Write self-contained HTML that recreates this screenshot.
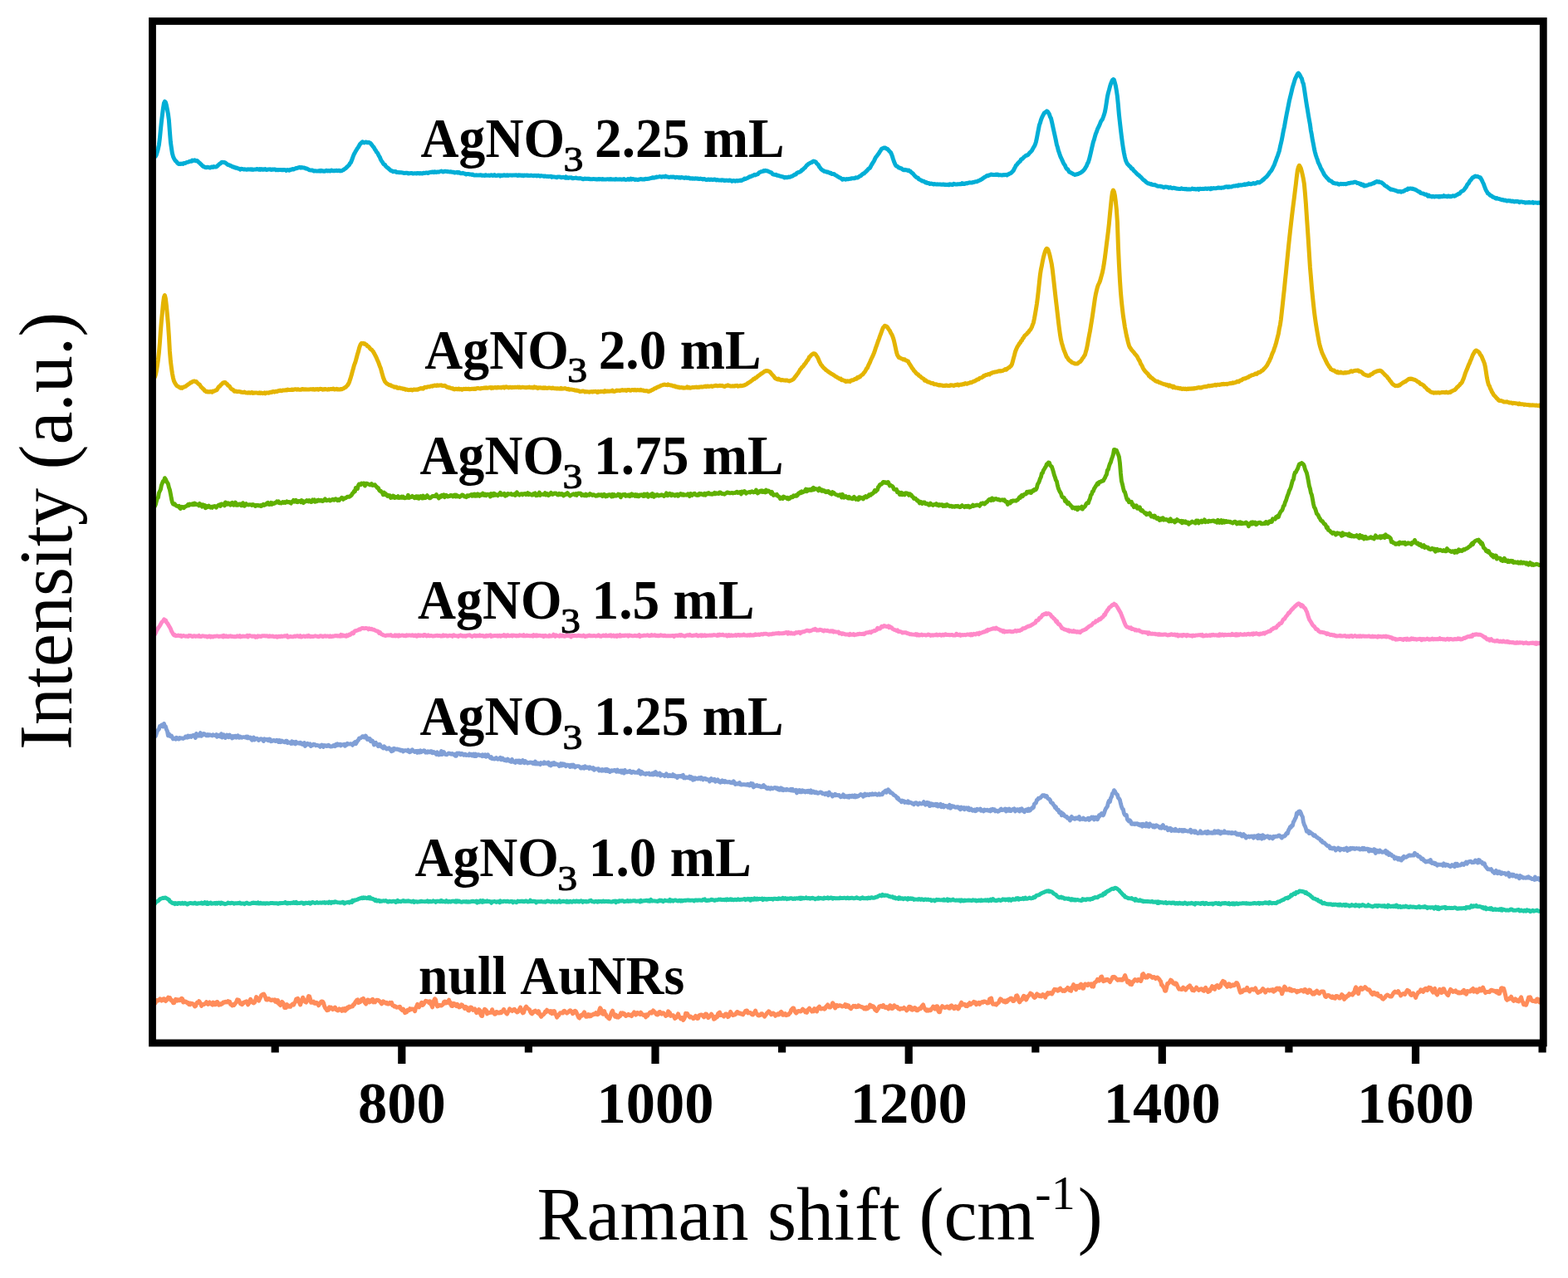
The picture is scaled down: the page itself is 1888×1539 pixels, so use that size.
<!DOCTYPE html>
<html><head><meta charset="utf-8"><title>Raman spectra</title>
<style>
html,body{margin:0;padding:0;background:#fff;}
body{width:1888px;height:1539px;overflow:hidden;}
svg{display:block;}
text{font-kerning:none;}
.tk{font-family:"Liberation Serif","Times New Roman",serif;font-weight:bold;font-size:70.5px;fill:#000;}
.lb{font-family:"Liberation Serif","Times New Roman",serif;font-weight:bold;font-size:67px;fill:#000;}
.lb2{font-family:"Liberation Serif","Times New Roman",serif;font-weight:bold;font-size:65.5px;fill:#000;}
.sb{font-size:42.3px;font-weight:normal;stroke:#000;stroke-width:1.1px;}
.ax{font-family:"Liberation Serif","Times New Roman",serif;font-weight:normal;font-size:90px;fill:#000;}
.sp{font-size:58px;}
</style></head>
<body>
<svg width="1888" height="1539" viewBox="0 0 1888 1539">
<rect width="1888" height="1539" fill="#fff"/>
<polyline fill="none" stroke="#00AED6" stroke-width="5.0" stroke-linejoin="round" stroke-linecap="round" points="186.4,189.0 187.4,188.3 188.4,186.1 189.4,182.8 190.4,179.1 191.4,174.4 192.4,166.4 193.4,156.3 194.4,146.8 195.4,138.5 196.4,130.6 197.4,124.4 198.4,122.2 199.4,123.3 200.4,126.8 201.4,131.8 202.4,137.1 203.4,144.8 204.4,158.5 205.4,171.1 206.4,178.2 207.4,184.6 208.4,188.2 209.4,190.6 210.4,192.4 211.4,193.8 212.4,194.4 213.4,196.1 214.4,197.0 215.4,197.5 216.4,197.2 217.4,197.5 218.4,197.2 219.4,197.1 220.4,197.4 221.4,196.5 222.4,196.4 223.4,196.4 224.4,195.6 225.4,195.4 226.4,195.2 227.4,194.9 228.4,194.2 229.4,194.2 230.4,194.3 231.4,193.1 232.4,193.6 233.4,193.1 234.4,192.8 235.4,193.7 236.4,193.6 237.4,193.5 238.4,194.5 239.4,195.5 240.4,196.2 241.4,197.4 242.4,198.1 243.4,199.3 244.4,200.4 245.4,200.5 246.4,201.3 247.4,201.5 248.4,201.7 249.4,201.3 250.4,201.5 251.4,201.6 252.4,201.9 253.4,201.9 254.4,201.1 255.4,201.1 256.4,201.5 257.4,200.6 258.4,200.9 259.4,200.9 260.4,201.0 261.4,200.3 262.4,199.2 263.4,198.3 264.4,197.4 265.4,197.0 266.4,195.8 267.4,195.3 268.4,195.4 269.4,195.4 270.4,195.8 271.4,196.0 272.4,196.9 273.4,197.4 274.4,198.4 275.4,198.7 276.4,199.0 277.4,199.6 278.4,199.8 279.4,200.7 280.4,200.8 281.4,201.5 282.4,201.3 283.4,202.2 284.4,202.0 285.4,202.2 286.4,202.9 287.4,203.0 288.4,203.4 289.4,204.1 290.4,203.3 291.4,203.4 292.4,203.8 293.4,203.9 294.4,203.8 295.4,203.9 296.4,204.2 297.4,204.2 298.4,203.8 299.4,204.1 300.4,204.1 301.4,203.8 302.4,204.2 303.4,203.8 304.4,204.4 305.4,204.2 306.4,204.1 307.4,203.9 308.4,204.1 309.4,203.5 310.4,203.8 311.4,204.2 312.4,203.5 313.4,204.4 314.4,203.6 315.4,204.3 316.4,203.8 317.4,204.3 318.4,204.1 319.4,203.6 320.4,204.5 321.4,204.5 322.4,204.1 323.4,204.0 324.4,204.1 325.4,203.8 326.4,204.5 327.4,204.0 328.4,204.2 329.4,204.0 330.4,204.1 331.4,203.9 332.4,204.8 333.4,204.4 334.4,204.8 335.4,204.5 336.4,204.4 337.4,204.5 338.4,204.5 339.4,204.7 340.4,204.6 341.4,204.7 342.4,204.4 343.4,204.6 344.4,205.4 345.4,204.7 346.4,204.6 347.4,205.0 348.4,205.2 349.4,204.2 350.4,204.4 351.4,204.1 352.4,203.5 353.4,203.9 354.4,203.4 355.4,203.1 356.4,202.6 357.4,202.7 358.4,202.1 359.4,202.0 360.4,201.5 361.4,201.4 362.4,202.1 363.4,201.6 364.4,201.9 365.4,202.0 366.4,202.1 367.4,202.4 368.4,203.1 369.4,203.1 370.4,203.6 371.4,204.0 372.4,204.7 373.4,204.9 374.4,205.1 375.4,205.1 376.4,205.1 377.4,205.9 378.4,206.0 379.4,205.7 380.4,205.9 381.4,205.9 382.4,205.9 383.4,206.0 384.4,205.6 385.4,206.2 386.4,205.3 387.4,206.0 388.4,205.8 389.4,206.0 390.4,206.3 391.4,206.1 392.4,205.4 393.4,205.2 394.4,205.9 395.4,205.4 396.4,205.7 397.4,206.0 398.4,205.2 399.4,205.1 400.4,205.8 401.4,205.7 402.4,205.6 403.4,205.7 404.4,205.4 405.4,205.2 406.4,205.7 407.4,205.4 408.4,205.2 409.4,205.9 410.4,205.7 411.4,205.7 412.4,205.0 413.4,204.6 414.4,203.9 415.4,203.2 416.4,202.6 417.4,201.4 418.4,200.7 419.4,199.5 420.4,198.8 421.4,196.6 422.4,195.8 423.4,193.3 424.4,190.8 425.4,187.7 426.4,185.5 427.4,183.7 428.4,181.8 429.4,180.2 430.4,178.5 431.4,177.3 432.4,175.5 433.4,173.6 434.4,172.9 435.4,171.7 436.4,170.7 437.4,171.3 438.4,171.9 439.4,171.5 440.4,171.1 441.4,171.2 442.4,171.8 443.4,171.5 444.4,171.6 445.4,172.0 446.4,172.8 447.4,174.2 448.4,175.4 449.4,176.7 450.4,177.9 451.4,179.9 452.4,181.1 453.4,183.1 454.4,183.9 455.4,185.9 456.4,187.8 457.4,189.3 458.4,192.1 459.4,193.8 460.4,195.0 461.4,196.9 462.4,198.1 463.4,198.2 464.4,200.1 465.4,201.0 466.4,201.9 467.4,202.5 468.4,203.5 469.4,204.3 470.4,205.4 471.4,205.7 472.4,206.0 473.4,206.8 474.4,206.4 475.4,206.6 476.4,206.4 477.4,207.5 478.4,207.5 479.4,207.6 480.4,207.7 481.4,207.6 482.4,207.8 483.4,207.8 484.4,207.9 485.4,208.1 486.4,208.6 487.4,208.4 488.4,208.3 489.4,208.3 490.4,208.3 491.4,209.0 492.4,208.8 493.4,208.7 494.4,208.6 495.4,208.4 496.4,208.8 497.4,209.1 498.4,208.7 499.4,208.8 500.4,208.8 501.4,208.9 502.4,208.4 503.4,208.8 504.4,208.6 505.4,209.1 506.4,208.5 507.4,208.9 508.4,209.1 509.4,208.5 510.4,208.3 511.4,208.4 512.4,208.3 513.4,207.9 514.4,208.2 515.4,208.6 516.4,207.8 517.4,207.7 518.4,207.3 519.4,207.6 520.4,207.0 521.4,207.0 522.4,207.6 523.4,206.8 524.4,207.3 525.4,207.4 526.4,206.9 527.4,206.9 528.4,207.3 529.4,206.6 530.4,206.4 531.4,206.1 532.4,206.5 533.4,206.9 534.4,206.8 535.4,206.2 536.4,206.3 537.4,206.4 538.4,206.7 539.4,206.6 540.4,206.8 541.4,206.9 542.4,206.8 543.4,207.0 544.4,207.2 545.4,207.2 546.4,207.5 547.4,208.0 548.4,207.8 549.4,207.7 550.4,207.3 551.4,208.1 552.4,207.5 553.4,207.8 554.4,208.7 555.4,208.8 556.4,208.7 557.4,208.3 558.4,208.9 559.4,208.9 560.4,209.5 561.4,210.1 562.4,209.6 563.4,209.5 564.4,209.5 565.4,210.0 566.4,210.1 567.4,209.9 568.4,210.4 569.4,210.1 570.4,210.9 571.4,211.0 572.4,211.1 573.4,210.7 574.4,211.1 575.4,211.0 576.4,210.9 577.4,211.0 578.4,210.8 579.4,210.7 580.4,211.4 581.4,211.1 582.4,211.3 583.4,211.5 584.4,210.7 585.4,211.0 586.4,211.3 587.4,211.3 588.4,211.1 589.4,211.5 590.4,211.3 591.4,210.8 592.4,210.9 593.4,211.4 594.4,211.3 595.4,210.6 596.4,211.6 597.4,211.4 598.4,211.6 599.4,211.1 600.4,211.1 601.4,210.9 602.4,212.0 603.4,211.1 604.4,211.7 605.4,211.0 606.4,211.2 607.4,210.7 608.4,211.1 609.4,211.5 610.4,210.8 611.4,211.5 612.4,211.3 613.4,210.9 614.4,211.0 615.4,211.1 616.4,211.2 617.4,211.0 618.4,211.0 619.4,211.1 620.4,210.9 621.4,210.8 622.4,211.2 623.4,211.5 624.4,210.7 625.4,211.2 626.4,211.0 627.4,210.9 628.4,211.5 629.4,211.0 630.4,211.7 631.4,211.0 632.4,211.3 633.4,211.2 634.4,211.0 635.4,211.5 636.4,211.3 637.4,211.5 638.4,211.4 639.4,211.1 640.4,211.4 641.4,211.5 642.4,211.8 643.4,211.3 644.4,211.6 645.4,211.2 646.4,211.9 647.4,211.5 648.4,211.3 649.4,211.9 650.4,212.3 651.4,211.6 652.4,211.8 653.4,211.9 654.4,211.9 655.4,212.4 656.4,212.1 657.4,212.2 658.4,212.6 659.4,212.3 660.4,212.7 661.4,212.4 662.4,212.4 663.4,212.3 664.4,213.4 665.4,212.8 666.4,213.1 667.4,213.1 668.4,213.2 669.4,213.2 670.4,213.8 671.4,213.0 672.4,212.9 673.4,213.1 674.4,213.1 675.4,213.8 676.4,213.8 677.4,213.4 678.4,213.3 679.4,213.6 680.4,214.2 681.4,213.0 682.4,214.1 683.4,213.7 684.4,214.4 685.4,213.8 686.4,214.1 687.4,213.8 688.4,214.0 689.4,214.8 690.4,214.7 691.4,214.4 692.4,214.3 693.4,214.1 694.4,214.6 695.4,214.8 696.4,214.8 697.4,214.9 698.4,214.6 699.4,215.0 700.4,215.1 701.4,215.5 702.4,215.8 703.4,215.2 704.4,215.1 705.4,215.4 706.4,215.3 707.4,215.3 708.4,215.5 709.4,215.3 710.4,215.8 711.4,215.7 712.4,215.8 713.4,215.7 714.4,215.6 715.4,215.6 716.4,215.8 717.4,215.7 718.4,216.0 719.4,216.0 720.4,215.6 721.4,216.0 722.4,215.6 723.4,215.8 724.4,215.9 725.4,215.4 726.4,216.0 727.4,216.0 728.4,216.0 729.4,215.9 730.4,215.9 731.4,215.7 732.4,215.9 733.4,215.8 734.4,216.0 735.4,215.6 736.4,216.1 737.4,216.0 738.4,216.0 739.4,215.9 740.4,216.2 741.4,215.5 742.4,216.1 743.4,216.1 744.4,216.1 745.4,216.1 746.4,215.8 747.4,215.9 748.4,216.2 749.4,216.1 750.4,216.1 751.4,215.5 752.4,216.2 753.4,216.4 754.4,216.3 755.4,216.1 756.4,215.5 757.4,216.3 758.4,216.0 759.4,215.2 760.4,216.1 761.4,215.6 762.4,215.6 763.4,215.8 764.4,216.4 765.4,215.9 766.4,216.1 767.4,216.5 768.4,216.5 769.4,216.0 770.4,215.9 771.4,215.6 772.4,215.7 773.4,216.0 774.4,215.9 775.4,215.8 776.4,215.9 777.4,215.3 778.4,215.4 779.4,215.5 780.4,215.3 781.4,215.3 782.4,214.9 783.4,214.5 784.4,214.6 785.4,214.0 786.4,213.7 787.4,214.2 788.4,213.8 789.4,213.8 790.4,213.0 791.4,213.3 792.4,213.1 793.4,212.9 794.4,212.4 795.4,212.9 796.4,213.2 797.4,213.0 798.4,212.6 799.4,212.8 800.4,213.0 801.4,212.0 802.4,212.8 803.4,213.0 804.4,213.1 805.4,213.4 806.4,213.3 807.4,213.1 808.4,213.1 809.4,213.3 810.4,212.9 811.4,213.2 812.4,213.5 813.4,213.9 814.4,213.3 815.4,213.4 816.4,213.5 817.4,214.0 818.4,213.6 819.4,214.2 820.4,213.5 821.4,213.8 822.4,213.9 823.4,214.3 824.4,214.4 825.4,213.7 826.4,214.0 827.4,214.4 828.4,214.2 829.4,214.0 830.4,214.9 831.4,214.8 832.4,214.9 833.4,214.7 834.4,215.2 835.4,214.9 836.4,215.3 837.4,214.8 838.4,214.9 839.4,215.3 840.4,215.0 841.4,215.5 842.4,215.4 843.4,215.1 844.4,215.5 845.4,215.4 846.4,215.9 847.4,215.5 848.4,215.6 849.4,216.2 850.4,216.5 851.4,216.5 852.4,216.0 853.4,216.1 854.4,216.6 855.4,216.2 856.4,216.0 857.4,216.4 858.4,216.5 859.4,216.2 860.4,216.0 861.4,216.2 862.4,216.9 863.4,216.5 864.4,216.8 865.4,216.9 866.4,217.1 867.4,216.9 868.4,217.2 869.4,216.8 870.4,217.0 871.4,216.9 872.4,217.6 873.4,217.3 874.4,217.1 875.4,217.3 876.4,217.3 877.4,217.6 878.4,217.0 879.4,217.2 880.4,217.4 881.4,218.3 882.4,217.8 883.4,217.5 884.4,217.8 885.4,218.2 886.4,217.5 887.4,217.5 888.4,217.9 889.4,217.6 890.4,217.5 891.4,217.0 892.4,217.5 893.4,217.2 894.4,216.5 895.4,216.2 896.4,215.1 897.4,215.5 898.4,214.9 899.4,214.7 900.4,214.3 901.4,213.6 902.4,212.8 903.4,213.0 904.4,212.3 905.4,212.0 906.4,211.5 907.4,211.2 908.4,210.3 909.4,210.9 910.4,210.2 911.4,210.0 912.4,209.7 913.4,208.6 914.4,207.6 915.4,207.3 916.4,206.8 917.4,206.6 918.4,206.4 919.4,205.5 920.4,206.0 921.4,205.3 922.4,205.8 923.4,205.8 924.4,206.0 925.4,206.5 926.4,206.9 927.4,207.4 928.4,207.6 929.4,208.6 930.4,209.7 931.4,210.1 932.4,210.3 933.4,210.4 934.4,210.3 935.4,211.3 936.4,211.2 937.4,211.5 938.4,211.8 939.4,212.2 940.4,212.3 941.4,212.7 942.4,212.7 943.4,213.1 944.4,214.0 945.4,213.5 946.4,213.5 947.4,213.8 948.4,213.8 949.4,213.1 950.4,213.2 951.4,213.2 952.4,212.6 953.4,212.2 954.4,212.1 955.4,211.0 956.4,210.6 957.4,209.9 958.4,209.9 959.4,208.3 960.4,208.0 961.4,207.5 962.4,207.3 963.4,206.7 964.4,206.3 965.4,204.7 966.4,204.6 967.4,203.4 968.4,202.4 969.4,201.8 970.4,200.4 971.4,199.1 972.4,198.6 973.4,197.4 974.4,196.8 975.4,196.4 976.4,195.7 977.4,195.6 978.4,194.7 979.4,194.1 980.4,194.3 981.4,194.6 982.4,195.2 983.4,196.8 984.4,197.7 985.4,198.6 986.4,200.8 987.4,201.9 988.4,203.3 989.4,204.2 990.4,205.1 991.4,205.4 992.4,206.3 993.4,206.4 994.4,206.8 995.4,207.2 996.4,206.9 997.4,207.6 998.4,207.9 999.4,208.4 1000.4,208.2 1001.4,209.5 1002.4,209.4 1003.4,209.4 1004.4,209.7 1005.4,210.6 1006.4,211.2 1007.4,211.6 1008.4,212.5 1009.4,212.8 1010.4,213.8 1011.4,213.9 1012.4,214.6 1013.4,215.4 1014.4,216.2 1015.4,215.5 1016.4,215.8 1017.4,215.7 1018.4,216.2 1019.4,215.6 1020.4,215.7 1021.4,215.8 1022.4,215.4 1023.4,215.3 1024.4,215.3 1025.4,214.7 1026.4,214.7 1027.4,214.8 1028.4,214.8 1029.4,214.5 1030.4,213.8 1031.4,213.9 1032.4,213.9 1033.4,213.4 1034.4,212.7 1035.4,211.9 1036.4,211.8 1037.4,210.7 1038.4,209.8 1039.4,209.1 1040.4,209.0 1041.4,207.7 1042.4,207.1 1043.4,205.7 1044.4,205.2 1045.4,203.7 1046.4,202.8 1047.4,202.4 1048.4,200.5 1049.4,198.5 1050.4,197.0 1051.4,195.3 1052.4,193.8 1053.4,191.6 1054.4,189.5 1055.4,188.3 1056.4,187.0 1057.4,185.6 1058.4,184.4 1059.4,182.5 1060.4,181.2 1061.4,179.3 1062.4,178.9 1063.4,178.5 1064.4,177.9 1065.4,177.9 1066.4,178.3 1067.4,179.3 1068.4,179.2 1069.4,180.3 1070.4,181.5 1071.4,182.6 1072.4,183.4 1073.4,185.6 1074.4,188.2 1075.4,191.5 1076.4,194.5 1077.4,196.9 1078.4,199.0 1079.4,200.1 1080.4,200.3 1081.4,201.2 1082.4,202.0 1083.4,202.0 1084.4,202.8 1085.4,202.8 1086.4,203.8 1087.4,204.5 1088.4,204.7 1089.4,204.3 1090.4,204.8 1091.4,204.8 1092.4,205.0 1093.4,205.6 1094.4,205.1 1095.4,206.2 1096.4,206.5 1097.4,207.8 1098.4,208.4 1099.4,209.1 1100.4,210.5 1101.4,211.7 1102.4,212.5 1103.4,213.6 1104.4,214.1 1105.4,214.3 1106.4,215.8 1107.4,216.3 1108.4,216.7 1109.4,217.2 1110.4,218.0 1111.4,218.0 1112.4,218.4 1113.4,219.1 1114.4,219.9 1115.4,219.5 1116.4,220.6 1117.4,220.4 1118.4,220.5 1119.4,221.5 1120.4,221.2 1121.4,221.0 1122.4,221.4 1123.4,221.8 1124.4,222.0 1125.4,221.6 1126.4,221.9 1127.4,222.1 1128.4,221.7 1129.4,222.1 1130.4,222.0 1131.4,221.9 1132.4,222.0 1133.4,222.2 1134.4,222.2 1135.4,222.0 1136.4,222.1 1137.4,222.5 1138.4,222.3 1139.4,222.5 1140.4,222.5 1141.4,222.3 1142.4,222.8 1143.4,221.9 1144.4,222.3 1145.4,222.0 1146.4,222.6 1147.4,222.5 1148.4,221.3 1149.4,221.6 1150.4,222.0 1151.4,222.0 1152.4,222.0 1153.4,221.7 1154.4,221.8 1155.4,221.8 1156.4,221.5 1157.4,221.7 1158.4,220.7 1159.4,221.5 1160.4,220.9 1161.4,221.4 1162.4,220.9 1163.4,220.6 1164.4,220.9 1165.4,220.3 1166.4,220.2 1167.4,219.8 1168.4,220.1 1169.4,220.1 1170.4,220.0 1171.4,219.5 1172.4,219.6 1173.4,219.1 1174.4,218.8 1175.4,218.8 1176.4,218.7 1177.4,218.0 1178.4,217.7 1179.4,217.3 1180.4,216.8 1181.4,215.9 1182.4,215.9 1183.4,214.8 1184.4,214.3 1185.4,213.3 1186.4,213.0 1187.4,212.3 1188.4,211.5 1189.4,211.8 1190.4,210.9 1191.4,211.0 1192.4,210.6 1193.4,210.1 1194.4,210.2 1195.4,210.5 1196.4,210.4 1197.4,210.5 1198.4,210.4 1199.4,210.0 1200.4,210.6 1201.4,210.1 1202.4,210.9 1203.4,210.7 1204.4,210.7 1205.4,210.9 1206.4,211.1 1207.4,210.7 1208.4,210.6 1209.4,210.8 1210.4,210.4 1211.4,210.5 1212.4,211.0 1213.4,209.9 1214.4,210.0 1215.4,209.0 1216.4,209.0 1217.4,208.3 1218.4,207.4 1219.4,206.3 1220.4,205.1 1221.4,202.9 1222.4,201.2 1223.4,199.2 1224.4,198.3 1225.4,196.8 1226.4,196.0 1227.4,194.7 1228.4,194.2 1229.4,192.1 1230.4,191.6 1231.4,191.0 1232.4,189.8 1233.4,188.8 1234.4,188.2 1235.4,187.1 1236.4,186.9 1237.4,186.9 1238.4,185.8 1239.4,184.3 1240.4,183.4 1241.4,182.4 1242.4,181.5 1243.4,179.4 1244.4,177.7 1245.4,176.2 1246.4,174.0 1247.4,170.9 1248.4,166.4 1249.4,161.0 1250.4,155.9 1251.4,150.7 1252.4,148.1 1253.4,144.5 1254.4,141.9 1255.4,139.8 1256.4,137.8 1257.4,135.9 1258.4,135.4 1259.4,134.7 1260.4,133.8 1261.4,134.2 1262.4,135.9 1263.4,137.4 1264.4,140.6 1265.4,142.2 1266.4,146.3 1267.4,150.9 1268.4,155.5 1269.4,160.0 1270.4,164.5 1271.4,169.1 1272.4,174.2 1273.4,177.3 1274.4,181.4 1275.4,184.2 1276.4,187.2 1277.4,189.7 1278.4,191.7 1279.4,193.9 1280.4,196.2 1281.4,197.9 1282.4,199.3 1283.4,201.7 1284.4,203.3 1285.4,203.6 1286.4,205.3 1287.4,207.0 1288.4,207.3 1289.4,207.9 1290.4,208.5 1291.4,209.0 1292.4,209.7 1293.4,209.9 1294.4,210.5 1295.4,210.1 1296.4,210.0 1297.4,209.5 1298.4,209.4 1299.4,208.7 1300.4,208.3 1301.4,208.0 1302.4,207.1 1303.4,206.4 1304.4,205.5 1305.4,204.4 1306.4,203.0 1307.4,201.2 1308.4,199.6 1309.4,196.9 1310.4,195.3 1311.4,192.1 1312.4,188.2 1313.4,184.0 1314.4,179.4 1315.4,175.2 1316.4,170.9 1317.4,168.1 1318.4,164.4 1319.4,161.0 1320.4,158.7 1321.4,155.7 1322.4,153.7 1323.4,151.6 1324.4,149.2 1325.4,146.6 1326.4,144.9 1327.4,143.7 1328.4,141.0 1329.4,138.1 1330.4,134.7 1331.4,129.5 1332.4,122.8 1333.4,116.4 1334.4,111.9 1335.4,108.4 1336.4,104.5 1337.4,101.1 1338.4,98.7 1339.4,96.4 1340.4,95.6 1341.4,96.1 1342.4,99.7 1343.4,103.5 1344.4,109.4 1345.4,116.2 1346.4,126.6 1347.4,138.0 1348.4,147.1 1349.4,155.9 1350.4,164.1 1351.4,171.8 1352.4,178.5 1353.4,184.2 1354.4,189.0 1355.4,193.0 1356.4,195.4 1357.4,197.2 1358.4,198.3 1359.4,199.6 1360.4,200.2 1361.4,201.3 1362.4,203.1 1363.4,202.9 1364.4,204.5 1365.4,205.8 1366.4,206.6 1367.4,207.5 1368.4,208.8 1369.4,209.7 1370.4,210.6 1371.4,211.0 1372.4,212.4 1373.4,213.0 1374.4,214.0 1375.4,215.2 1376.4,216.2 1377.4,217.1 1378.4,217.5 1379.4,218.7 1380.4,219.6 1381.4,220.2 1382.4,220.9 1383.4,220.9 1384.4,221.3 1385.4,221.9 1386.4,221.6 1387.4,222.4 1388.4,222.4 1389.4,222.8 1390.4,222.6 1391.4,223.1 1392.4,223.6 1393.4,224.1 1394.4,224.3 1395.4,224.2 1396.4,224.3 1397.4,224.3 1398.4,224.8 1399.4,224.8 1400.4,225.2 1401.4,225.7 1402.4,225.2 1403.4,224.9 1404.4,225.2 1405.4,225.2 1406.4,225.4 1407.4,226.2 1408.4,226.0 1409.4,225.6 1410.4,226.4 1411.4,226.7 1412.4,226.3 1413.4,226.3 1414.4,226.5 1415.4,226.8 1416.4,227.0 1417.4,227.2 1418.4,227.3 1419.4,227.4 1420.4,227.5 1421.4,227.4 1422.4,226.8 1423.4,227.3 1424.4,227.5 1425.4,227.4 1426.4,227.8 1427.4,227.5 1428.4,227.4 1429.4,228.1 1430.4,227.9 1431.4,227.8 1432.4,228.0 1433.4,228.1 1434.4,227.9 1435.4,227.1 1436.4,227.6 1437.4,227.7 1438.4,227.5 1439.4,227.8 1440.4,228.1 1441.4,227.6 1442.4,227.3 1443.4,228.3 1444.4,227.5 1445.4,227.2 1446.4,227.6 1447.4,227.6 1448.4,227.2 1449.4,227.6 1450.4,227.2 1451.4,227.0 1452.4,227.3 1453.4,227.4 1454.4,226.9 1455.4,227.1 1456.4,226.9 1457.4,227.7 1458.4,226.6 1459.4,227.2 1460.4,226.7 1461.4,226.6 1462.4,226.8 1463.4,226.7 1464.4,226.8 1465.4,226.4 1466.4,226.1 1467.4,226.0 1468.4,226.3 1469.4,226.2 1470.4,226.4 1471.4,226.0 1472.4,226.1 1473.4,226.1 1474.4,225.6 1475.4,225.0 1476.4,225.0 1477.4,224.8 1478.4,225.5 1479.4,224.7 1480.4,225.2 1481.4,224.9 1482.4,225.1 1483.4,224.7 1484.4,224.2 1485.4,224.1 1486.4,224.0 1487.4,223.9 1488.4,223.5 1489.4,223.6 1490.4,223.9 1491.4,222.8 1492.4,223.2 1493.4,222.7 1494.4,222.9 1495.4,222.9 1496.4,222.5 1497.4,222.6 1498.4,221.8 1499.4,222.5 1500.4,221.8 1501.4,222.1 1502.4,221.8 1503.4,220.9 1504.4,221.3 1505.4,221.5 1506.4,221.8 1507.4,221.3 1508.4,221.1 1509.4,220.5 1510.4,221.2 1511.4,221.1 1512.4,220.4 1513.4,220.1 1514.4,219.4 1515.4,219.9 1516.4,220.1 1517.4,219.0 1518.4,218.6 1519.4,217.8 1520.4,216.6 1521.4,216.5 1522.4,214.8 1523.4,214.2 1524.4,213.3 1525.4,212.4 1526.4,211.1 1527.4,209.9 1528.4,208.3 1529.4,206.9 1530.4,205.9 1531.4,204.3 1532.4,202.3 1533.4,200.4 1534.4,198.4 1535.4,195.5 1536.4,193.0 1537.4,190.0 1538.4,187.6 1539.4,184.5 1540.4,181.6 1541.4,176.7 1542.4,172.5 1543.4,168.1 1544.4,162.7 1545.4,157.4 1546.4,153.0 1547.4,147.4 1548.4,141.9 1549.4,136.6 1550.4,131.8 1551.4,126.7 1552.4,121.5 1553.4,117.3 1554.4,113.4 1555.4,109.2 1556.4,104.9 1557.4,101.7 1558.4,98.5 1559.4,95.1 1560.4,93.1 1561.4,91.0 1562.4,89.1 1563.4,88.1 1564.4,89.2 1565.4,90.9 1566.4,93.1 1567.4,94.5 1568.4,98.7 1569.4,100.9 1570.4,106.7 1571.4,113.3 1572.4,120.2 1573.4,126.5 1574.4,132.2 1575.4,138.7 1576.4,144.4 1577.4,149.8 1578.4,157.1 1579.4,162.3 1580.4,168.6 1581.4,173.4 1582.4,179.1 1583.4,183.3 1584.4,187.0 1585.4,190.0 1586.4,192.7 1587.4,195.9 1588.4,197.8 1589.4,200.1 1590.4,202.6 1591.4,204.1 1592.4,206.1 1593.4,207.9 1594.4,210.1 1595.4,211.4 1596.4,212.4 1597.4,214.1 1598.4,214.7 1599.4,215.9 1600.4,217.2 1601.4,217.3 1602.4,218.2 1603.4,218.5 1604.4,219.5 1605.4,220.5 1606.4,220.3 1607.4,220.9 1608.4,220.9 1609.4,221.0 1610.4,221.0 1611.4,221.9 1612.4,222.2 1613.4,221.6 1614.4,221.3 1615.4,221.7 1616.4,221.4 1617.4,221.7 1618.4,221.6 1619.4,221.6 1620.4,221.7 1621.4,221.2 1622.4,221.2 1623.4,220.6 1624.4,220.7 1625.4,220.2 1626.4,220.3 1627.4,219.9 1628.4,219.9 1629.4,219.9 1630.4,219.2 1631.4,219.3 1632.4,219.2 1633.4,219.9 1634.4,220.5 1635.4,220.6 1636.4,220.7 1637.4,221.7 1638.4,221.3 1639.4,222.7 1640.4,222.5 1641.4,222.2 1642.4,224.1 1643.4,224.0 1644.4,223.2 1645.4,223.4 1646.4,223.1 1647.4,222.9 1648.4,222.1 1649.4,222.0 1650.4,221.9 1651.4,221.4 1652.4,221.3 1653.4,220.5 1654.4,220.8 1655.4,219.5 1656.4,219.5 1657.4,218.6 1658.4,218.6 1659.4,219.3 1660.4,218.7 1661.4,219.3 1662.4,219.6 1663.4,219.8 1664.4,220.6 1665.4,221.3 1666.4,222.1 1667.4,223.3 1668.4,224.0 1669.4,224.4 1670.4,225.1 1671.4,226.1 1672.4,226.5 1673.4,227.3 1674.4,228.2 1675.4,228.0 1676.4,228.2 1677.4,228.6 1678.4,228.8 1679.4,229.1 1680.4,229.4 1681.4,229.9 1682.4,230.2 1683.4,230.7 1684.4,230.6 1685.4,230.7 1686.4,230.4 1687.4,231.2 1688.4,230.6 1689.4,230.6 1690.4,229.9 1691.4,229.6 1692.4,228.6 1693.4,228.4 1694.4,228.5 1695.4,227.0 1696.4,227.4 1697.4,227.3 1698.4,226.9 1699.4,227.1 1700.4,227.5 1701.4,227.2 1702.4,227.9 1703.4,227.9 1704.4,228.5 1705.4,229.0 1706.4,229.7 1707.4,230.3 1708.4,231.0 1709.4,230.9 1710.4,232.4 1711.4,232.7 1712.4,232.9 1713.4,232.9 1714.4,233.4 1715.4,234.0 1716.4,234.3 1717.4,234.1 1718.4,235.2 1719.4,236.2 1720.4,235.1 1721.4,236.3 1722.4,236.4 1723.4,236.4 1724.4,237.0 1725.4,236.3 1726.4,236.7 1727.4,237.1 1728.4,236.6 1729.4,236.6 1730.4,236.7 1731.4,236.5 1732.4,237.1 1733.4,236.4 1734.4,236.9 1735.4,236.2 1736.4,236.8 1737.4,236.5 1738.4,235.7 1739.4,236.5 1740.4,236.2 1741.4,236.3 1742.4,236.9 1743.4,236.0 1744.4,236.0 1745.4,236.8 1746.4,236.3 1747.4,236.7 1748.4,236.3 1749.4,235.8 1750.4,236.0 1751.4,236.2 1752.4,235.8 1753.4,235.1 1754.4,234.6 1755.4,234.0 1756.4,233.2 1757.4,233.3 1758.4,231.9 1759.4,230.8 1760.4,230.2 1761.4,229.9 1762.4,229.0 1763.4,227.7 1764.4,226.3 1765.4,225.1 1766.4,223.0 1767.4,221.5 1768.4,220.6 1769.4,218.6 1770.4,217.3 1771.4,216.2 1772.4,214.8 1773.4,213.6 1774.4,213.4 1775.4,212.5 1776.4,212.1 1777.4,212.5 1778.4,212.6 1779.4,212.5 1780.4,213.2 1781.4,213.5 1782.4,213.7 1783.4,215.5 1784.4,217.3 1785.4,219.5 1786.4,221.5 1787.4,224.4 1788.4,226.9 1789.4,229.2 1790.4,230.8 1791.4,232.9 1792.4,233.3 1793.4,234.3 1794.4,235.5 1795.4,235.6 1796.4,236.2 1797.4,237.3 1798.4,237.4 1799.4,237.9 1800.4,238.5 1801.4,239.1 1802.4,238.5 1803.4,239.2 1804.4,239.4 1805.4,239.7 1806.4,240.0 1807.4,240.2 1808.4,240.7 1809.4,240.5 1810.4,241.0 1811.4,241.3 1812.4,241.1 1813.4,241.5 1814.4,242.1 1815.4,241.8 1816.4,241.6 1817.4,241.9 1818.4,241.8 1819.4,242.3 1820.4,242.5 1821.4,242.1 1822.4,242.4 1823.4,242.9 1824.4,242.5 1825.4,242.8 1826.4,242.5 1827.4,242.6 1828.4,242.8 1829.4,243.7 1830.4,243.0 1831.4,243.0 1832.4,243.1 1833.4,243.3 1834.4,243.6 1835.4,243.5 1836.4,244.2 1837.4,243.7 1838.4,244.1 1839.4,243.8 1840.4,244.0 1841.4,243.4 1842.4,243.9 1843.4,243.9 1844.4,243.9 1845.4,243.4 1846.4,244.4 1847.4,244.0 1848.4,244.0 1849.4,244.1 1850.4,244.2 1851.4,244.4 1852.4,243.9 1853.4,244.0 1854.4,244.4 1855.4,244.3"/>
<polyline fill="none" stroke="#E4B400" stroke-width="5.0" stroke-linejoin="round" stroke-linecap="round" points="186.4,454.3 187.4,451.3 188.4,446.4 189.4,440.3 190.4,433.3 191.4,424.4 192.4,412.9 193.4,398.7 194.4,386.6 195.4,376.4 196.4,365.5 197.4,358.0 198.4,355.5 199.4,359.6 200.4,368.0 201.4,378.7 202.4,390.0 203.4,404.8 204.4,422.9 205.4,434.9 206.4,442.8 207.4,449.6 208.4,454.8 209.4,458.6 210.4,460.8 211.4,462.5 212.4,463.9 213.4,464.9 214.4,465.3 215.4,466.1 216.4,466.5 217.4,467.2 218.4,466.5 219.4,467.3 220.4,466.5 221.4,466.0 222.4,465.8 223.4,465.4 224.4,464.5 225.4,463.9 226.4,462.9 227.4,462.5 228.4,461.8 229.4,460.8 230.4,460.7 231.4,459.8 232.4,459.4 233.4,459.0 234.4,459.1 235.4,459.7 236.4,459.6 237.4,460.9 238.4,461.7 239.4,462.7 240.4,463.1 241.4,464.9 242.4,466.3 243.4,467.0 244.4,468.4 245.4,468.7 246.4,470.5 247.4,470.9 248.4,471.8 249.4,471.3 250.4,472.1 251.4,471.8 252.4,472.0 253.4,471.4 254.4,471.4 255.4,472.2 256.4,471.1 257.4,471.0 258.4,470.9 259.4,470.1 260.4,470.0 261.4,469.2 262.4,467.3 263.4,465.7 264.4,465.4 265.4,464.1 266.4,463.0 267.4,462.2 268.4,460.9 269.4,460.8 270.4,460.4 271.4,460.7 272.4,462.0 273.4,462.3 274.4,464.1 275.4,464.5 276.4,465.3 277.4,466.9 278.4,468.2 279.4,468.9 280.4,469.2 281.4,470.4 282.4,471.3 283.4,471.0 284.4,471.0 285.4,471.7 286.4,471.6 287.4,471.4 288.4,471.7 289.4,471.7 290.4,472.2 291.4,472.2 292.4,472.6 293.4,472.6 294.4,472.0 295.4,472.7 296.4,473.0 297.4,472.9 298.4,473.2 299.4,472.8 300.4,472.7 301.4,473.3 302.4,472.8 303.4,472.5 304.4,473.5 305.4,473.1 306.4,473.2 307.4,472.9 308.4,473.0 309.4,473.1 310.4,473.3 311.4,473.6 312.4,472.8 313.4,473.7 314.4,473.1 315.4,473.2 316.4,473.7 317.4,473.4 318.4,472.9 319.4,473.8 320.4,472.9 321.4,473.1 322.4,473.0 323.4,473.2 324.4,472.4 325.4,472.7 326.4,472.0 327.4,472.4 328.4,471.6 329.4,471.6 330.4,472.1 331.4,471.4 332.4,471.2 333.4,471.6 334.4,470.9 335.4,470.4 336.4,470.8 337.4,470.1 338.4,470.7 339.4,470.6 340.4,470.0 341.4,469.9 342.4,470.1 343.4,470.0 344.4,469.6 345.4,470.0 346.4,469.1 347.4,469.5 348.4,469.5 349.4,469.5 350.4,469.6 351.4,469.0 352.4,469.5 353.4,469.2 354.4,469.0 355.4,468.8 356.4,468.8 357.4,469.2 358.4,468.7 359.4,469.0 360.4,469.2 361.4,469.2 362.4,469.3 363.4,468.7 364.4,468.5 365.4,469.1 366.4,468.8 367.4,469.1 368.4,468.7 369.4,469.1 370.4,469.0 371.4,468.9 372.4,468.9 373.4,468.8 374.4,468.8 375.4,468.8 376.4,469.0 377.4,468.5 378.4,469.2 379.4,468.7 380.4,469.0 381.4,468.7 382.4,468.6 383.4,469.3 384.4,468.6 385.4,468.3 386.4,468.5 387.4,468.6 388.4,469.3 389.4,468.8 390.4,469.0 391.4,468.4 392.4,468.8 393.4,468.9 394.4,469.2 395.4,468.5 396.4,468.9 397.4,468.8 398.4,468.4 399.4,468.7 400.4,468.6 401.4,468.0 402.4,468.9 403.4,468.9 404.4,468.6 405.4,468.3 406.4,469.1 407.4,468.8 408.4,469.0 409.4,469.1 410.4,468.5 411.4,468.8 412.4,468.3 413.4,467.9 414.4,467.3 415.4,466.6 416.4,466.2 417.4,465.0 418.4,464.0 419.4,462.5 420.4,460.6 421.4,457.5 422.4,454.4 423.4,451.0 424.4,447.2 425.4,443.7 426.4,439.9 427.4,437.4 428.4,434.2 429.4,430.5 430.4,426.6 431.4,423.6 432.4,419.6 433.4,416.5 434.4,414.4 435.4,413.3 436.4,413.6 437.4,413.3 438.4,414.3 439.4,413.9 440.4,414.9 441.4,415.2 442.4,416.8 443.4,417.1 444.4,418.1 445.4,419.5 446.4,420.6 447.4,421.0 448.4,422.4 449.4,423.3 450.4,425.3 451.4,427.1 452.4,429.0 453.4,431.1 454.4,433.5 455.4,435.7 456.4,438.4 457.4,441.3 458.4,443.5 459.4,447.5 460.4,450.9 461.4,454.5 462.4,457.0 463.4,459.4 464.4,460.5 465.4,461.7 466.4,462.2 467.4,462.8 468.4,463.5 469.4,463.8 470.4,463.8 471.4,464.9 472.4,465.1 473.4,465.3 474.4,466.0 475.4,466.3 476.4,465.9 477.4,466.2 478.4,467.2 479.4,467.4 480.4,467.0 481.4,467.1 482.4,467.5 483.4,467.8 484.4,467.7 485.4,468.4 486.4,468.2 487.4,468.5 488.4,469.3 489.4,468.9 490.4,469.3 491.4,469.6 492.4,469.7 493.4,469.4 494.4,469.5 495.4,469.2 496.4,469.9 497.4,469.5 498.4,468.9 499.4,469.2 500.4,469.2 501.4,469.0 502.4,469.3 503.4,469.0 504.4,468.2 505.4,468.2 506.4,467.6 507.4,467.9 508.4,467.6 509.4,468.2 510.4,467.2 511.4,466.3 512.4,466.5 513.4,466.5 514.4,465.9 515.4,465.8 516.4,465.7 517.4,465.7 518.4,465.3 519.4,464.9 520.4,465.2 521.4,464.7 522.4,464.5 523.4,464.1 524.4,464.2 525.4,464.5 526.4,463.7 527.4,464.1 528.4,464.3 529.4,463.9 530.4,464.1 531.4,463.7 532.4,464.5 533.4,464.6 534.4,464.6 535.4,464.3 536.4,464.8 537.4,465.7 538.4,466.3 539.4,466.2 540.4,466.9 541.4,466.7 542.4,467.2 543.4,467.6 544.4,468.0 545.4,467.7 546.4,468.7 547.4,468.9 548.4,468.3 549.4,468.3 550.4,468.8 551.4,468.5 552.4,468.0 553.4,468.9 554.4,468.7 555.4,468.5 556.4,469.3 557.4,468.6 558.4,468.3 559.4,468.6 560.4,468.2 561.4,468.3 562.4,468.6 563.4,468.2 564.4,468.2 565.4,468.8 566.4,468.5 567.4,468.5 568.4,468.3 569.4,468.3 570.4,468.5 571.4,468.0 572.4,468.5 573.4,467.7 574.4,467.8 575.4,467.4 576.4,467.7 577.4,467.9 578.4,468.1 579.4,467.4 580.4,467.5 581.4,467.4 582.4,467.2 583.4,467.0 584.4,467.3 585.4,466.7 586.4,467.2 587.4,467.2 588.4,466.9 589.4,466.7 590.4,466.6 591.4,467.5 592.4,466.5 593.4,467.3 594.4,467.0 595.4,466.6 596.4,466.4 597.4,467.0 598.4,467.1 599.4,466.3 600.4,466.5 601.4,466.8 602.4,466.6 603.4,467.0 604.4,466.2 605.4,466.6 606.4,466.0 607.4,467.0 608.4,466.1 609.4,465.7 610.4,466.3 611.4,466.3 612.4,466.9 613.4,466.2 614.4,466.3 615.4,466.5 616.4,466.8 617.4,466.3 618.4,466.6 619.4,466.5 620.4,466.2 621.4,466.4 622.4,466.3 623.4,466.1 624.4,466.7 625.4,466.0 626.4,466.7 627.4,466.7 628.4,466.4 629.4,466.2 630.4,466.4 631.4,466.6 632.4,466.7 633.4,466.6 634.4,466.8 635.4,466.4 636.4,466.6 637.4,466.1 638.4,466.8 639.4,466.7 640.4,466.5 641.4,467.0 642.4,466.9 643.4,465.9 644.4,466.7 645.4,466.3 646.4,467.1 647.4,467.6 648.4,466.7 649.4,466.9 650.4,466.8 651.4,467.0 652.4,467.2 653.4,467.4 654.4,466.7 655.4,467.5 656.4,466.8 657.4,467.2 658.4,467.5 659.4,467.4 660.4,467.0 661.4,467.1 662.4,467.2 663.4,467.3 664.4,467.7 665.4,467.0 666.4,467.6 667.4,467.7 668.4,467.7 669.4,467.7 670.4,468.1 671.4,467.8 672.4,468.0 673.4,467.9 674.4,468.3 675.4,467.3 676.4,468.3 677.4,467.9 678.4,467.9 679.4,467.8 680.4,467.6 681.4,468.2 682.4,468.2 683.4,468.7 684.4,468.3 685.4,469.3 686.4,469.1 687.4,469.1 688.4,469.1 689.4,469.3 690.4,469.4 691.4,469.7 692.4,470.1 693.4,470.2 694.4,470.0 695.4,470.5 696.4,470.5 697.4,471.0 698.4,471.6 699.4,471.4 700.4,471.2 701.4,471.0 702.4,471.1 703.4,471.2 704.4,472.0 705.4,471.6 706.4,471.9 707.4,471.7 708.4,471.9 709.4,472.3 710.4,471.7 711.4,471.8 712.4,471.6 713.4,472.1 714.4,471.5 715.4,471.5 716.4,471.4 717.4,471.3 718.4,471.9 719.4,472.5 720.4,471.4 721.4,471.9 722.4,471.7 723.4,471.2 724.4,471.4 725.4,471.4 726.4,471.2 727.4,471.9 728.4,470.7 729.4,471.4 730.4,471.3 731.4,471.0 732.4,471.1 733.4,471.3 734.4,471.0 735.4,471.0 736.4,471.1 737.4,470.2 738.4,471.2 739.4,471.4 740.4,470.9 741.4,470.9 742.4,470.1 743.4,470.4 744.4,470.2 745.4,470.2 746.4,470.6 747.4,470.0 748.4,470.1 749.4,469.6 750.4,470.0 751.4,470.1 752.4,469.8 753.4,469.7 754.4,470.4 755.4,469.5 756.4,469.5 757.4,469.5 758.4,470.1 759.4,470.3 760.4,469.8 761.4,469.4 762.4,469.5 763.4,469.9 764.4,469.3 765.4,470.0 766.4,469.9 767.4,469.5 768.4,469.7 769.4,469.7 770.4,470.0 771.4,469.3 772.4,470.1 773.4,469.9 774.4,470.0 775.4,470.6 776.4,470.7 777.4,470.7 778.4,470.6 779.4,470.8 780.4,471.5 781.4,471.5 782.4,470.8 783.4,470.7 784.4,469.8 785.4,469.5 786.4,469.2 787.4,468.3 788.4,467.8 789.4,467.6 790.4,466.9 791.4,466.2 792.4,466.1 793.4,465.4 794.4,465.3 795.4,464.6 796.4,464.1 797.4,463.9 798.4,463.5 799.4,463.2 800.4,463.1 801.4,463.4 802.4,463.4 803.4,463.7 804.4,462.9 805.4,463.4 806.4,463.6 807.4,464.0 808.4,464.0 809.4,464.2 810.4,464.9 811.4,464.9 812.4,464.8 813.4,465.8 814.4,466.0 815.4,465.7 816.4,466.4 817.4,466.1 818.4,466.9 819.4,466.7 820.4,466.6 821.4,466.9 822.4,466.8 823.4,467.2 824.4,467.1 825.4,467.1 826.4,466.9 827.4,465.9 828.4,467.0 829.4,466.4 830.4,467.0 831.4,467.2 832.4,466.9 833.4,466.6 834.4,466.6 835.4,466.6 836.4,466.3 837.4,466.3 838.4,466.1 839.4,466.6 840.4,466.2 841.4,466.4 842.4,465.9 843.4,465.9 844.4,465.8 845.4,465.9 846.4,465.9 847.4,465.6 848.4,465.3 849.4,465.1 850.4,465.8 851.4,465.1 852.4,465.1 853.4,465.5 854.4,465.3 855.4,465.1 856.4,464.8 857.4,465.5 858.4,464.9 859.4,464.9 860.4,464.7 861.4,464.3 862.4,464.3 863.4,464.8 864.4,464.8 865.4,464.6 866.4,464.3 867.4,464.3 868.4,464.6 869.4,464.3 870.4,465.0 871.4,465.0 872.4,465.5 873.4,465.0 874.4,464.5 875.4,464.4 876.4,463.7 877.4,464.5 878.4,464.6 879.4,465.0 880.4,464.9 881.4,464.9 882.4,464.8 883.4,464.9 884.4,465.1 885.4,464.4 886.4,464.6 887.4,464.3 888.4,465.2 889.4,465.1 890.4,464.9 891.4,464.3 892.4,464.7 893.4,464.5 894.4,464.4 895.4,464.0 896.4,463.9 897.4,463.2 898.4,463.0 899.4,462.3 900.4,461.5 901.4,460.9 902.4,460.2 903.4,459.8 904.4,458.8 905.4,458.2 906.4,457.3 907.4,456.3 908.4,456.3 909.4,455.1 910.4,455.0 911.4,454.3 912.4,453.0 913.4,452.5 914.4,451.8 915.4,450.9 916.4,449.9 917.4,449.7 918.4,448.7 919.4,448.2 920.4,447.3 921.4,447.1 922.4,446.4 923.4,446.5 924.4,446.8 925.4,447.0 926.4,447.5 927.4,448.1 928.4,449.5 929.4,450.7 930.4,451.7 931.4,452.7 932.4,454.2 933.4,455.7 934.4,455.7 935.4,456.6 936.4,456.9 937.4,456.2 938.4,457.2 939.4,457.1 940.4,457.9 941.4,457.6 942.4,457.6 943.4,457.9 944.4,458.1 945.4,458.0 946.4,458.2 947.4,457.9 948.4,458.3 949.4,458.6 950.4,459.0 951.4,458.6 952.4,458.1 953.4,457.9 954.4,457.1 955.4,456.5 956.4,455.3 957.4,453.8 958.4,452.7 959.4,451.3 960.4,450.0 961.4,448.6 962.4,446.9 963.4,445.1 964.4,444.2 965.4,442.5 966.4,441.9 967.4,440.8 968.4,438.9 969.4,438.2 970.4,436.7 971.4,434.9 972.4,433.8 973.4,432.4 974.4,430.0 975.4,429.4 976.4,428.0 977.4,427.1 978.4,426.6 979.4,425.7 980.4,425.7 981.4,426.1 982.4,427.2 983.4,428.9 984.4,430.3 985.4,432.4 986.4,435.0 987.4,436.9 988.4,438.9 989.4,439.9 990.4,441.5 991.4,442.5 992.4,443.6 993.4,444.3 994.4,445.6 995.4,446.1 996.4,446.9 997.4,447.6 998.4,448.5 999.4,448.8 1000.4,449.9 1001.4,450.3 1002.4,450.8 1003.4,451.4 1004.4,452.1 1005.4,452.9 1006.4,453.5 1007.4,453.9 1008.4,454.7 1009.4,455.1 1010.4,456.0 1011.4,456.2 1012.4,456.1 1013.4,457.7 1014.4,457.7 1015.4,457.8 1016.4,458.4 1017.4,458.5 1018.4,459.6 1019.4,459.3 1020.4,458.7 1021.4,459.3 1022.4,459.0 1023.4,459.5 1024.4,458.4 1025.4,457.8 1026.4,458.1 1027.4,457.6 1028.4,457.2 1029.4,456.2 1030.4,456.4 1031.4,456.2 1032.4,454.6 1033.4,454.9 1034.4,453.7 1035.4,453.9 1036.4,452.6 1037.4,451.7 1038.4,451.3 1039.4,450.2 1040.4,448.7 1041.4,447.7 1042.4,445.8 1043.4,443.8 1044.4,443.1 1045.4,440.5 1046.4,438.4 1047.4,436.5 1048.4,433.8 1049.4,431.7 1050.4,429.7 1051.4,427.4 1052.4,425.0 1053.4,422.4 1054.4,419.0 1055.4,416.3 1056.4,413.5 1057.4,410.5 1058.4,408.1 1059.4,404.9 1060.4,402.5 1061.4,399.6 1062.4,396.9 1063.4,394.4 1064.4,393.4 1065.4,392.3 1066.4,392.8 1067.4,393.0 1068.4,393.7 1069.4,395.5 1070.4,396.9 1071.4,398.2 1072.4,400.6 1073.4,402.2 1074.4,404.2 1075.4,406.8 1076.4,410.2 1077.4,414.6 1078.4,419.3 1079.4,424.0 1080.4,427.4 1081.4,429.0 1082.4,430.5 1083.4,430.7 1084.4,431.3 1085.4,431.9 1086.4,432.1 1087.4,433.1 1088.4,432.8 1089.4,432.8 1090.4,434.0 1091.4,434.0 1092.4,434.7 1093.4,434.9 1094.4,437.3 1095.4,438.6 1096.4,440.1 1097.4,441.7 1098.4,443.5 1099.4,444.5 1100.4,446.3 1101.4,447.1 1102.4,448.3 1103.4,449.7 1104.4,450.4 1105.4,450.8 1106.4,452.2 1107.4,452.9 1108.4,453.5 1109.4,454.7 1110.4,455.3 1111.4,455.7 1112.4,456.5 1113.4,458.1 1114.4,457.7 1115.4,458.8 1116.4,459.5 1117.4,460.0 1118.4,459.9 1119.4,460.5 1120.4,461.0 1121.4,461.5 1122.4,461.4 1123.4,461.5 1124.4,462.5 1125.4,462.8 1126.4,462.8 1127.4,462.8 1128.4,463.3 1129.4,463.5 1130.4,463.9 1131.4,463.4 1132.4,464.0 1133.4,464.1 1134.4,463.9 1135.4,464.4 1136.4,464.4 1137.4,464.3 1138.4,464.5 1139.4,464.0 1140.4,464.3 1141.4,464.5 1142.4,464.4 1143.4,464.6 1144.4,463.8 1145.4,463.7 1146.4,464.1 1147.4,464.1 1148.4,464.5 1149.4,464.0 1150.4,463.4 1151.4,463.8 1152.4,463.2 1153.4,462.9 1154.4,464.0 1155.4,463.2 1156.4,463.2 1157.4,463.0 1158.4,463.2 1159.4,462.6 1160.4,462.7 1161.4,461.9 1162.4,461.6 1163.4,462.3 1164.4,462.2 1165.4,461.7 1166.4,461.4 1167.4,461.1 1168.4,460.5 1169.4,460.8 1170.4,460.2 1171.4,459.7 1172.4,459.2 1173.4,459.0 1174.4,458.4 1175.4,457.9 1176.4,456.9 1177.4,456.9 1178.4,456.8 1179.4,455.5 1180.4,455.1 1181.4,454.9 1182.4,454.4 1183.4,453.8 1184.4,452.6 1185.4,452.7 1186.4,451.8 1187.4,451.4 1188.4,451.4 1189.4,450.7 1190.4,450.6 1191.4,451.0 1192.4,449.9 1193.4,449.6 1194.4,448.9 1195.4,448.7 1196.4,448.3 1197.4,448.3 1198.4,447.9 1199.4,447.8 1200.4,447.7 1201.4,447.3 1202.4,446.9 1203.4,446.7 1204.4,447.0 1205.4,446.7 1206.4,446.7 1207.4,446.4 1208.4,445.7 1209.4,445.6 1210.4,444.6 1211.4,445.3 1212.4,444.5 1213.4,443.6 1214.4,442.7 1215.4,442.6 1216.4,441.3 1217.4,440.5 1218.4,438.7 1219.4,435.2 1220.4,431.4 1221.4,427.9 1222.4,423.8 1223.4,421.3 1224.4,418.9 1225.4,416.9 1226.4,415.6 1227.4,413.6 1228.4,412.9 1229.4,410.7 1230.4,410.1 1231.4,407.7 1232.4,406.8 1233.4,404.9 1234.4,403.7 1235.4,403.0 1236.4,402.1 1237.4,400.5 1238.4,400.1 1239.4,398.3 1240.4,397.3 1241.4,395.7 1242.4,393.9 1243.4,391.0 1244.4,388.6 1245.4,383.8 1246.4,378.3 1247.4,372.4 1248.4,366.1 1249.4,358.5 1250.4,349.8 1251.4,339.9 1252.4,330.9 1253.4,324.4 1254.4,319.9 1255.4,314.4 1256.4,309.7 1257.4,306.2 1258.4,302.7 1259.4,300.4 1260.4,299.3 1261.4,299.7 1262.4,301.9 1263.4,305.2 1264.4,309.2 1265.4,313.7 1266.4,318.6 1267.4,325.7 1268.4,334.5 1269.4,343.6 1270.4,352.6 1271.4,361.4 1272.4,369.7 1273.4,378.5 1274.4,387.3 1275.4,395.2 1276.4,402.5 1277.4,408.7 1278.4,412.9 1279.4,416.2 1280.4,419.8 1281.4,422.5 1282.4,424.9 1283.4,427.5 1284.4,430.0 1285.4,430.9 1286.4,432.7 1287.4,433.8 1288.4,434.7 1289.4,434.9 1290.4,436.6 1291.4,436.7 1292.4,437.1 1293.4,437.6 1294.4,438.1 1295.4,438.1 1296.4,438.0 1297.4,438.1 1298.4,437.0 1299.4,436.1 1300.4,435.8 1301.4,434.7 1302.4,433.5 1303.4,431.5 1304.4,430.6 1305.4,428.8 1306.4,427.4 1307.4,423.7 1308.4,420.2 1309.4,415.3 1310.4,409.5 1311.4,404.1 1312.4,399.0 1313.4,393.0 1314.4,386.8 1315.4,380.6 1316.4,373.6 1317.4,366.6 1318.4,359.6 1319.4,354.1 1320.4,349.9 1321.4,345.9 1322.4,343.0 1323.4,341.0 1324.4,338.7 1325.4,335.2 1326.4,331.6 1327.4,328.0 1328.4,323.0 1329.4,317.0 1330.4,310.1 1331.4,302.2 1332.4,294.1 1333.4,286.4 1334.4,278.3 1335.4,269.3 1336.4,258.4 1337.4,248.6 1338.4,238.7 1339.4,231.6 1340.4,229.0 1341.4,230.9 1342.4,235.3 1343.4,242.9 1344.4,252.4 1345.4,267.6 1346.4,296.6 1347.4,318.5 1348.4,336.6 1349.4,351.5 1350.4,362.8 1351.4,372.1 1352.4,380.5 1353.4,386.9 1354.4,393.6 1355.4,398.9 1356.4,404.1 1357.4,408.2 1358.4,412.3 1359.4,415.9 1360.4,418.2 1361.4,419.6 1362.4,421.3 1363.4,422.3 1364.4,423.5 1365.4,424.5 1366.4,426.1 1367.4,427.1 1368.4,428.2 1369.4,429.7 1370.4,431.7 1371.4,433.5 1372.4,435.0 1373.4,437.8 1374.4,439.3 1375.4,441.2 1376.4,443.5 1377.4,445.1 1378.4,446.3 1379.4,447.8 1380.4,448.5 1381.4,449.9 1382.4,450.5 1383.4,452.7 1384.4,452.8 1385.4,454.5 1386.4,454.9 1387.4,455.6 1388.4,456.6 1389.4,457.3 1390.4,458.0 1391.4,458.9 1392.4,458.9 1393.4,459.6 1394.4,459.6 1395.4,460.5 1396.4,460.7 1397.4,461.0 1398.4,461.5 1399.4,461.9 1400.4,462.3 1401.4,462.7 1402.4,462.8 1403.4,463.0 1404.4,463.8 1405.4,463.3 1406.4,463.9 1407.4,464.9 1408.4,463.8 1409.4,464.7 1410.4,465.4 1411.4,465.0 1412.4,466.5 1413.4,465.3 1414.4,466.7 1415.4,467.0 1416.4,467.1 1417.4,467.0 1418.4,467.4 1419.4,467.3 1420.4,468.0 1421.4,467.6 1422.4,468.0 1423.4,468.5 1424.4,468.0 1425.4,468.3 1426.4,468.5 1427.4,468.1 1428.4,468.8 1429.4,468.6 1430.4,468.0 1431.4,468.4 1432.4,468.1 1433.4,468.0 1434.4,468.2 1435.4,467.8 1436.4,468.2 1437.4,467.6 1438.4,467.9 1439.4,467.5 1440.4,467.6 1441.4,467.0 1442.4,466.9 1443.4,466.5 1444.4,466.9 1445.4,466.8 1446.4,467.0 1447.4,466.5 1448.4,466.1 1449.4,465.7 1450.4,465.7 1451.4,465.5 1452.4,465.7 1453.4,465.4 1454.4,464.7 1455.4,464.6 1456.4,465.1 1457.4,464.6 1458.4,464.3 1459.4,464.6 1460.4,464.1 1461.4,464.0 1462.4,463.8 1463.4,463.2 1464.4,464.0 1465.4,463.2 1466.4,463.3 1467.4,463.2 1468.4,463.5 1469.4,463.1 1470.4,463.1 1471.4,462.4 1472.4,462.8 1473.4,462.3 1474.4,462.7 1475.4,462.6 1476.4,462.3 1477.4,462.8 1478.4,462.2 1479.4,462.1 1480.4,461.8 1481.4,461.5 1482.4,461.7 1483.4,461.6 1484.4,460.7 1485.4,461.2 1486.4,460.8 1487.4,460.7 1488.4,460.3 1489.4,459.5 1490.4,459.2 1491.4,459.8 1492.4,458.9 1493.4,458.0 1494.4,458.1 1495.4,457.5 1496.4,456.6 1497.4,456.1 1498.4,455.8 1499.4,455.9 1500.4,455.3 1501.4,454.8 1502.4,454.5 1503.4,454.1 1504.4,452.9 1505.4,452.9 1506.4,452.3 1507.4,451.8 1508.4,451.6 1509.4,451.3 1510.4,450.9 1511.4,450.1 1512.4,450.0 1513.4,450.4 1514.4,449.0 1515.4,448.3 1516.4,448.4 1517.4,447.9 1518.4,447.3 1519.4,446.2 1520.4,446.1 1521.4,444.8 1522.4,443.7 1523.4,442.7 1524.4,441.5 1525.4,440.2 1526.4,438.5 1527.4,436.4 1528.4,434.7 1529.4,432.3 1530.4,430.3 1531.4,427.2 1532.4,424.7 1533.4,422.9 1534.4,419.5 1535.4,416.8 1536.4,413.5 1537.4,409.7 1538.4,405.7 1539.4,401.8 1540.4,395.7 1541.4,391.2 1542.4,384.5 1543.4,375.5 1544.4,366.4 1545.4,357.1 1546.4,348.1 1547.4,337.8 1548.4,328.3 1549.4,317.9 1550.4,307.9 1551.4,297.7 1552.4,288.3 1553.4,279.0 1554.4,270.2 1555.4,261.4 1556.4,253.1 1557.4,245.3 1558.4,237.7 1559.4,229.2 1560.4,221.2 1561.4,212.3 1562.4,204.9 1563.4,201.1 1564.4,199.3 1565.4,200.7 1566.4,202.9 1567.4,206.5 1568.4,210.8 1569.4,215.6 1570.4,221.7 1571.4,232.7 1572.4,245.2 1573.4,260.7 1574.4,275.0 1575.4,290.1 1576.4,306.0 1577.4,321.7 1578.4,333.3 1579.4,345.6 1580.4,356.0 1581.4,365.8 1582.4,374.9 1583.4,382.8 1584.4,389.7 1585.4,395.9 1586.4,401.8 1587.4,407.4 1588.4,412.8 1589.4,417.0 1590.4,420.2 1591.4,423.3 1592.4,426.0 1593.4,428.0 1594.4,430.3 1595.4,432.2 1596.4,434.4 1597.4,436.5 1598.4,438.4 1599.4,439.7 1600.4,441.8 1601.4,442.5 1602.4,444.6 1603.4,445.0 1604.4,445.7 1605.4,446.1 1606.4,446.0 1607.4,447.2 1608.4,447.6 1609.4,448.4 1610.4,447.7 1611.4,448.9 1612.4,448.5 1613.4,448.9 1614.4,448.1 1615.4,449.0 1616.4,448.9 1617.4,449.2 1618.4,449.0 1619.4,448.5 1620.4,449.0 1621.4,448.7 1622.4,448.5 1623.4,448.4 1624.4,448.2 1625.4,447.7 1626.4,447.0 1627.4,446.8 1628.4,447.4 1629.4,447.0 1630.4,446.6 1631.4,446.3 1632.4,446.3 1633.4,446.2 1634.4,446.1 1635.4,446.1 1636.4,447.2 1637.4,447.1 1638.4,447.5 1639.4,448.0 1640.4,448.9 1641.4,450.1 1642.4,450.8 1643.4,451.1 1644.4,451.7 1645.4,452.0 1646.4,451.9 1647.4,452.5 1648.4,452.0 1649.4,452.3 1650.4,450.9 1651.4,450.6 1652.4,450.3 1653.4,449.3 1654.4,448.4 1655.4,447.9 1656.4,447.7 1657.4,447.2 1658.4,446.7 1659.4,446.7 1660.4,446.5 1661.4,446.3 1662.4,446.5 1663.4,447.0 1664.4,448.1 1665.4,449.1 1666.4,450.0 1667.4,451.2 1668.4,452.1 1669.4,452.9 1670.4,454.0 1671.4,455.6 1672.4,456.6 1673.4,458.3 1674.4,459.1 1675.4,460.7 1676.4,462.0 1677.4,463.0 1678.4,463.5 1679.4,464.2 1680.4,464.7 1681.4,464.4 1682.4,464.7 1683.4,464.6 1684.4,463.7 1685.4,464.0 1686.4,462.8 1687.4,462.2 1688.4,461.5 1689.4,460.7 1690.4,460.4 1691.4,459.5 1692.4,459.4 1693.4,458.4 1694.4,457.8 1695.4,457.1 1696.4,456.3 1697.4,456.4 1698.4,455.9 1699.4,456.4 1700.4,456.2 1701.4,456.9 1702.4,456.9 1703.4,457.4 1704.4,457.8 1705.4,458.4 1706.4,459.2 1707.4,459.9 1708.4,460.2 1709.4,461.3 1710.4,462.6 1711.4,462.5 1712.4,463.1 1713.4,463.7 1714.4,464.2 1715.4,465.8 1716.4,466.4 1717.4,467.4 1718.4,468.8 1719.4,469.9 1720.4,469.8 1721.4,471.1 1722.4,471.7 1723.4,472.2 1724.4,472.6 1725.4,472.7 1726.4,473.2 1727.4,472.9 1728.4,472.8 1729.4,473.1 1730.4,473.0 1731.4,472.8 1732.4,472.8 1733.4,473.2 1734.4,472.9 1735.4,472.7 1736.4,472.4 1737.4,472.6 1738.4,472.4 1739.4,472.7 1740.4,472.8 1741.4,472.1 1742.4,472.7 1743.4,472.9 1744.4,472.7 1745.4,472.1 1746.4,472.5 1747.4,471.5 1748.4,470.9 1749.4,470.4 1750.4,470.0 1751.4,469.6 1752.4,468.9 1753.4,467.8 1754.4,466.4 1755.4,465.7 1756.4,464.6 1757.4,463.8 1758.4,462.2 1759.4,461.6 1760.4,460.2 1761.4,457.8 1762.4,455.6 1763.4,452.4 1764.4,449.4 1765.4,446.8 1766.4,444.6 1767.4,442.0 1768.4,439.3 1769.4,437.5 1770.4,434.6 1771.4,432.7 1772.4,430.0 1773.4,427.4 1774.4,425.8 1775.4,423.8 1776.4,422.6 1777.4,422.0 1778.4,422.6 1779.4,423.0 1780.4,423.9 1781.4,425.0 1782.4,427.1 1783.4,428.2 1784.4,430.1 1785.4,432.8 1786.4,435.1 1787.4,437.6 1788.4,441.9 1789.4,448.3 1790.4,454.8 1791.4,459.7 1792.4,463.3 1793.4,464.8 1794.4,467.7 1795.4,469.4 1796.4,472.0 1797.4,473.4 1798.4,475.4 1799.4,476.4 1800.4,477.5 1801.4,478.7 1802.4,479.9 1803.4,480.6 1804.4,481.9 1805.4,482.4 1806.4,482.4 1807.4,482.4 1808.4,482.9 1809.4,483.1 1810.4,484.0 1811.4,483.9 1812.4,484.1 1813.4,484.1 1814.4,483.8 1815.4,484.3 1816.4,484.4 1817.4,485.0 1818.4,485.1 1819.4,484.9 1820.4,485.2 1821.4,485.9 1822.4,485.3 1823.4,485.4 1824.4,485.7 1825.4,485.7 1826.4,485.9 1827.4,486.3 1828.4,486.8 1829.4,485.9 1830.4,486.5 1831.4,486.7 1832.4,486.8 1833.4,486.8 1834.4,486.9 1835.4,487.4 1836.4,487.1 1837.4,487.3 1838.4,487.4 1839.4,487.6 1840.4,487.6 1841.4,488.0 1842.4,487.8 1843.4,488.0 1844.4,488.0 1845.4,487.8 1846.4,487.9 1847.4,487.9 1848.4,488.3 1849.4,488.1 1850.4,488.1 1851.4,488.5 1852.4,488.6 1853.4,488.0 1854.4,489.1 1855.4,488.6"/>
<polyline fill="none" stroke="#5FB000" stroke-width="4.9" stroke-linejoin="round" stroke-linecap="round" points="186.4,609.8 187.4,607.6 188.4,603.5 189.4,599.9 190.4,599.4 191.4,593.5 192.4,591.5 193.4,589.5 194.4,584.4 195.4,581.9 196.4,579.5 197.4,579.3 198.4,575.7 199.4,577.1 200.4,579.4 201.4,581.2 202.4,582.7 203.4,587.0 204.4,589.8 205.4,594.7 206.4,600.4 207.4,604.8 208.4,606.9 209.4,607.6 210.4,606.9 211.4,608.4 212.4,609.2 213.4,609.1 214.4,609.9 215.4,609.4 216.4,611.7 217.4,612.5 218.4,610.3 219.4,611.1 220.4,610.5 221.4,611.6 222.4,610.6 223.4,609.9 224.4,609.3 225.4,609.1 226.4,607.6 227.4,608.7 228.4,607.0 229.4,607.7 230.4,607.1 231.4,607.8 232.4,606.7 233.4,607.7 234.4,606.0 235.4,607.5 236.4,607.0 237.4,607.6 238.4,607.7 239.4,608.8 240.4,606.4 241.4,608.8 242.4,607.5 243.4,610.2 244.4,607.7 245.4,608.8 246.4,608.5 247.4,611.7 248.4,609.3 249.4,610.7 250.4,610.2 251.4,609.1 252.4,610.4 253.4,611.2 254.4,610.4 255.4,611.3 256.4,609.9 257.4,610.1 258.4,609.5 259.4,610.0 260.4,611.1 261.4,609.5 262.4,609.1 263.4,608.1 264.4,607.8 265.4,609.5 266.4,607.0 267.4,606.9 268.4,607.4 269.4,606.9 270.4,608.9 271.4,604.9 272.4,607.2 273.4,607.4 274.4,605.7 275.4,606.1 276.4,607.1 277.4,608.2 278.4,605.9 279.4,605.4 280.4,607.7 281.4,608.2 282.4,606.6 283.4,605.0 284.4,608.3 285.4,606.9 286.4,608.2 287.4,607.2 288.4,607.0 289.4,607.0 290.4,608.8 291.4,608.8 292.4,605.7 293.4,606.8 294.4,609.3 295.4,607.5 296.4,606.7 297.4,607.9 298.4,607.9 299.4,608.0 300.4,607.7 301.4,607.9 302.4,607.8 303.4,608.5 304.4,607.5 305.4,608.0 306.4,608.2 307.4,609.5 308.4,608.6 309.4,608.2 310.4,608.7 311.4,608.5 312.4,609.1 313.4,608.5 314.4,609.6 315.4,609.1 316.4,607.8 317.4,607.3 318.4,608.4 319.4,607.9 320.4,607.3 321.4,605.9 322.4,605.4 323.4,607.3 324.4,607.5 325.4,607.4 326.4,605.4 327.4,607.4 328.4,605.8 329.4,606.5 330.4,606.4 331.4,605.2 332.4,605.3 333.4,603.8 334.4,604.8 335.4,603.9 336.4,605.8 337.4,605.4 338.4,606.1 339.4,605.5 340.4,604.5 341.4,605.4 342.4,604.6 343.4,605.5 344.4,605.1 345.4,603.9 346.4,604.8 347.4,604.7 348.4,604.4 349.4,605.4 350.4,606.1 351.4,604.2 352.4,604.1 353.4,602.4 354.4,604.2 355.4,603.9 356.4,602.3 357.4,604.5 358.4,604.7 359.4,603.5 360.4,603.7 361.4,603.2 362.4,604.7 363.4,602.6 364.4,603.6 365.4,605.6 366.4,603.9 367.4,604.2 368.4,603.6 369.4,602.6 370.4,603.6 371.4,603.9 372.4,602.6 373.4,603.8 374.4,604.5 375.4,604.3 376.4,601.9 377.4,602.4 378.4,601.8 379.4,604.2 380.4,603.7 381.4,603.8 382.4,602.3 383.4,602.0 384.4,603.1 385.4,603.1 386.4,602.2 387.4,603.0 388.4,603.5 389.4,603.0 390.4,601.9 391.4,600.8 392.4,602.5 393.4,602.8 394.4,602.3 395.4,602.1 396.4,601.8 397.4,603.0 398.4,602.3 399.4,602.4 400.4,601.3 401.4,601.5 402.4,602.2 403.4,601.0 404.4,600.7 405.4,601.4 406.4,602.6 407.4,601.5 408.4,602.5 409.4,600.9 410.4,600.5 411.4,599.3 412.4,599.8 413.4,601.3 414.4,600.0 415.4,600.1 416.4,599.7 417.4,598.8 418.4,598.2 419.4,598.1 420.4,598.3 421.4,597.7 422.4,597.1 423.4,596.0 424.4,594.1 425.4,593.3 426.4,591.4 427.4,591.7 428.4,587.4 429.4,587.6 430.4,588.5 431.4,584.8 432.4,583.0 433.4,583.1 434.4,583.6 435.4,582.0 436.4,582.7 437.4,582.2 438.4,581.9 439.4,585.1 440.4,582.5 441.4,582.1 442.4,582.3 443.4,583.2 444.4,583.4 445.4,584.0 446.4,583.6 447.4,582.5 448.4,584.5 449.4,584.0 450.4,584.3 451.4,583.7 452.4,585.3 453.4,586.0 454.4,587.6 455.4,587.4 456.4,589.9 457.4,591.1 458.4,591.1 459.4,592.6 460.4,593.3 461.4,595.7 462.4,593.1 463.4,595.4 464.4,594.6 465.4,596.0 466.4,597.4 467.4,596.4 468.4,597.3 469.4,596.7 470.4,599.4 471.4,598.7 472.4,599.1 473.4,597.0 474.4,597.4 475.4,599.5 476.4,598.4 477.4,598.5 478.4,599.1 479.4,597.7 480.4,599.5 481.4,598.8 482.4,599.2 483.4,598.2 484.4,599.2 485.4,598.1 486.4,599.6 487.4,599.8 488.4,599.6 489.4,599.2 490.4,599.3 491.4,596.3 492.4,599.5 493.4,598.4 494.4,598.8 495.4,598.4 496.4,597.4 497.4,598.1 498.4,599.2 499.4,599.8 500.4,598.0 501.4,597.7 502.4,599.8 503.4,597.7 504.4,600.3 505.4,598.5 506.4,597.6 507.4,599.2 508.4,599.9 509.4,597.0 510.4,599.7 511.4,598.0 512.4,599.5 513.4,597.8 514.4,596.7 515.4,598.6 516.4,598.9 517.4,599.9 518.4,599.6 519.4,598.6 520.4,597.7 521.4,597.4 522.4,597.6 523.4,597.1 524.4,597.6 525.4,595.5 526.4,597.9 527.4,597.7 528.4,600.0 529.4,598.3 530.4,597.2 531.4,598.1 532.4,596.4 533.4,596.9 534.4,595.8 535.4,598.7 536.4,597.9 537.4,596.3 538.4,597.2 539.4,598.1 540.4,597.7 541.4,597.5 542.4,596.4 543.4,596.5 544.4,597.2 545.4,597.9 546.4,596.3 547.4,596.0 548.4,598.0 549.4,596.1 550.4,597.9 551.4,597.1 552.4,597.6 553.4,598.4 554.4,597.4 555.4,597.4 556.4,595.9 557.4,596.1 558.4,597.2 559.4,598.0 560.4,597.9 561.4,598.7 562.4,596.8 563.4,596.7 564.4,597.4 565.4,596.5 566.4,596.4 567.4,595.5 568.4,597.3 569.4,595.5 570.4,596.9 571.4,595.1 572.4,597.3 573.4,595.4 574.4,597.1 575.4,594.9 576.4,595.9 577.4,597.3 578.4,595.5 579.4,596.3 580.4,595.8 581.4,594.1 582.4,596.4 583.4,596.5 584.4,595.1 585.4,596.6 586.4,595.3 587.4,595.1 588.4,596.0 589.4,595.4 590.4,598.0 591.4,594.6 592.4,596.6 593.4,596.8 594.4,594.1 595.4,594.3 596.4,596.3 597.4,595.4 598.4,596.1 599.4,596.8 600.4,595.4 601.4,594.8 602.4,593.3 603.4,595.9 604.4,594.8 605.4,595.9 606.4,595.8 607.4,594.4 608.4,597.2 609.4,596.6 610.4,596.3 611.4,594.5 612.4,595.2 613.4,595.0 614.4,595.1 615.4,594.5 616.4,595.8 617.4,595.6 618.4,595.7 619.4,594.9 620.4,596.5 621.4,595.5 622.4,592.9 623.4,594.8 624.4,595.3 625.4,596.2 626.4,595.0 627.4,595.0 628.4,594.7 629.4,595.8 630.4,594.8 631.4,594.7 632.4,594.5 633.4,595.7 634.4,594.7 635.4,593.7 636.4,595.7 637.4,594.5 638.4,595.4 639.4,595.5 640.4,596.2 641.4,596.0 642.4,594.6 643.4,594.9 644.4,593.9 645.4,596.6 646.4,595.5 647.4,596.3 648.4,594.8 649.4,593.2 650.4,596.4 651.4,595.1 652.4,595.1 653.4,595.1 654.4,595.6 655.4,595.5 656.4,593.6 657.4,596.0 658.4,594.5 659.4,594.6 660.4,596.6 661.4,595.8 662.4,594.7 663.4,593.3 664.4,595.2 665.4,595.5 666.4,594.9 667.4,593.9 668.4,594.3 669.4,593.9 670.4,595.2 671.4,595.8 672.4,596.0 673.4,594.4 674.4,595.3 675.4,595.6 676.4,594.6 677.4,595.0 678.4,597.0 679.4,595.3 680.4,596.0 681.4,594.8 682.4,595.2 683.4,593.7 684.4,595.2 685.4,596.3 686.4,597.2 687.4,596.4 688.4,595.9 689.4,595.4 690.4,594.8 691.4,595.2 692.4,595.9 693.4,594.7 694.4,596.3 695.4,594.6 696.4,593.9 697.4,594.6 698.4,594.0 699.4,594.3 700.4,596.6 701.4,595.4 702.4,595.8 703.4,596.7 704.4,596.8 705.4,595.2 706.4,596.9 707.4,596.1 708.4,595.8 709.4,596.2 710.4,594.5 711.4,595.1 712.4,595.7 713.4,596.4 714.4,595.6 715.4,595.8 716.4,596.8 717.4,597.2 718.4,596.7 719.4,597.1 720.4,595.7 721.4,595.8 722.4,596.4 723.4,595.8 724.4,595.7 725.4,597.6 726.4,596.0 727.4,595.3 728.4,596.6 729.4,597.9 730.4,596.3 731.4,597.4 732.4,595.9 733.4,595.8 734.4,595.7 735.4,596.2 736.4,598.0 737.4,595.3 738.4,597.8 739.4,595.5 740.4,596.2 741.4,597.2 742.4,597.0 743.4,596.7 744.4,595.0 745.4,596.8 746.4,595.5 747.4,598.8 748.4,596.3 749.4,596.6 750.4,595.5 751.4,596.1 752.4,595.3 753.4,597.4 754.4,596.3 755.4,597.0 756.4,595.9 757.4,596.0 758.4,597.7 759.4,595.6 760.4,594.9 761.4,596.9 762.4,595.5 763.4,596.1 764.4,597.3 765.4,595.7 766.4,597.3 767.4,595.9 768.4,597.8 769.4,597.7 770.4,596.0 771.4,596.3 772.4,595.7 773.4,596.6 774.4,597.5 775.4,595.1 776.4,597.2 777.4,595.2 778.4,595.6 779.4,594.8 780.4,598.3 781.4,596.4 782.4,596.6 783.4,595.7 784.4,597.3 785.4,594.4 786.4,596.3 787.4,598.3 788.4,595.9 789.4,596.3 790.4,596.9 791.4,595.5 792.4,596.2 793.4,597.1 794.4,596.4 795.4,596.5 796.4,595.8 797.4,596.4 798.4,596.2 799.4,597.4 800.4,596.7 801.4,595.9 802.4,593.9 803.4,596.7 804.4,596.7 805.4,595.2 806.4,594.2 807.4,594.9 808.4,596.8 809.4,595.0 810.4,595.5 811.4,596.1 812.4,597.0 813.4,595.8 814.4,595.7 815.4,595.3 816.4,597.3 817.4,596.7 818.4,595.7 819.4,594.5 820.4,595.0 821.4,596.2 822.4,595.0 823.4,596.4 824.4,595.9 825.4,595.9 826.4,596.2 827.4,596.0 828.4,594.8 829.4,595.2 830.4,597.6 831.4,594.4 832.4,595.0 833.4,596.4 834.4,595.3 835.4,594.6 836.4,594.2 837.4,595.8 838.4,596.2 839.4,596.5 840.4,595.3 841.4,596.2 842.4,594.3 843.4,595.3 844.4,594.6 845.4,595.3 846.4,595.8 847.4,596.1 848.4,594.2 849.4,596.2 850.4,594.6 851.4,594.1 852.4,594.8 853.4,593.6 854.4,594.9 855.4,595.1 856.4,594.7 857.4,595.3 858.4,594.5 859.4,594.7 860.4,593.4 861.4,594.7 862.4,593.8 863.4,594.1 864.4,594.4 865.4,594.6 866.4,592.9 867.4,592.9 868.4,594.0 869.4,594.7 870.4,594.5 871.4,594.9 872.4,595.2 873.4,594.4 874.4,593.9 875.4,592.9 876.4,593.0 877.4,593.3 878.4,593.9 879.4,593.8 880.4,593.6 881.4,593.4 882.4,594.0 883.4,593.6 884.4,593.6 885.4,593.5 886.4,592.7 887.4,592.2 888.4,593.5 889.4,593.4 890.4,592.7 891.4,592.5 892.4,594.9 893.4,592.1 894.4,592.5 895.4,592.9 896.4,591.5 897.4,592.6 898.4,594.1 899.4,593.3 900.4,592.9 901.4,592.9 902.4,592.4 903.4,593.1 904.4,592.1 905.4,591.8 906.4,592.2 907.4,592.9 908.4,592.3 909.4,592.6 910.4,590.1 911.4,593.0 912.4,594.0 913.4,593.1 914.4,591.6 915.4,591.1 916.4,592.1 917.4,590.9 918.4,592.5 919.4,591.3 920.4,592.7 921.4,593.0 922.4,590.0 923.4,592.2 924.4,591.5 925.4,591.1 926.4,592.1 927.4,592.8 928.4,594.3 929.4,592.4 930.4,595.1 931.4,596.4 932.4,595.6 933.4,596.0 934.4,596.0 935.4,595.4 936.4,597.4 937.4,597.7 938.4,598.4 939.4,600.5 940.4,599.2 941.4,599.2 942.4,600.5 943.4,598.1 944.4,598.5 945.4,599.3 946.4,599.1 947.4,600.3 948.4,599.3 949.4,601.0 950.4,600.6 951.4,599.7 952.4,598.4 953.4,598.9 954.4,598.8 955.4,596.7 956.4,597.5 957.4,597.4 958.4,596.4 959.4,597.2 960.4,596.3 961.4,594.0 962.4,594.3 963.4,592.9 964.4,593.7 965.4,591.9 966.4,593.0 967.4,592.0 968.4,592.1 969.4,590.6 970.4,589.0 971.4,591.6 972.4,589.5 973.4,590.6 974.4,589.5 975.4,589.5 976.4,590.4 977.4,588.9 978.4,589.9 979.4,587.3 980.4,589.5 981.4,588.5 982.4,588.7 983.4,589.0 984.4,589.5 985.4,590.8 986.4,587.9 987.4,589.8 988.4,589.4 989.4,591.3 990.4,590.2 991.4,591.3 992.4,590.8 993.4,592.1 994.4,592.7 995.4,591.8 996.4,592.5 997.4,591.5 998.4,593.4 999.4,594.2 1000.4,593.3 1001.4,595.1 1002.4,592.6 1003.4,593.1 1004.4,593.8 1005.4,594.9 1006.4,595.6 1007.4,595.8 1008.4,596.1 1009.4,597.0 1010.4,596.1 1011.4,595.6 1012.4,595.8 1013.4,599.1 1014.4,595.3 1015.4,597.5 1016.4,599.2 1017.4,598.5 1018.4,597.5 1019.4,598.5 1020.4,599.5 1021.4,600.0 1022.4,598.3 1023.4,599.9 1024.4,599.6 1025.4,600.5 1026.4,600.8 1027.4,599.3 1028.4,598.4 1029.4,600.1 1030.4,601.3 1031.4,600.3 1032.4,599.9 1033.4,601.8 1034.4,598.7 1035.4,600.4 1036.4,599.1 1037.4,599.6 1038.4,599.6 1039.4,600.9 1040.4,598.6 1041.4,598.8 1042.4,597.5 1043.4,599.0 1044.4,597.6 1045.4,597.8 1046.4,595.8 1047.4,595.8 1048.4,596.3 1049.4,594.6 1050.4,594.7 1051.4,593.9 1052.4,592.4 1053.4,590.5 1054.4,592.0 1055.4,590.4 1056.4,590.2 1057.4,586.6 1058.4,585.7 1059.4,583.7 1060.4,583.2 1061.4,583.3 1062.4,581.7 1063.4,580.4 1064.4,580.5 1065.4,581.3 1066.4,580.7 1067.4,581.7 1068.4,582.0 1069.4,580.5 1070.4,582.8 1071.4,585.0 1072.4,584.2 1073.4,585.1 1074.4,585.5 1075.4,586.6 1076.4,589.3 1077.4,589.4 1078.4,590.0 1079.4,589.3 1080.4,592.7 1081.4,592.3 1082.4,592.9 1083.4,595.5 1084.4,595.5 1085.4,593.2 1086.4,595.8 1087.4,595.5 1088.4,594.4 1089.4,595.8 1090.4,593.7 1091.4,594.2 1092.4,594.0 1093.4,594.4 1094.4,596.4 1095.4,594.7 1096.4,595.4 1097.4,596.2 1098.4,598.0 1099.4,598.4 1100.4,600.4 1101.4,599.9 1102.4,600.3 1103.4,601.8 1104.4,603.0 1105.4,602.8 1106.4,604.3 1107.4,606.0 1108.4,604.2 1109.4,605.0 1110.4,606.5 1111.4,605.0 1112.4,605.0 1113.4,605.0 1114.4,606.6 1115.4,606.9 1116.4,606.5 1117.4,606.9 1118.4,608.2 1119.4,608.0 1120.4,606.1 1121.4,607.5 1122.4,607.7 1123.4,608.4 1124.4,607.7 1125.4,607.4 1126.4,607.7 1127.4,606.6 1128.4,608.2 1129.4,607.8 1130.4,608.8 1131.4,607.6 1132.4,608.2 1133.4,607.8 1134.4,607.8 1135.4,609.4 1136.4,608.4 1137.4,609.3 1138.4,608.0 1139.4,609.2 1140.4,607.6 1141.4,608.8 1142.4,608.8 1143.4,609.8 1144.4,609.5 1145.4,609.2 1146.4,610.2 1147.4,609.7 1148.4,610.0 1149.4,610.3 1150.4,609.5 1151.4,609.4 1152.4,610.0 1153.4,609.3 1154.4,610.1 1155.4,610.7 1156.4,610.5 1157.4,609.4 1158.4,608.6 1159.4,609.7 1160.4,609.6 1161.4,610.7 1162.4,609.4 1163.4,609.5 1164.4,610.3 1165.4,609.1 1166.4,609.4 1167.4,611.0 1168.4,610.7 1169.4,609.8 1170.4,609.4 1171.4,608.2 1172.4,609.5 1173.4,608.9 1174.4,608.9 1175.4,608.1 1176.4,608.4 1177.4,608.1 1178.4,608.4 1179.4,609.3 1180.4,608.1 1181.4,606.2 1182.4,606.6 1183.4,605.8 1184.4,606.2 1185.4,607.0 1186.4,606.3 1187.4,604.7 1188.4,604.8 1189.4,603.2 1190.4,601.9 1191.4,601.2 1192.4,601.1 1193.4,602.7 1194.4,599.9 1195.4,602.1 1196.4,602.2 1197.4,600.8 1198.4,601.0 1199.4,600.5 1200.4,601.1 1201.4,601.8 1202.4,601.3 1203.4,602.2 1204.4,602.5 1205.4,601.9 1206.4,602.0 1207.4,601.8 1208.4,602.6 1209.4,601.9 1210.4,603.9 1211.4,604.5 1212.4,604.2 1213.4,607.4 1214.4,604.9 1215.4,604.9 1216.4,605.8 1217.4,603.5 1218.4,604.1 1219.4,603.0 1220.4,602.9 1221.4,603.1 1222.4,603.0 1223.4,603.2 1224.4,602.3 1225.4,601.9 1226.4,600.6 1227.4,598.9 1228.4,599.5 1229.4,597.3 1230.4,596.4 1231.4,597.6 1232.4,596.2 1233.4,595.1 1234.4,595.1 1235.4,594.8 1236.4,592.4 1237.4,593.2 1238.4,592.0 1239.4,592.9 1240.4,591.9 1241.4,593.5 1242.4,592.4 1243.4,590.8 1244.4,591.1 1245.4,589.5 1246.4,590.0 1247.4,589.5 1248.4,587.4 1249.4,583.1 1250.4,581.7 1251.4,579.5 1252.4,576.3 1253.4,574.4 1254.4,569.9 1255.4,569.5 1256.4,566.3 1257.4,564.9 1258.4,563.1 1259.4,561.5 1260.4,558.9 1261.4,558.6 1262.4,557.0 1263.4,557.1 1264.4,560.1 1265.4,561.3 1266.4,562.0 1267.4,565.1 1268.4,568.3 1269.4,572.2 1270.4,574.8 1271.4,578.2 1272.4,579.6 1273.4,584.7 1274.4,588.3 1275.4,590.6 1276.4,592.6 1277.4,593.9 1278.4,597.4 1279.4,598.8 1280.4,598.9 1281.4,599.5 1282.4,603.4 1283.4,602.3 1284.4,604.9 1285.4,606.6 1286.4,605.0 1287.4,607.1 1288.4,607.5 1289.4,609.1 1290.4,609.8 1291.4,611.9 1292.4,611.3 1293.4,611.1 1294.4,612.4 1295.4,611.3 1296.4,611.3 1297.4,613.8 1298.4,611.1 1299.4,611.5 1300.4,612.1 1301.4,611.1 1302.4,610.2 1303.4,613.1 1304.4,611.3 1305.4,610.8 1306.4,609.8 1307.4,607.8 1308.4,606.0 1309.4,605.4 1310.4,605.8 1311.4,602.6 1312.4,600.5 1313.4,596.3 1314.4,595.4 1315.4,592.0 1316.4,591.6 1317.4,588.6 1318.4,587.0 1319.4,585.4 1320.4,583.8 1321.4,582.1 1322.4,583.2 1323.4,580.7 1324.4,580.2 1325.4,580.4 1326.4,579.3 1327.4,579.3 1328.4,579.0 1329.4,577.1 1330.4,575.4 1331.4,573.1 1332.4,571.4 1333.4,566.2 1334.4,565.4 1335.4,561.5 1336.4,558.5 1337.4,556.7 1338.4,553.0 1339.4,550.3 1340.4,547.4 1341.4,541.4 1342.4,541.4 1343.4,542.4 1344.4,542.2 1345.4,545.0 1346.4,547.3 1347.4,550.0 1348.4,557.3 1349.4,569.7 1350.4,579.4 1351.4,583.0 1352.4,587.5 1353.4,591.4 1354.4,592.4 1355.4,595.9 1356.4,599.7 1357.4,602.0 1358.4,601.5 1359.4,604.7 1360.4,603.8 1361.4,604.6 1362.4,604.3 1363.4,608.0 1364.4,607.5 1365.4,610.7 1366.4,609.5 1367.4,610.0 1368.4,608.8 1369.4,612.3 1370.4,611.2 1371.4,612.1 1372.4,610.9 1373.4,614.4 1374.4,615.2 1375.4,614.5 1376.4,615.8 1377.4,616.7 1378.4,617.9 1379.4,617.7 1380.4,619.7 1381.4,618.5 1382.4,618.7 1383.4,619.3 1384.4,617.9 1385.4,620.0 1386.4,622.1 1387.4,621.9 1388.4,621.4 1389.4,622.9 1390.4,621.1 1391.4,623.1 1392.4,624.2 1393.4,624.7 1394.4,623.6 1395.4,625.4 1396.4,626.5 1397.4,624.6 1398.4,625.8 1399.4,623.9 1400.4,623.7 1401.4,626.1 1402.4,625.7 1403.4,626.0 1404.4,625.4 1405.4,625.8 1406.4,626.9 1407.4,627.8 1408.4,626.1 1409.4,624.9 1410.4,627.7 1411.4,627.1 1412.4,627.3 1413.4,627.0 1414.4,629.0 1415.4,627.1 1416.4,627.6 1417.4,625.6 1418.4,626.9 1419.4,626.9 1420.4,627.7 1421.4,628.2 1422.4,627.4 1423.4,629.8 1424.4,627.5 1425.4,628.3 1426.4,629.1 1427.4,627.9 1428.4,629.7 1429.4,629.9 1430.4,629.1 1431.4,631.2 1432.4,629.6 1433.4,629.8 1434.4,628.7 1435.4,628.0 1436.4,628.9 1437.4,629.1 1438.4,628.9 1439.4,629.9 1440.4,626.9 1441.4,627.9 1442.4,627.2 1443.4,629.9 1444.4,628.0 1445.4,627.9 1446.4,627.2 1447.4,628.9 1448.4,627.6 1449.4,628.0 1450.4,625.9 1451.4,628.6 1452.4,627.8 1453.4,627.9 1454.4,628.5 1455.4,627.1 1456.4,627.1 1457.4,627.9 1458.4,627.6 1459.4,627.1 1460.4,627.4 1461.4,626.9 1462.4,628.0 1463.4,628.3 1464.4,627.5 1465.4,629.3 1466.4,626.3 1467.4,627.5 1468.4,629.4 1469.4,627.5 1470.4,626.6 1471.4,629.4 1472.4,628.7 1473.4,627.2 1474.4,629.1 1475.4,627.6 1476.4,627.4 1477.4,628.6 1478.4,628.4 1479.4,627.9 1480.4,628.7 1481.4,628.2 1482.4,629.2 1483.4,629.2 1484.4,630.0 1485.4,629.0 1486.4,628.2 1487.4,628.3 1488.4,629.3 1489.4,631.0 1490.4,630.4 1491.4,629.1 1492.4,630.5 1493.4,628.7 1494.4,630.7 1495.4,629.5 1496.4,630.5 1497.4,630.4 1498.4,629.7 1499.4,630.2 1500.4,629.0 1501.4,629.9 1502.4,631.0 1503.4,633.8 1504.4,630.7 1505.4,630.2 1506.4,629.2 1507.4,631.1 1508.4,628.7 1509.4,629.5 1510.4,630.6 1511.4,629.2 1512.4,631.7 1513.4,631.3 1514.4,629.8 1515.4,629.8 1516.4,629.1 1517.4,629.1 1518.4,630.8 1519.4,630.9 1520.4,630.7 1521.4,630.6 1522.4,629.7 1523.4,630.4 1524.4,628.5 1525.4,629.6 1526.4,630.6 1527.4,630.0 1528.4,627.9 1529.4,627.6 1530.4,628.6 1531.4,628.4 1532.4,624.8 1533.4,625.1 1534.4,625.0 1535.4,625.2 1536.4,622.6 1537.4,623.2 1538.4,621.3 1539.4,622.6 1540.4,619.4 1541.4,617.4 1542.4,615.6 1543.4,615.0 1544.4,612.9 1545.4,609.3 1546.4,608.5 1547.4,604.9 1548.4,602.9 1549.4,599.6 1550.4,596.6 1551.4,594.1 1552.4,590.7 1553.4,589.0 1554.4,586.2 1555.4,582.3 1556.4,578.6 1557.4,577.4 1558.4,571.8 1559.4,568.9 1560.4,568.6 1561.4,566.2 1562.4,564.6 1563.4,561.7 1564.4,559.1 1565.4,558.4 1566.4,558.6 1567.4,557.5 1568.4,558.4 1569.4,559.2 1570.4,561.2 1571.4,565.0 1572.4,567.2 1573.4,569.4 1574.4,574.0 1575.4,579.3 1576.4,585.2 1577.4,588.3 1578.4,593.3 1579.4,595.8 1580.4,600.9 1581.4,606.5 1582.4,610.7 1583.4,612.1 1584.4,615.0 1585.4,618.5 1586.4,619.3 1587.4,620.9 1588.4,623.3 1589.4,624.5 1590.4,626.6 1591.4,627.6 1592.4,627.7 1593.4,629.4 1594.4,630.9 1595.4,631.1 1596.4,632.8 1597.4,635.8 1598.4,634.8 1599.4,638.3 1600.4,638.7 1601.4,639.3 1602.4,640.7 1603.4,641.3 1604.4,642.4 1605.4,641.3 1606.4,641.6 1607.4,641.8 1608.4,644.0 1609.4,643.3 1610.4,641.8 1611.4,642.5 1612.4,642.3 1613.4,643.0 1614.4,643.3 1615.4,645.3 1616.4,641.7 1617.4,644.4 1618.4,643.9 1619.4,643.0 1620.4,643.6 1621.4,643.4 1622.4,644.0 1623.4,644.9 1624.4,642.8 1625.4,645.4 1626.4,644.0 1627.4,645.9 1628.4,645.0 1629.4,645.9 1630.4,645.5 1631.4,646.1 1632.4,645.4 1633.4,644.7 1634.4,646.3 1635.4,646.5 1636.4,647.9 1637.4,644.4 1638.4,646.2 1639.4,647.5 1640.4,645.6 1641.4,646.6 1642.4,648.9 1643.4,648.4 1644.4,646.4 1645.4,648.6 1646.4,648.4 1647.4,648.1 1648.4,647.8 1649.4,647.7 1650.4,646.7 1651.4,647.0 1652.4,648.1 1653.4,647.5 1654.4,648.9 1655.4,646.9 1656.4,644.9 1657.4,646.7 1658.4,647.2 1659.4,647.2 1660.4,646.8 1661.4,645.9 1662.4,647.9 1663.4,645.8 1664.4,647.0 1665.4,646.0 1666.4,645.1 1667.4,647.4 1668.4,643.8 1669.4,645.2 1670.4,646.4 1671.4,645.7 1672.4,646.9 1673.4,647.2 1674.4,648.4 1675.4,652.6 1676.4,652.2 1677.4,653.7 1678.4,653.7 1679.4,654.2 1680.4,655.4 1681.4,655.3 1682.4,654.8 1683.4,654.1 1684.4,655.3 1685.4,653.0 1686.4,654.2 1687.4,654.2 1688.4,653.5 1689.4,654.3 1690.4,653.5 1691.4,653.3 1692.4,655.5 1693.4,654.5 1694.4,654.8 1695.4,653.7 1696.4,654.4 1697.4,654.2 1698.4,654.5 1699.4,655.5 1700.4,653.2 1701.4,653.6 1702.4,653.4 1703.4,650.4 1704.4,652.5 1705.4,654.0 1706.4,654.8 1707.4,654.1 1708.4,656.0 1709.4,656.5 1710.4,655.4 1711.4,657.5 1712.4,658.3 1713.4,657.6 1714.4,656.7 1715.4,659.4 1716.4,658.4 1717.4,658.6 1718.4,659.4 1719.4,659.2 1720.4,661.0 1721.4,661.0 1722.4,661.7 1723.4,661.3 1724.4,660.2 1725.4,661.0 1726.4,662.0 1727.4,661.0 1728.4,664.2 1729.4,661.5 1730.4,661.3 1731.4,663.0 1732.4,662.8 1733.4,662.3 1734.4,662.2 1735.4,662.9 1736.4,663.4 1737.4,663.5 1738.4,662.6 1739.4,663.4 1740.4,663.9 1741.4,663.9 1742.4,660.5 1743.4,662.6 1744.4,662.8 1745.4,663.3 1746.4,663.8 1747.4,664.5 1748.4,664.3 1749.4,663.6 1750.4,663.8 1751.4,665.4 1752.4,663.2 1753.4,664.1 1754.4,665.2 1755.4,664.0 1756.4,661.7 1757.4,663.6 1758.4,662.7 1759.4,662.7 1760.4,663.4 1761.4,662.5 1762.4,661.5 1763.4,662.1 1764.4,661.3 1765.4,660.6 1766.4,660.3 1767.4,659.8 1768.4,658.8 1769.4,658.0 1770.4,657.6 1771.4,655.7 1772.4,654.4 1773.4,655.6 1774.4,653.1 1775.4,652.3 1776.4,651.4 1777.4,650.9 1778.4,650.5 1779.4,650.5 1780.4,650.1 1781.4,652.4 1782.4,652.1 1783.4,655.0 1784.4,653.8 1785.4,656.2 1786.4,659.7 1787.4,660.3 1788.4,661.2 1789.4,663.4 1790.4,663.0 1791.4,664.8 1792.4,663.6 1793.4,665.9 1794.4,666.5 1795.4,668.2 1796.4,669.2 1797.4,668.3 1798.4,671.1 1799.4,669.7 1800.4,668.9 1801.4,669.1 1802.4,673.1 1803.4,672.1 1804.4,671.9 1805.4,672.1 1806.4,672.1 1807.4,674.6 1808.4,673.6 1809.4,675.5 1810.4,674.0 1811.4,672.3 1812.4,675.4 1813.4,674.5 1814.4,674.8 1815.4,676.6 1816.4,675.2 1817.4,676.6 1818.4,675.8 1819.4,675.3 1820.4,676.5 1821.4,675.7 1822.4,677.5 1823.4,677.4 1824.4,676.7 1825.4,677.4 1826.4,677.5 1827.4,676.9 1828.4,678.1 1829.4,677.2 1830.4,678.1 1831.4,676.8 1832.4,677.9 1833.4,678.3 1834.4,677.3 1835.4,677.8 1836.4,677.8 1837.4,679.1 1838.4,677.9 1839.4,679.1 1840.4,680.2 1841.4,679.2 1842.4,677.6 1843.4,679.2 1844.4,680.2 1845.4,679.1 1846.4,680.4 1847.4,680.1 1848.4,680.0 1849.4,679.4 1850.4,679.3 1851.4,679.6 1852.4,680.0 1853.4,680.5 1854.4,680.4 1855.4,679.8"/>
<polyline fill="none" stroke="#FF88C8" stroke-width="4.9" stroke-linejoin="round" stroke-linecap="round" points="186.6,763.7 187.6,761.9 188.6,759.2 189.6,757.8 190.6,756.1 191.6,754.8 192.6,753.2 193.6,751.5 194.6,749.5 195.6,748.7 196.6,747.3 197.6,745.8 198.6,746.7 199.6,747.0 200.6,749.7 201.6,750.4 202.6,752.3 203.6,754.1 204.6,755.6 205.6,757.6 206.6,760.4 207.6,761.8 208.6,763.8 209.6,765.1 210.6,764.6 211.6,765.8 212.6,765.5 213.6,765.6 214.6,764.9 215.6,765.7 216.6,765.6 217.6,765.2 218.6,766.5 219.6,765.8 220.6,765.5 221.6,765.7 222.6,766.1 223.6,766.2 224.6,766.0 225.6,766.4 226.6,766.5 227.6,765.3 228.6,765.7 229.6,765.5 230.6,766.0 231.6,766.6 232.6,766.3 233.6,765.6 234.6,765.9 235.6,766.6 236.6,765.9 237.6,766.1 238.6,766.3 239.6,765.4 240.6,766.5 241.6,766.4 242.6,766.5 243.6,765.8 244.6,765.9 245.6,766.0 246.6,766.4 247.6,766.3 248.6,766.3 249.6,767.1 250.6,766.9 251.6,766.0 252.6,766.0 253.6,767.1 254.6,766.2 255.6,766.9 256.6,767.0 257.6,766.1 258.6,766.2 259.6,766.3 260.6,765.9 261.6,765.9 262.6,766.1 263.6,766.7 264.6,766.1 265.6,766.2 266.6,766.1 267.6,765.7 268.6,767.0 269.6,765.3 270.6,766.0 271.6,766.6 272.6,765.7 273.6,766.6 274.6,766.9 275.6,765.9 276.6,766.4 277.6,765.8 278.6,766.5 279.6,766.3 280.6,766.4 281.6,766.9 282.6,766.5 283.6,766.9 284.6,766.6 285.6,765.8 286.6,766.4 287.6,766.5 288.6,765.7 289.6,766.9 290.6,766.3 291.6,766.5 292.6,765.9 293.6,766.3 294.6,766.4 295.6,766.2 296.6,766.3 297.6,765.4 298.6,766.9 299.6,765.8 300.6,765.3 301.6,765.9 302.6,765.9 303.6,766.6 304.6,765.9 305.6,766.4 306.6,765.9 307.6,767.3 308.6,766.6 309.6,767.2 310.6,765.9 311.6,766.6 312.6,765.9 313.6,766.6 314.6,766.6 315.6,765.6 316.6,765.8 317.6,765.8 318.6,765.6 319.6,766.0 320.6,765.9 321.6,765.7 322.6,766.4 323.6,766.6 324.6,765.7 325.6,766.1 326.6,766.3 327.6,766.2 328.6,766.0 329.6,766.7 330.6,766.7 331.6,766.6 332.6,766.2 333.6,767.2 334.6,767.1 335.6,766.1 336.6,766.3 337.6,766.8 338.6,765.9 339.6,766.5 340.6,766.3 341.6,766.0 342.6,766.2 343.6,765.6 344.6,766.1 345.6,765.4 346.6,767.3 347.6,767.0 348.6,766.9 349.6,766.4 350.6,766.7 351.6,766.9 352.6,766.8 353.6,766.7 354.6,765.9 355.6,766.5 356.6,766.0 357.6,765.8 358.6,765.8 359.6,766.5 360.6,766.7 361.6,765.7 362.6,767.1 363.6,766.9 364.6,766.1 365.6,766.0 366.6,766.2 367.6,766.7 368.6,766.1 369.6,765.7 370.6,766.4 371.6,765.3 372.6,766.3 373.6,766.7 374.6,766.3 375.6,766.6 376.6,766.4 377.6,766.5 378.6,766.2 379.6,765.8 380.6,766.1 381.6,766.1 382.6,766.7 383.6,766.9 384.6,766.3 385.6,765.8 386.6,765.8 387.6,766.0 388.6,766.7 389.6,766.2 390.6,766.0 391.6,765.7 392.6,766.4 393.6,766.2 394.6,766.0 395.6,766.1 396.6,766.8 397.6,765.9 398.6,766.7 399.6,766.5 400.6,766.0 401.6,766.3 402.6,765.9 403.6,765.5 404.6,765.8 405.6,765.5 406.6,766.1 407.6,765.8 408.6,766.1 409.6,766.2 410.6,764.4 411.6,765.9 412.6,764.9 413.6,765.8 414.6,765.3 415.6,765.7 416.6,766.3 417.6,764.8 418.6,765.7 419.6,765.3 420.6,764.0 421.6,764.5 422.6,763.5 423.6,762.5 424.6,761.7 425.6,762.8 426.6,760.7 427.6,759.6 428.6,759.5 429.6,759.3 430.6,758.9 431.6,758.5 432.6,757.7 433.6,758.0 434.6,757.2 435.6,756.5 436.6,756.5 437.6,756.5 438.6,756.9 439.6,756.7 440.6,756.4 441.6,756.6 442.6,756.8 443.6,757.8 444.6,756.7 445.6,757.4 446.6,757.8 447.6,757.3 448.6,758.1 449.6,758.3 450.6,758.3 451.6,759.1 452.6,759.6 453.6,760.0 454.6,759.9 455.6,760.7 456.6,762.4 457.6,761.6 458.6,762.9 459.6,763.9 460.6,764.2 461.6,764.9 462.6,765.0 463.6,765.3 464.6,765.6 465.6,764.9 466.6,765.1 467.6,765.0 468.6,764.9 469.6,765.1 470.6,764.6 471.6,765.5 472.6,765.9 473.6,765.9 474.6,765.8 475.6,764.8 476.6,765.9 477.6,764.9 478.6,765.2 479.6,766.1 480.6,764.8 481.6,765.7 482.6,765.4 483.6,765.2 484.6,764.9 485.6,765.5 486.6,765.1 487.6,765.8 488.6,765.9 489.6,764.7 490.6,765.1 491.6,765.2 492.6,764.9 493.6,764.9 494.6,765.4 495.6,765.3 496.6,764.7 497.6,765.2 498.6,765.7 499.6,764.9 500.6,765.0 501.6,766.2 502.6,766.1 503.6,764.7 504.6,764.9 505.6,765.7 506.6,765.0 507.6,765.4 508.6,765.3 509.6,765.8 510.6,764.4 511.6,764.5 512.6,765.0 513.6,766.0 514.6,765.5 515.6,764.8 516.6,765.8 517.6,765.9 518.6,765.4 519.6,765.4 520.6,765.8 521.6,766.1 522.6,765.6 523.6,765.8 524.6,765.5 525.6,765.4 526.6,765.2 527.6,765.7 528.6,765.4 529.6,765.5 530.6,766.0 531.6,765.8 532.6,766.0 533.6,764.9 534.6,765.8 535.6,765.3 536.6,765.2 537.6,765.2 538.6,766.1 539.6,766.0 540.6,765.3 541.6,765.1 542.6,765.6 543.6,765.4 544.6,766.3 545.6,764.9 546.6,764.8 547.6,765.5 548.6,765.6 549.6,765.7 550.6,765.9 551.6,766.5 552.6,765.4 553.6,765.4 554.6,764.8 555.6,765.7 556.6,766.0 557.6,765.5 558.6,766.1 559.6,765.6 560.6,766.3 561.6,765.7 562.6,765.1 563.6,765.3 564.6,764.9 565.6,764.8 566.6,765.7 567.6,766.0 568.6,766.5 569.6,765.6 570.6,765.5 571.6,765.1 572.6,766.0 573.6,765.8 574.6,765.3 575.6,765.9 576.6,765.9 577.6,764.8 578.6,765.9 579.6,765.7 580.6,765.4 581.6,765.4 582.6,766.4 583.6,766.3 584.6,766.4 585.6,765.1 586.6,765.3 587.6,766.0 588.6,765.1 589.6,765.3 590.6,764.8 591.6,766.4 592.6,766.1 593.6,765.8 594.6,765.7 595.6,765.4 596.6,765.4 597.6,765.9 598.6,765.3 599.6,766.2 600.6,765.4 601.6,765.2 602.6,766.2 603.6,765.5 604.6,765.8 605.6,765.4 606.6,764.6 607.6,765.8 608.6,765.0 609.6,766.1 610.6,764.9 611.6,764.8 612.6,765.7 613.6,765.8 614.6,765.6 615.6,765.1 616.6,766.0 617.6,764.9 618.6,765.4 619.6,765.2 620.6,765.4 621.6,766.0 622.6,765.3 623.6,765.9 624.6,765.9 625.6,764.8 626.6,765.1 627.6,765.4 628.6,765.3 629.6,765.7 630.6,764.7 631.6,765.9 632.6,765.9 633.6,765.5 634.6,765.0 635.6,765.6 636.6,765.4 637.6,765.9 638.6,765.6 639.6,765.9 640.6,765.4 641.6,766.2 642.6,764.6 643.6,765.1 644.6,765.8 645.6,764.9 646.6,765.9 647.6,765.1 648.6,765.6 649.6,765.2 650.6,765.4 651.6,765.7 652.6,765.6 653.6,765.4 654.6,766.6 655.6,765.6 656.6,765.2 657.6,766.0 658.6,766.0 659.6,766.2 660.6,766.4 661.6,765.2 662.6,766.1 663.6,766.1 664.6,765.6 665.6,765.7 666.6,764.2 667.6,765.3 668.6,766.4 669.6,764.8 670.6,765.4 671.6,765.7 672.6,765.9 673.6,766.3 674.6,764.8 675.6,765.6 676.6,766.0 677.6,765.0 678.6,765.6 679.6,766.4 680.6,766.2 681.6,765.8 682.6,764.4 683.6,765.5 684.6,765.8 685.6,765.5 686.6,765.6 687.6,767.0 688.6,765.5 689.6,765.2 690.6,765.7 691.6,765.5 692.6,765.5 693.6,765.6 694.6,765.9 695.6,765.7 696.6,765.1 697.6,765.5 698.6,765.8 699.6,765.4 700.6,766.1 701.6,765.9 702.6,765.1 703.6,765.7 704.6,766.5 705.6,766.3 706.6,765.6 707.6,766.0 708.6,765.3 709.6,764.9 710.6,765.8 711.6,765.7 712.6,765.8 713.6,765.6 714.6,765.7 715.6,765.4 716.6,765.8 717.6,766.0 718.6,765.6 719.6,765.9 720.6,764.8 721.6,765.2 722.6,766.2 723.6,766.4 724.6,765.7 725.6,765.5 726.6,765.0 727.6,765.7 728.6,765.9 729.6,764.9 730.6,765.8 731.6,765.8 732.6,765.8 733.6,765.1 734.6,765.8 735.6,764.9 736.6,766.2 737.6,765.6 738.6,765.0 739.6,766.2 740.6,766.1 741.6,765.3 742.6,766.5 743.6,765.1 744.6,765.7 745.6,766.1 746.6,764.5 747.6,766.0 748.6,765.5 749.6,765.5 750.6,765.1 751.6,765.7 752.6,765.0 753.6,765.1 754.6,765.3 755.6,765.0 756.6,766.2 757.6,764.9 758.6,765.2 759.6,765.4 760.6,765.5 761.6,765.9 762.6,765.9 763.6,765.4 764.6,765.3 765.6,765.5 766.6,765.9 767.6,765.8 768.6,765.3 769.6,764.6 770.6,766.5 771.6,765.9 772.6,765.6 773.6,765.6 774.6,765.3 775.6,765.0 776.6,765.3 777.6,765.4 778.6,765.2 779.6,764.8 780.6,765.3 781.6,765.7 782.6,765.2 783.6,765.5 784.6,764.5 785.6,765.4 786.6,765.4 787.6,764.9 788.6,764.7 789.6,765.6 790.6,765.1 791.6,765.7 792.6,765.2 793.6,765.7 794.6,765.3 795.6,764.7 796.6,765.4 797.6,765.3 798.6,765.7 799.6,765.2 800.6,765.2 801.6,765.8 802.6,765.9 803.6,765.7 804.6,765.9 805.6,765.6 806.6,765.7 807.6,765.8 808.6,765.6 809.6,765.4 810.6,765.4 811.6,766.4 812.6,765.4 813.6,765.3 814.6,765.2 815.6,765.3 816.6,765.5 817.6,764.8 818.6,764.4 819.6,765.5 820.6,764.6 821.6,765.4 822.6,765.4 823.6,765.8 824.6,766.1 825.6,765.5 826.6,765.1 827.6,764.8 828.6,764.9 829.6,765.3 830.6,764.4 831.6,765.3 832.6,765.3 833.6,765.6 834.6,765.1 835.6,765.3 836.6,764.9 837.6,765.0 838.6,764.5 839.6,765.3 840.6,765.9 841.6,765.3 842.6,765.4 843.6,764.8 844.6,765.9 845.6,764.9 846.6,765.6 847.6,765.3 848.6,764.8 849.6,765.7 850.6,765.2 851.6,765.3 852.6,765.4 853.6,765.2 854.6,765.0 855.6,765.4 856.6,765.0 857.6,765.2 858.6,764.8 859.6,764.5 860.6,764.8 861.6,764.9 862.6,765.1 863.6,765.6 864.6,764.3 865.6,765.2 866.6,764.1 867.6,764.6 868.6,764.9 869.6,764.1 870.6,764.2 871.6,765.1 872.6,765.1 873.6,765.0 874.6,764.7 875.6,766.0 876.6,765.0 877.6,764.6 878.6,765.8 879.6,765.3 880.6,764.8 881.6,765.5 882.6,765.1 883.6,765.3 884.6,765.1 885.6,764.5 886.6,765.4 887.6,765.0 888.6,764.4 889.6,764.5 890.6,765.3 891.6,764.7 892.6,764.8 893.6,765.1 894.6,764.8 895.6,764.0 896.6,765.0 897.6,765.1 898.6,765.0 899.6,765.3 900.6,764.7 901.6,764.8 902.6,765.2 903.6,764.3 904.6,765.1 905.6,765.1 906.6,764.6 907.6,765.0 908.6,764.5 909.6,763.7 910.6,764.6 911.6,764.2 912.6,764.2 913.6,764.0 914.6,764.5 915.6,764.1 916.6,763.5 917.6,763.9 918.6,764.0 919.6,763.3 920.6,763.4 921.6,763.3 922.6,763.2 923.6,763.6 924.6,763.8 925.6,764.2 926.6,763.8 927.6,763.7 928.6,763.7 929.6,763.7 930.6,762.9 931.6,763.3 932.6,763.1 933.6,762.9 934.6,762.7 935.6,762.6 936.6,762.7 937.6,762.2 938.6,763.0 939.6,762.7 940.6,762.7 941.6,762.8 942.6,762.9 943.6,762.3 944.6,762.5 945.6,761.8 946.6,761.5 947.6,761.6 948.6,763.1 949.6,761.6 950.6,762.6 951.6,763.0 952.6,762.1 953.6,763.0 954.6,763.0 955.6,762.6 956.6,763.2 957.6,762.3 958.6,761.6 959.6,762.1 960.6,761.6 961.6,761.2 962.6,761.1 963.6,762.6 964.6,761.2 965.6,761.2 966.6,760.7 967.6,760.9 968.6,760.5 969.6,760.1 970.6,759.5 971.6,759.2 972.6,759.3 973.6,759.5 974.6,760.1 975.6,759.5 976.6,759.6 977.6,758.9 978.6,758.5 979.6,757.9 980.6,758.4 981.6,757.4 982.6,758.3 983.6,759.2 984.6,758.6 985.6,759.1 986.6,758.5 987.6,758.1 988.6,758.6 989.6,758.7 990.6,759.6 991.6,760.0 992.6,758.9 993.6,759.2 994.6,759.4 995.6,759.5 996.6,759.2 997.6,759.9 998.6,760.2 999.6,760.3 1000.6,759.7 1001.6,760.3 1002.6,759.7 1003.6,761.1 1004.6,760.4 1005.6,760.9 1006.6,761.0 1007.6,761.1 1008.6,761.1 1009.6,761.0 1010.6,762.8 1011.6,762.4 1012.6,762.6 1013.6,763.6 1014.6,762.8 1015.6,763.3 1016.6,763.3 1017.6,764.0 1018.6,763.9 1019.6,764.0 1020.6,763.9 1021.6,764.2 1022.6,764.7 1023.6,763.4 1024.6,764.3 1025.6,764.3 1026.6,764.4 1027.6,763.6 1028.6,764.8 1029.6,764.1 1030.6,764.3 1031.6,764.1 1032.6,763.5 1033.6,763.9 1034.6,763.1 1035.6,763.4 1036.6,763.5 1037.6,763.5 1038.6,763.3 1039.6,763.0 1040.6,763.8 1041.6,762.9 1042.6,761.9 1043.6,761.9 1044.6,761.7 1045.6,761.7 1046.6,761.2 1047.6,760.9 1048.6,761.8 1049.6,760.8 1050.6,760.3 1051.6,760.0 1052.6,759.5 1053.6,759.8 1054.6,758.9 1055.6,758.7 1056.6,756.2 1057.6,757.3 1058.6,757.1 1059.6,757.0 1060.6,755.6 1061.6,754.4 1062.6,755.1 1063.6,754.2 1064.6,753.4 1065.6,753.8 1066.6,754.4 1067.6,754.5 1068.6,754.4 1069.6,753.8 1070.6,755.8 1071.6,754.6 1072.6,755.6 1073.6,755.6 1074.6,757.4 1075.6,757.6 1076.6,758.4 1077.6,758.6 1078.6,759.0 1079.6,759.5 1080.6,758.9 1081.6,760.5 1082.6,760.7 1083.6,760.4 1084.6,760.8 1085.6,761.2 1086.6,762.0 1087.6,761.8 1088.6,761.8 1089.6,761.8 1090.6,761.6 1091.6,762.3 1092.6,762.8 1093.6,762.8 1094.6,763.2 1095.6,763.7 1096.6,763.7 1097.6,763.8 1098.6,764.1 1099.6,764.1 1100.6,764.1 1101.6,764.4 1102.6,763.5 1103.6,764.9 1104.6,763.9 1105.6,764.9 1106.6,764.5 1107.6,765.0 1108.6,764.6 1109.6,764.1 1110.6,765.0 1111.6,764.6 1112.6,764.6 1113.6,764.6 1114.6,765.0 1115.6,765.0 1116.6,764.7 1117.6,763.9 1118.6,764.4 1119.6,764.7 1120.6,765.4 1121.6,764.8 1122.6,764.6 1123.6,765.2 1124.6,764.6 1125.6,764.6 1126.6,764.7 1127.6,764.0 1128.6,765.1 1129.6,764.9 1130.6,764.5 1131.6,764.2 1132.6,764.8 1133.6,765.3 1134.6,764.4 1135.6,764.2 1136.6,764.9 1137.6,764.0 1138.6,763.7 1139.6,764.5 1140.6,764.4 1141.6,764.6 1142.6,764.5 1143.6,764.9 1144.6,764.6 1145.6,764.4 1146.6,764.5 1147.6,765.0 1148.6,765.1 1149.6,765.1 1150.6,765.0 1151.6,763.2 1152.6,764.3 1153.6,764.6 1154.6,764.8 1155.6,764.0 1156.6,765.4 1157.6,764.9 1158.6,764.4 1159.6,764.8 1160.6,764.6 1161.6,764.4 1162.6,764.9 1163.6,764.4 1164.6,763.9 1165.6,764.2 1166.6,764.4 1167.6,763.8 1168.6,764.8 1169.6,763.6 1170.6,764.8 1171.6,764.2 1172.6,763.3 1173.6,763.6 1174.6,764.0 1175.6,763.2 1176.6,762.6 1177.6,763.0 1178.6,763.7 1179.6,762.0 1180.6,762.6 1181.6,762.1 1182.6,761.7 1183.6,761.2 1184.6,760.8 1185.6,761.0 1186.6,760.4 1187.6,759.2 1188.6,759.9 1189.6,758.2 1190.6,758.7 1191.6,758.1 1192.6,758.1 1193.6,757.4 1194.6,757.4 1195.6,756.7 1196.6,757.0 1197.6,756.6 1198.6,757.3 1199.6,756.1 1200.6,757.2 1201.6,757.4 1202.6,757.8 1203.6,758.2 1204.6,759.3 1205.6,759.0 1206.6,759.5 1207.6,760.7 1208.6,759.7 1209.6,761.1 1210.6,760.3 1211.6,760.5 1212.6,760.4 1213.6,760.6 1214.6,760.2 1215.6,760.2 1216.6,760.2 1217.6,760.7 1218.6,760.7 1219.6,760.8 1220.6,760.3 1221.6,760.0 1222.6,759.3 1223.6,760.2 1224.6,760.1 1225.6,759.3 1226.6,759.6 1227.6,759.6 1228.6,758.7 1229.6,758.8 1230.6,758.1 1231.6,756.7 1232.6,756.9 1233.6,756.5 1234.6,756.4 1235.6,755.3 1236.6,755.0 1237.6,754.3 1238.6,754.2 1239.6,753.7 1240.6,753.6 1241.6,753.0 1242.6,752.2 1243.6,751.7 1244.6,751.1 1245.6,750.4 1246.6,750.2 1247.6,747.5 1248.6,747.6 1249.6,746.9 1250.6,746.2 1251.6,744.2 1252.6,743.9 1253.6,743.2 1254.6,741.7 1255.6,740.2 1256.6,740.2 1257.6,739.2 1258.6,739.5 1259.6,738.5 1260.6,739.6 1261.6,738.9 1262.6,738.7 1263.6,739.4 1264.6,739.9 1265.6,741.4 1266.6,742.9 1267.6,743.2 1268.6,744.8 1269.6,745.1 1270.6,746.7 1271.6,748.6 1272.6,748.0 1273.6,750.5 1274.6,751.8 1275.6,751.7 1276.6,753.2 1277.6,754.6 1278.6,756.5 1279.6,756.7 1280.6,757.3 1281.6,758.0 1282.6,758.1 1283.6,758.5 1284.6,758.6 1285.6,759.5 1286.6,758.9 1287.6,760.3 1288.6,759.6 1289.6,759.6 1290.6,760.5 1291.6,760.6 1292.6,759.7 1293.6,760.8 1294.6,760.2 1295.6,760.5 1296.6,761.3 1297.6,760.6 1298.6,761.2 1299.6,760.8 1300.6,761.7 1301.6,760.5 1302.6,759.7 1303.6,759.2 1304.6,758.8 1305.6,758.6 1306.6,757.9 1307.6,757.6 1308.6,756.5 1309.6,755.8 1310.6,755.1 1311.6,754.1 1312.6,753.6 1313.6,753.2 1314.6,752.5 1315.6,751.3 1316.6,750.1 1317.6,749.9 1318.6,749.7 1319.6,747.8 1320.6,748.0 1321.6,747.7 1322.6,746.6 1323.6,745.6 1324.6,746.1 1325.6,745.1 1326.6,743.6 1327.6,743.4 1328.6,742.3 1329.6,740.0 1330.6,740.4 1331.6,737.4 1332.6,736.3 1333.6,734.5 1334.6,733.6 1335.6,731.6 1336.6,731.0 1337.6,730.4 1338.6,729.1 1339.6,728.2 1340.6,728.5 1341.6,727.2 1342.6,728.3 1343.6,728.5 1344.6,730.0 1345.6,731.5 1346.6,733.3 1347.6,735.1 1348.6,736.6 1349.6,738.5 1350.6,741.3 1351.6,743.7 1352.6,746.1 1353.6,749.0 1354.6,751.4 1355.6,753.5 1356.6,754.7 1357.6,755.2 1358.6,755.4 1359.6,756.2 1360.6,756.1 1361.6,755.8 1362.6,757.4 1363.6,757.0 1364.6,757.6 1365.6,757.8 1366.6,758.9 1367.6,758.3 1368.6,759.2 1369.6,759.1 1370.6,758.9 1371.6,759.0 1372.6,760.2 1373.6,760.4 1374.6,760.8 1375.6,761.5 1376.6,761.1 1377.6,761.4 1378.6,761.4 1379.6,761.8 1380.6,761.8 1381.6,761.8 1382.6,763.3 1383.6,761.8 1384.6,763.0 1385.6,763.2 1386.6,763.3 1387.6,762.9 1388.6,763.4 1389.6,763.4 1390.6,763.2 1391.6,763.8 1392.6,763.7 1393.6,763.7 1394.6,764.3 1395.6,763.5 1396.6,764.3 1397.6,763.9 1398.6,764.4 1399.6,764.3 1400.6,764.4 1401.6,763.9 1402.6,764.0 1403.6,764.0 1404.6,764.5 1405.6,764.8 1406.6,765.0 1407.6,764.4 1408.6,764.7 1409.6,763.9 1410.6,763.7 1411.6,764.3 1412.6,764.5 1413.6,764.1 1414.6,764.0 1415.6,765.1 1416.6,764.5 1417.6,764.2 1418.6,766.0 1419.6,765.0 1420.6,764.8 1421.6,765.3 1422.6,764.7 1423.6,765.8 1424.6,764.4 1425.6,764.5 1426.6,765.0 1427.6,764.8 1428.6,765.8 1429.6,764.4 1430.6,764.8 1431.6,765.3 1432.6,765.4 1433.6,765.6 1434.6,765.3 1435.6,766.2 1436.6,765.0 1437.6,765.3 1438.6,765.6 1439.6,765.0 1440.6,765.1 1441.6,765.0 1442.6,764.9 1443.6,764.7 1444.6,764.9 1445.6,764.5 1446.6,765.3 1447.6,764.4 1448.6,766.1 1449.6,765.9 1450.6,765.6 1451.6,765.0 1452.6,764.8 1453.6,765.6 1454.6,765.1 1455.6,765.3 1456.6,764.7 1457.6,765.5 1458.6,764.6 1459.6,765.0 1460.6,764.2 1461.6,764.6 1462.6,765.1 1463.6,764.7 1464.6,764.7 1465.6,765.2 1466.6,764.8 1467.6,765.4 1468.6,763.7 1469.6,765.0 1470.6,765.0 1471.6,764.0 1472.6,764.1 1473.6,765.1 1474.6,764.2 1475.6,764.3 1476.6,764.9 1477.6,764.4 1478.6,764.7 1479.6,764.1 1480.6,764.6 1481.6,764.9 1482.6,764.6 1483.6,763.4 1484.6,764.6 1485.6,764.4 1486.6,763.9 1487.6,764.9 1488.6,763.5 1489.6,765.0 1490.6,763.9 1491.6,764.8 1492.6,764.1 1493.6,763.5 1494.6,764.1 1495.6,764.2 1496.6,764.2 1497.6,764.4 1498.6,763.5 1499.6,764.1 1500.6,764.2 1501.6,763.7 1502.6,763.4 1503.6,763.3 1504.6,764.1 1505.6,764.0 1506.6,763.3 1507.6,763.0 1508.6,764.1 1509.6,762.8 1510.6,763.6 1511.6,763.1 1512.6,762.6 1513.6,763.4 1514.6,763.2 1515.6,763.8 1516.6,764.1 1517.6,763.0 1518.6,763.4 1519.6,763.3 1520.6,762.5 1521.6,762.2 1522.6,763.1 1523.6,761.9 1524.6,761.7 1525.6,761.2 1526.6,760.8 1527.6,760.2 1528.6,760.3 1529.6,759.9 1530.6,758.6 1531.6,757.6 1532.6,757.6 1533.6,756.3 1534.6,756.0 1535.6,756.2 1536.6,756.0 1537.6,754.4 1538.6,753.0 1539.6,753.1 1540.6,750.9 1541.6,750.7 1542.6,750.6 1543.6,749.1 1544.6,746.9 1545.6,745.6 1546.6,745.4 1547.6,743.7 1548.6,742.2 1549.6,741.3 1550.6,739.7 1551.6,737.9 1552.6,738.0 1553.6,736.3 1554.6,735.1 1555.6,733.7 1556.6,733.2 1557.6,731.6 1558.6,731.1 1559.6,729.6 1560.6,729.4 1561.6,728.0 1562.6,727.5 1563.6,726.7 1564.6,727.2 1565.6,728.3 1566.6,729.9 1567.6,728.6 1568.6,729.4 1569.6,730.9 1570.6,731.9 1571.6,732.8 1572.6,735.1 1573.6,736.9 1574.6,740.2 1575.6,743.4 1576.6,746.3 1577.6,747.7 1578.6,749.3 1579.6,751.1 1580.6,752.7 1581.6,753.7 1582.6,754.4 1583.6,756.1 1584.6,757.5 1585.6,757.7 1586.6,758.3 1587.6,759.9 1588.6,760.5 1589.6,761.2 1590.6,761.2 1591.6,761.2 1592.6,761.6 1593.6,761.6 1594.6,761.9 1595.6,762.4 1596.6,762.7 1597.6,763.6 1598.6,762.8 1599.6,763.6 1600.6,763.6 1601.6,764.7 1602.6,764.4 1603.6,764.3 1604.6,765.0 1605.6,764.8 1606.6,764.7 1607.6,765.7 1608.6,765.5 1609.6,766.1 1610.6,765.9 1611.6,765.8 1612.6,765.6 1613.6,765.2 1614.6,766.1 1615.6,765.8 1616.6,766.1 1617.6,765.9 1618.6,765.6 1619.6,765.5 1620.6,766.3 1621.6,766.6 1622.6,765.9 1623.6,766.2 1624.6,766.7 1625.6,765.7 1626.6,766.0 1627.6,765.6 1628.6,766.7 1629.6,766.3 1630.6,766.0 1631.6,765.4 1632.6,766.1 1633.6,766.6 1634.6,766.1 1635.6,766.0 1636.6,766.5 1637.6,765.7 1638.6,766.3 1639.6,766.5 1640.6,765.9 1641.6,765.9 1642.6,766.4 1643.6,766.2 1644.6,766.2 1645.6,766.4 1646.6,766.4 1647.6,765.9 1648.6,766.0 1649.6,766.5 1650.6,766.8 1651.6,766.9 1652.6,766.0 1653.6,766.8 1654.6,766.7 1655.6,766.4 1656.6,766.6 1657.6,766.8 1658.6,767.2 1659.6,766.0 1660.6,766.7 1661.6,766.4 1662.6,766.4 1663.6,767.0 1664.6,766.9 1665.6,766.1 1666.6,766.5 1667.6,766.7 1668.6,766.0 1669.6,767.1 1670.6,766.7 1671.6,766.8 1672.6,766.9 1673.6,767.8 1674.6,767.4 1675.6,767.8 1676.6,769.2 1677.6,768.8 1678.6,769.2 1679.6,769.1 1680.6,770.3 1681.6,769.9 1682.6,770.0 1683.6,769.9 1684.6,769.7 1685.6,769.4 1686.6,769.4 1687.6,770.0 1688.6,769.8 1689.6,770.5 1690.6,769.4 1691.6,769.6 1692.6,769.3 1693.6,770.4 1694.6,769.2 1695.6,770.1 1696.6,770.4 1697.6,769.7 1698.6,770.1 1699.6,768.8 1700.6,769.6 1701.6,769.0 1702.6,769.9 1703.6,769.8 1704.6,769.4 1705.6,770.2 1706.6,769.9 1707.6,769.6 1708.6,769.6 1709.6,769.1 1710.6,769.7 1711.6,770.7 1712.6,769.5 1713.6,770.0 1714.6,769.5 1715.6,770.1 1716.6,770.0 1717.6,769.7 1718.6,769.0 1719.6,769.6 1720.6,770.3 1721.6,769.7 1722.6,770.1 1723.6,769.6 1724.6,769.0 1725.6,770.0 1726.6,769.9 1727.6,769.5 1728.6,769.6 1729.6,769.9 1730.6,769.5 1731.6,769.9 1732.6,769.7 1733.6,768.7 1734.6,769.7 1735.6,769.5 1736.6,769.4 1737.6,770.0 1738.6,769.6 1739.6,770.0 1740.6,770.3 1741.6,769.9 1742.6,769.1 1743.6,769.5 1744.6,770.2 1745.6,769.7 1746.6,769.4 1747.6,769.7 1748.6,770.0 1749.6,769.9 1750.6,770.1 1751.6,769.4 1752.6,769.7 1753.6,769.7 1754.6,769.8 1755.6,768.8 1756.6,769.6 1757.6,769.0 1758.6,770.1 1759.6,769.9 1760.6,769.8 1761.6,769.1 1762.6,768.2 1763.6,768.6 1764.6,767.7 1765.6,767.8 1766.6,766.8 1767.6,766.5 1768.6,766.7 1769.6,766.9 1770.6,765.8 1771.6,766.5 1772.6,766.4 1773.6,764.3 1774.6,764.6 1775.6,764.0 1776.6,764.2 1777.6,763.8 1778.6,763.9 1779.6,764.3 1780.6,764.3 1781.6,764.2 1782.6,764.4 1783.6,764.9 1784.6,765.4 1785.6,766.2 1786.6,766.7 1787.6,767.6 1788.6,767.5 1789.6,769.1 1790.6,770.1 1791.6,770.0 1792.6,769.7 1793.6,771.2 1794.6,770.7 1795.6,769.7 1796.6,771.1 1797.6,771.6 1798.6,771.6 1799.6,772.2 1800.6,772.0 1801.6,772.0 1802.6,771.2 1803.6,771.7 1804.6,772.4 1805.6,772.7 1806.6,772.0 1807.6,772.3 1808.6,772.9 1809.6,771.9 1810.6,772.0 1811.6,772.9 1812.6,773.1 1813.6,772.9 1814.6,772.2 1815.6,773.3 1816.6,772.7 1817.6,773.7 1818.6,773.4 1819.6,773.6 1820.6,773.8 1821.6,773.4 1822.6,774.0 1823.6,774.3 1824.6,773.9 1825.6,774.4 1826.6,773.6 1827.6,774.3 1828.6,774.1 1829.6,773.6 1830.6,774.0 1831.6,773.9 1832.6,773.9 1833.6,774.2 1834.6,774.7 1835.6,774.1 1836.6,774.4 1837.6,773.7 1838.6,774.4 1839.6,774.9 1840.6,774.8 1841.6,774.7 1842.6,774.3 1843.6,774.1 1844.6,774.5 1845.6,774.0 1846.6,774.1 1847.6,775.0 1848.6,774.2 1849.6,775.5 1850.6,774.0 1851.6,774.9 1852.6,774.2 1853.6,774.8 1854.6,774.2"/>
<polyline fill="none" stroke="#809FD6" stroke-width="4.9" stroke-linejoin="round" stroke-linecap="round" points="187.4,886.5 188.4,883.3 189.4,880.3 190.4,879.0 191.4,878.0 192.4,874.4 193.4,874.8 194.4,873.2 195.4,872.7 196.4,875.0 197.4,871.4 198.4,874.3 199.4,874.9 200.4,878.3 201.4,880.3 202.4,885.9 203.4,883.7 204.4,886.2 205.4,886.7 206.4,886.0 207.4,887.9 208.4,889.9 209.4,889.1 210.4,889.6 211.4,890.2 212.4,888.2 213.4,888.8 214.4,889.9 215.4,890.1 216.4,888.5 217.4,889.0 218.4,889.0 219.4,888.9 220.4,889.5 221.4,888.8 222.4,888.6 223.4,886.9 224.4,887.0 225.4,888.2 226.4,886.0 227.4,887.7 228.4,886.5 229.4,886.2 230.4,887.4 231.4,885.9 232.4,885.5 233.4,885.5 234.4,886.0 235.4,888.5 236.4,883.5 237.4,885.4 238.4,885.1 239.4,886.2 240.4,884.7 241.4,882.6 242.4,886.3 243.4,883.9 244.4,884.9 245.4,883.6 246.4,883.9 247.4,884.5 248.4,885.9 249.4,885.9 250.4,884.5 251.4,885.6 252.4,884.8 253.4,885.3 254.4,885.4 255.4,885.9 256.4,884.7 257.4,885.2 258.4,885.6 259.4,885.6 260.4,884.7 261.4,887.3 262.4,885.2 263.4,886.5 264.4,886.0 265.4,887.0 266.4,883.7 267.4,888.0 268.4,885.8 269.4,884.9 270.4,886.3 271.4,888.5 272.4,886.8 273.4,885.1 274.4,886.0 275.4,887.8 276.4,885.1 277.4,886.4 278.4,886.4 279.4,888.9 280.4,886.6 281.4,888.2 282.4,886.4 283.4,886.3 284.4,888.2 285.4,887.9 286.4,885.7 287.4,888.2 288.4,888.3 289.4,887.1 290.4,888.1 291.4,888.2 292.4,887.6 293.4,887.6 294.4,887.6 295.4,888.1 296.4,887.2 297.4,888.6 298.4,887.2 299.4,888.9 300.4,888.9 301.4,888.0 302.4,890.0 303.4,891.2 304.4,890.7 305.4,888.1 306.4,890.9 307.4,889.9 308.4,889.7 309.4,889.3 310.4,890.0 311.4,891.5 312.4,890.7 313.4,889.9 314.4,889.7 315.4,890.1 316.4,891.2 317.4,892.5 318.4,889.7 319.4,890.9 320.4,890.6 321.4,890.3 322.4,891.6 323.4,891.8 324.4,890.0 325.4,890.5 326.4,892.8 327.4,892.0 328.4,892.3 329.4,891.4 330.4,891.6 331.4,892.5 332.4,891.7 333.4,891.2 334.4,892.4 335.4,893.4 336.4,891.5 337.4,893.7 338.4,893.5 339.4,892.0 340.4,893.0 341.4,893.0 342.4,893.8 343.4,893.9 344.4,892.1 345.4,892.1 346.4,894.6 347.4,893.8 348.4,894.2 349.4,894.2 350.4,895.5 351.4,892.9 352.4,895.3 353.4,893.5 354.4,895.1 355.4,895.8 356.4,893.3 357.4,895.2 358.4,894.6 359.4,894.7 360.4,895.2 361.4,894.2 362.4,894.5 363.4,896.2 364.4,896.5 365.4,895.2 366.4,894.5 367.4,898.4 368.4,897.3 369.4,896.7 370.4,895.4 371.4,896.0 372.4,896.9 373.4,895.9 374.4,898.5 375.4,897.2 376.4,897.5 377.4,896.2 378.4,896.5 379.4,896.7 380.4,897.8 381.4,897.4 382.4,897.4 383.4,898.1 384.4,898.0 385.4,899.3 386.4,897.7 387.4,897.0 388.4,898.0 389.4,899.5 390.4,897.5 391.4,898.1 392.4,897.7 393.4,898.5 394.4,898.3 395.4,897.2 396.4,897.8 397.4,898.9 398.4,899.1 399.4,898.9 400.4,898.8 401.4,897.6 402.4,897.5 403.4,898.7 404.4,896.6 405.4,897.6 406.4,895.8 407.4,897.2 408.4,896.8 409.4,896.2 410.4,897.9 411.4,896.6 412.4,896.8 413.4,896.9 414.4,896.3 415.4,898.3 416.4,896.3 417.4,896.9 418.4,895.3 419.4,896.0 420.4,896.1 421.4,895.9 422.4,895.6 423.4,896.1 424.4,897.3 425.4,895.3 426.4,894.7 427.4,893.7 428.4,895.8 429.4,894.0 430.4,892.1 431.4,891.4 432.4,889.2 433.4,888.9 434.4,888.6 435.4,888.0 436.4,886.7 437.4,886.7 438.4,888.1 439.4,888.1 440.4,886.1 441.4,888.7 442.4,890.4 443.4,889.2 444.4,890.7 445.4,889.7 446.4,892.7 447.4,891.5 448.4,892.1 449.4,893.7 450.4,896.9 451.4,894.5 452.4,894.3 453.4,896.5 454.4,896.8 455.4,898.7 456.4,896.3 457.4,896.5 458.4,898.3 459.4,899.4 460.4,899.8 461.4,901.0 462.4,898.8 463.4,899.8 464.4,900.8 465.4,902.0 466.4,901.8 467.4,901.1 468.4,900.7 469.4,902.7 470.4,902.9 471.4,904.8 472.4,902.1 473.4,904.0 474.4,901.3 475.4,902.1 476.4,902.0 477.4,902.4 478.4,902.0 479.4,902.5 480.4,903.0 481.4,902.7 482.4,903.9 483.4,903.3 484.4,903.4 485.4,905.0 486.4,903.9 487.4,903.8 488.4,903.7 489.4,903.9 490.4,904.4 491.4,903.2 492.4,905.2 493.4,905.7 494.4,905.3 495.4,903.8 496.4,902.8 497.4,904.0 498.4,904.7 499.4,905.4 500.4,904.5 501.4,904.5 502.4,906.4 503.4,904.3 504.4,906.1 505.4,906.0 506.4,903.9 507.4,905.6 508.4,904.8 509.4,904.5 510.4,903.7 511.4,904.1 512.4,906.1 513.4,905.4 514.4,906.1 515.4,904.9 516.4,905.7 517.4,905.8 518.4,904.7 519.4,904.6 520.4,906.8 521.4,906.6 522.4,905.6 523.4,906.5 524.4,907.3 525.4,908.5 526.4,905.9 527.4,907.5 528.4,909.0 529.4,907.1 530.4,908.5 531.4,904.6 532.4,908.6 533.4,907.2 534.4,905.5 535.4,908.1 536.4,908.5 537.4,908.7 538.4,908.7 539.4,907.6 540.4,906.9 541.4,907.3 542.4,907.8 543.4,908.2 544.4,907.4 545.4,908.0 546.4,908.8 547.4,908.3 548.4,910.3 549.4,910.2 550.4,907.0 551.4,907.6 552.4,906.9 553.4,907.1 554.4,908.8 555.4,907.4 556.4,907.4 557.4,908.2 558.4,909.2 559.4,908.2 560.4,908.2 561.4,909.5 562.4,909.1 563.4,909.1 564.4,909.7 565.4,907.8 566.4,909.1 567.4,908.3 568.4,910.0 569.4,909.8 570.4,908.1 571.4,910.5 572.4,908.1 573.4,910.5 574.4,909.6 575.4,908.7 576.4,908.6 577.4,909.5 578.4,909.9 579.4,909.3 580.4,910.7 581.4,908.9 582.4,910.4 583.4,910.6 584.4,908.9 585.4,911.2 586.4,909.8 587.4,908.8 588.4,910.8 589.4,911.4 590.4,912.7 591.4,911.5 592.4,913.6 593.4,913.7 594.4,913.6 595.4,914.0 596.4,913.2 597.4,912.5 598.4,913.9 599.4,914.4 600.4,913.8 601.4,913.5 602.4,912.4 603.4,914.8 604.4,914.7 605.4,913.2 606.4,914.8 607.4,915.6 608.4,914.9 609.4,916.0 610.4,916.1 611.4,914.1 612.4,915.4 613.4,916.3 614.4,916.9 615.4,917.5 616.4,914.4 617.4,916.3 618.4,917.3 619.4,917.9 620.4,918.5 621.4,916.0 622.4,916.6 623.4,916.1 624.4,918.0 625.4,916.0 626.4,918.6 627.4,918.4 628.4,918.0 629.4,915.5 630.4,917.1 631.4,918.6 632.4,916.5 633.4,917.7 634.4,917.9 635.4,919.0 636.4,918.5 637.4,918.5 638.4,917.9 639.4,918.4 640.4,918.3 641.4,919.3 642.4,918.4 643.4,919.7 644.4,917.1 645.4,920.0 646.4,918.7 647.4,920.0 648.4,919.1 649.4,919.9 650.4,920.6 651.4,918.6 652.4,919.3 653.4,919.1 654.4,919.6 655.4,917.8 656.4,919.3 657.4,919.3 658.4,918.8 659.4,919.5 660.4,918.2 661.4,921.2 662.4,920.3 663.4,921.8 664.4,919.2 665.4,919.0 666.4,920.5 667.4,918.6 668.4,920.6 669.4,919.7 670.4,920.2 671.4,920.8 672.4,920.7 673.4,922.6 674.4,921.5 675.4,919.6 676.4,922.0 677.4,919.8 678.4,921.3 679.4,920.1 680.4,920.6 681.4,922.8 682.4,921.1 683.4,921.1 684.4,921.3 685.4,921.7 686.4,923.5 687.4,921.1 688.4,921.2 689.4,923.1 690.4,921.1 691.4,922.4 692.4,924.0 693.4,923.0 694.4,922.7 695.4,922.6 696.4,922.6 697.4,923.0 698.4,923.9 699.4,925.1 700.4,925.0 701.4,923.6 702.4,923.6 703.4,925.1 704.4,922.8 705.4,924.3 706.4,924.6 707.4,923.9 708.4,924.2 709.4,925.6 710.4,923.8 711.4,924.7 712.4,925.1 713.4,925.9 714.4,924.6 715.4,927.2 716.4,925.9 717.4,926.1 718.4,926.1 719.4,925.9 720.4,925.8 721.4,928.0 722.4,927.2 723.4,927.0 724.4,928.2 725.4,926.6 726.4,928.0 727.4,927.5 728.4,926.7 729.4,928.4 730.4,926.3 731.4,928.5 732.4,927.1 733.4,928.4 734.4,929.5 735.4,928.8 736.4,927.7 737.4,928.3 738.4,928.1 739.4,927.4 740.4,927.5 741.4,928.7 742.4,929.3 743.4,927.1 744.4,928.8 745.4,929.4 746.4,929.1 747.4,928.1 748.4,930.2 749.4,928.0 750.4,929.9 751.4,930.9 752.4,927.4 753.4,929.7 754.4,929.9 755.4,929.8 756.4,928.9 757.4,929.4 758.4,928.4 759.4,930.0 760.4,930.5 761.4,929.4 762.4,929.2 763.4,929.7 764.4,930.2 765.4,930.3 766.4,930.2 767.4,930.5 768.4,929.2 769.4,927.9 770.4,931.2 771.4,932.1 772.4,929.4 773.4,930.2 774.4,931.2 775.4,931.9 776.4,931.7 777.4,932.4 778.4,931.2 779.4,931.7 780.4,931.8 781.4,931.0 782.4,932.7 783.4,932.2 784.4,932.7 785.4,931.4 786.4,932.9 787.4,930.9 788.4,932.5 789.4,929.6 790.4,931.3 791.4,933.1 792.4,932.0 793.4,932.7 794.4,931.0 795.4,934.2 796.4,933.4 797.4,932.9 798.4,933.4 799.4,933.4 800.4,934.6 801.4,933.5 802.4,931.9 803.4,933.2 804.4,934.8 805.4,934.2 806.4,933.4 807.4,934.5 808.4,934.1 809.4,934.7 810.4,932.6 811.4,933.4 812.4,935.0 813.4,934.3 814.4,934.9 815.4,936.6 816.4,934.5 817.4,935.1 818.4,934.5 819.4,934.5 820.4,935.2 821.4,933.9 822.4,933.4 823.4,936.9 824.4,935.6 825.4,936.9 826.4,936.0 827.4,936.1 828.4,936.7 829.4,936.9 830.4,935.1 831.4,937.6 832.4,935.6 833.4,936.8 834.4,939.3 835.4,936.9 836.4,938.6 837.4,936.8 838.4,937.8 839.4,937.4 840.4,937.9 841.4,936.7 842.4,936.8 843.4,938.1 844.4,936.4 845.4,937.2 846.4,938.8 847.4,937.7 848.4,937.5 849.4,937.5 850.4,938.8 851.4,938.4 852.4,939.1 853.4,938.9 854.4,941.0 855.4,938.9 856.4,937.5 857.4,939.7 858.4,939.7 859.4,940.0 860.4,938.4 861.4,941.2 862.4,940.2 863.4,940.3 864.4,938.9 865.4,941.1 866.4,940.7 867.4,942.2 868.4,940.6 869.4,939.9 870.4,941.4 871.4,940.5 872.4,941.9 873.4,940.6 874.4,941.7 875.4,941.7 876.4,942.0 877.4,941.7 878.4,941.5 879.4,942.4 880.4,942.0 881.4,942.8 882.4,942.6 883.4,940.8 884.4,943.0 885.4,944.5 886.4,943.6 887.4,944.0 888.4,944.0 889.4,943.2 890.4,942.5 891.4,944.7 892.4,945.1 893.4,944.8 894.4,944.7 895.4,944.8 896.4,944.6 897.4,945.0 898.4,944.9 899.4,945.3 900.4,944.2 901.4,944.6 902.4,945.9 903.4,945.2 904.4,943.3 905.4,945.9 906.4,943.7 907.4,947.9 908.4,946.8 909.4,946.9 910.4,945.8 911.4,945.4 912.4,946.5 913.4,946.8 914.4,946.2 915.4,947.2 916.4,947.8 917.4,947.9 918.4,946.4 919.4,945.5 920.4,947.7 921.4,947.2 922.4,948.4 923.4,949.6 924.4,949.8 925.4,948.6 926.4,949.5 927.4,950.1 928.4,948.7 929.4,949.0 930.4,949.7 931.4,949.0 932.4,948.7 933.4,948.5 934.4,949.4 935.4,948.9 936.4,950.4 937.4,949.4 938.4,951.2 939.4,951.1 940.4,948.9 941.4,951.2 942.4,949.9 943.4,951.7 944.4,951.0 945.4,950.6 946.4,951.4 947.4,950.3 948.4,951.2 949.4,951.4 950.4,951.0 951.4,951.6 952.4,950.4 953.4,952.0 954.4,950.4 955.4,952.2 956.4,952.2 957.4,952.5 958.4,951.4 959.4,954.9 960.4,951.9 961.4,952.4 962.4,951.6 963.4,953.8 964.4,952.1 965.4,953.6 966.4,951.8 967.4,953.1 968.4,952.5 969.4,953.9 970.4,952.8 971.4,952.4 972.4,953.7 973.4,952.2 974.4,952.6 975.4,954.3 976.4,951.9 977.4,954.5 978.4,953.5 979.4,953.1 980.4,954.3 981.4,954.8 982.4,953.7 983.4,954.2 984.4,955.2 985.4,955.3 986.4,954.6 987.4,954.0 988.4,954.0 989.4,954.4 990.4,955.7 991.4,955.8 992.4,955.6 993.4,956.7 994.4,955.3 995.4,955.3 996.4,955.4 997.4,957.7 998.4,954.1 999.4,956.5 1000.4,956.8 1001.4,956.6 1002.4,958.9 1003.4,958.0 1004.4,957.7 1005.4,956.3 1006.4,957.8 1007.4,957.2 1008.4,957.7 1009.4,958.0 1010.4,957.5 1011.4,958.7 1012.4,959.8 1013.4,959.4 1014.4,958.8 1015.4,956.9 1016.4,959.8 1017.4,959.9 1018.4,958.8 1019.4,958.7 1020.4,959.8 1021.4,958.5 1022.4,960.1 1023.4,958.3 1024.4,958.5 1025.4,959.4 1026.4,958.0 1027.4,959.3 1028.4,959.8 1029.4,957.9 1030.4,959.9 1031.4,958.4 1032.4,959.3 1033.4,958.8 1034.4,958.0 1035.4,957.8 1036.4,956.5 1037.4,957.3 1038.4,957.1 1039.4,959.2 1040.4,958.4 1041.4,956.0 1042.4,957.9 1043.4,957.3 1044.4,956.6 1045.4,957.3 1046.4,957.5 1047.4,956.2 1048.4,956.5 1049.4,956.9 1050.4,955.8 1051.4,956.9 1052.4,956.6 1053.4,956.0 1054.4,955.9 1055.4,956.9 1056.4,957.4 1057.4,956.9 1058.4,955.8 1059.4,957.2 1060.4,956.6 1061.4,956.7 1062.4,956.7 1063.4,954.1 1064.4,954.1 1065.4,952.9 1066.4,952.0 1067.4,954.3 1068.4,953.1 1069.4,950.7 1070.4,953.0 1071.4,952.7 1072.4,954.9 1073.4,954.7 1074.4,955.3 1075.4,956.4 1076.4,957.5 1077.4,957.9 1078.4,958.6 1079.4,959.7 1080.4,961.4 1081.4,961.0 1082.4,963.1 1083.4,963.8 1084.4,964.2 1085.4,965.7 1086.4,964.0 1087.4,965.1 1088.4,964.8 1089.4,966.3 1090.4,965.5 1091.4,966.2 1092.4,966.6 1093.4,964.9 1094.4,966.9 1095.4,965.9 1096.4,966.5 1097.4,966.7 1098.4,967.7 1099.4,967.7 1100.4,968.7 1101.4,967.3 1102.4,966.8 1103.4,966.8 1104.4,968.0 1105.4,968.9 1106.4,967.8 1107.4,967.1 1108.4,967.9 1109.4,968.0 1110.4,967.9 1111.4,967.2 1112.4,965.7 1113.4,967.6 1114.4,969.2 1115.4,968.6 1116.4,966.4 1117.4,968.6 1118.4,966.9 1119.4,970.6 1120.4,969.0 1121.4,967.8 1122.4,969.8 1123.4,968.4 1124.4,969.8 1125.4,969.4 1126.4,968.4 1127.4,970.2 1128.4,968.4 1129.4,971.0 1130.4,969.9 1131.4,969.0 1132.4,968.4 1133.4,971.7 1134.4,971.6 1135.4,969.2 1136.4,972.0 1137.4,970.7 1138.4,970.5 1139.4,970.7 1140.4,970.6 1141.4,972.3 1142.4,971.2 1143.4,969.4 1144.4,973.2 1145.4,972.2 1146.4,970.5 1147.4,971.3 1148.4,970.9 1149.4,971.9 1150.4,972.3 1151.4,972.3 1152.4,971.6 1153.4,971.6 1154.4,973.2 1155.4,972.5 1156.4,974.8 1157.4,972.1 1158.4,973.7 1159.4,973.2 1160.4,972.6 1161.4,974.7 1162.4,973.6 1163.4,972.8 1164.4,973.5 1165.4,974.9 1166.4,972.9 1167.4,975.5 1168.4,974.9 1169.4,974.2 1170.4,975.8 1171.4,976.3 1172.4,975.3 1173.4,975.0 1174.4,976.7 1175.4,976.4 1176.4,974.3 1177.4,975.0 1178.4,975.1 1179.4,975.0 1180.4,974.0 1181.4,976.3 1182.4,975.6 1183.4,975.6 1184.4,976.9 1185.4,975.1 1186.4,975.5 1187.4,975.9 1188.4,975.2 1189.4,975.5 1190.4,976.3 1191.4,975.6 1192.4,976.8 1193.4,974.9 1194.4,975.8 1195.4,974.3 1196.4,975.5 1197.4,974.9 1198.4,976.9 1199.4,976.3 1200.4,976.1 1201.4,977.3 1202.4,977.0 1203.4,976.3 1204.4,975.0 1205.4,974.2 1206.4,975.6 1207.4,975.3 1208.4,975.0 1209.4,975.3 1210.4,974.0 1211.4,977.0 1212.4,974.5 1213.4,975.0 1214.4,976.1 1215.4,974.1 1216.4,976.5 1217.4,976.5 1218.4,975.3 1219.4,974.6 1220.4,975.2 1221.4,973.9 1222.4,976.9 1223.4,975.7 1224.4,974.9 1225.4,974.7 1226.4,976.1 1227.4,977.0 1228.4,974.4 1229.4,975.1 1230.4,973.9 1231.4,976.2 1232.4,975.7 1233.4,977.7 1234.4,975.5 1235.4,975.2 1236.4,974.9 1237.4,976.4 1238.4,974.1 1239.4,976.3 1240.4,975.8 1241.4,974.5 1242.4,973.0 1243.4,973.3 1244.4,972.3 1245.4,968.2 1246.4,967.3 1247.4,966.9 1248.4,963.5 1249.4,963.0 1250.4,961.3 1251.4,961.5 1252.4,960.9 1253.4,959.9 1254.4,959.0 1255.4,957.7 1256.4,957.6 1257.4,957.7 1258.4,959.2 1259.4,958.4 1260.4,958.7 1261.4,961.1 1262.4,962.1 1263.4,962.1 1264.4,963.5 1265.4,966.1 1266.4,967.1 1267.4,967.1 1268.4,969.2 1269.4,970.1 1270.4,972.4 1271.4,971.8 1272.4,974.7 1273.4,975.5 1274.4,975.3 1275.4,978.4 1276.4,979.3 1277.4,978.0 1278.4,981.8 1279.4,979.5 1280.4,980.3 1281.4,981.5 1282.4,983.1 1283.4,983.5 1284.4,983.4 1285.4,985.3 1286.4,984.9 1287.4,986.2 1288.4,988.0 1289.4,985.8 1290.4,983.4 1291.4,985.6 1292.4,985.1 1293.4,986.2 1294.4,986.2 1295.4,984.9 1296.4,985.0 1297.4,985.8 1298.4,985.9 1299.4,983.6 1300.4,987.0 1301.4,986.1 1302.4,986.1 1303.4,986.4 1304.4,985.1 1305.4,986.1 1306.4,987.1 1307.4,987.1 1308.4,986.5 1309.4,985.8 1310.4,985.3 1311.4,987.4 1312.4,986.6 1313.4,985.7 1314.4,984.0 1315.4,985.2 1316.4,984.0 1317.4,986.9 1318.4,985.6 1319.4,984.3 1320.4,984.4 1321.4,986.7 1322.4,984.9 1323.4,981.8 1324.4,982.4 1325.4,980.7 1326.4,979.5 1327.4,980.7 1328.4,981.8 1329.4,979.5 1330.4,976.3 1331.4,973.9 1332.4,972.4 1333.4,971.1 1334.4,966.6 1335.4,964.2 1336.4,965.6 1337.4,961.2 1338.4,959.7 1339.4,955.7 1340.4,954.9 1341.4,951.7 1342.4,952.9 1343.4,954.9 1344.4,956.2 1345.4,956.9 1346.4,960.7 1347.4,961.6 1348.4,963.2 1349.4,967.7 1350.4,971.4 1351.4,973.9 1352.4,974.7 1353.4,979.4 1354.4,981.3 1355.4,981.9 1356.4,981.6 1357.4,986.7 1358.4,988.0 1359.4,989.0 1360.4,987.9 1361.4,989.1 1362.4,992.2 1363.4,992.3 1364.4,992.2 1365.4,991.7 1366.4,992.6 1367.4,991.8 1368.4,992.2 1369.4,991.8 1370.4,993.1 1371.4,992.5 1372.4,994.0 1373.4,993.9 1374.4,992.5 1375.4,995.2 1376.4,992.3 1377.4,994.0 1378.4,994.7 1379.4,995.0 1380.4,991.6 1381.4,994.8 1382.4,995.2 1383.4,995.5 1384.4,991.9 1385.4,993.6 1386.4,994.2 1387.4,994.0 1388.4,995.9 1389.4,994.1 1390.4,996.1 1391.4,995.6 1392.4,993.8 1393.4,994.4 1394.4,995.1 1395.4,995.8 1396.4,996.9 1397.4,995.9 1398.4,997.2 1399.4,994.9 1400.4,993.6 1401.4,996.5 1402.4,997.5 1403.4,996.9 1404.4,996.4 1405.4,998.0 1406.4,999.7 1407.4,997.9 1408.4,997.4 1409.4,997.5 1410.4,1000.5 1411.4,998.6 1412.4,999.5 1413.4,1000.2 1414.4,1000.2 1415.4,998.4 1416.4,1000.4 1417.4,1000.4 1418.4,1000.2 1419.4,1000.8 1420.4,999.4 1421.4,1000.0 1422.4,999.6 1423.4,1001.0 1424.4,999.7 1425.4,1000.9 1426.4,999.5 1427.4,1000.6 1428.4,1000.4 1429.4,1000.8 1430.4,1001.1 1431.4,1000.9 1432.4,1001.0 1433.4,999.2 1434.4,1002.5 1435.4,1000.8 1436.4,1001.3 1437.4,1000.8 1438.4,1002.7 1439.4,1000.9 1440.4,1002.4 1441.4,1003.1 1442.4,1003.6 1443.4,1003.2 1444.4,1002.7 1445.4,1000.9 1446.4,1003.4 1447.4,1003.4 1448.4,1003.0 1449.4,1003.0 1450.4,1002.3 1451.4,1001.7 1452.4,1003.3 1453.4,1003.5 1454.4,1001.2 1455.4,1003.1 1456.4,1002.5 1457.4,1003.1 1458.4,1002.5 1459.4,1003.3 1460.4,1003.2 1461.4,1003.1 1462.4,1000.8 1463.4,1003.0 1464.4,1002.3 1465.4,1001.1 1466.4,1002.9 1467.4,1000.9 1468.4,1003.1 1469.4,1003.9 1470.4,1001.7 1471.4,1003.1 1472.4,1002.7 1473.4,1002.9 1474.4,1000.9 1475.4,1002.8 1476.4,1002.4 1477.4,1003.0 1478.4,1002.2 1479.4,1003.3 1480.4,1002.5 1481.4,1002.9 1482.4,1003.6 1483.4,1002.5 1484.4,1003.5 1485.4,1002.9 1486.4,1003.4 1487.4,1002.6 1488.4,1004.2 1489.4,1004.9 1490.4,1004.0 1491.4,1005.2 1492.4,1005.1 1493.4,1004.0 1494.4,1005.7 1495.4,1007.0 1496.4,1005.6 1497.4,1004.6 1498.4,1006.9 1499.4,1006.3 1500.4,1009.1 1501.4,1007.4 1502.4,1007.6 1503.4,1007.1 1504.4,1008.0 1505.4,1007.3 1506.4,1006.9 1507.4,1007.8 1508.4,1007.0 1509.4,1009.1 1510.4,1006.7 1511.4,1007.8 1512.4,1007.2 1513.4,1006.5 1514.4,1009.5 1515.4,1005.8 1516.4,1009.3 1517.4,1006.4 1518.4,1007.9 1519.4,1010.1 1520.4,1005.7 1521.4,1006.5 1522.4,1009.1 1523.4,1008.0 1524.4,1007.3 1525.4,1007.8 1526.4,1006.9 1527.4,1008.0 1528.4,1009.3 1529.4,1007.5 1530.4,1008.0 1531.4,1009.0 1532.4,1009.8 1533.4,1007.3 1534.4,1008.1 1535.4,1007.3 1536.4,1007.2 1537.4,1007.4 1538.4,1007.2 1539.4,1006.1 1540.4,1005.9 1541.4,1007.1 1542.4,1008.0 1543.4,1009.0 1544.4,1007.2 1545.4,1007.0 1546.4,1007.1 1547.4,1006.3 1548.4,1004.3 1549.4,1003.1 1550.4,1003.6 1551.4,1000.0 1552.4,998.3 1553.4,995.8 1554.4,996.3 1555.4,994.1 1556.4,994.2 1557.4,989.7 1558.4,988.4 1559.4,986.0 1560.4,984.3 1561.4,979.3 1562.4,980.4 1563.4,977.6 1564.4,976.9 1565.4,977.2 1566.4,979.1 1567.4,982.0 1568.4,983.5 1569.4,990.0 1570.4,993.1 1571.4,995.0 1572.4,997.8 1573.4,1001.3 1574.4,1000.5 1575.4,1000.7 1576.4,1003.6 1577.4,1001.9 1578.4,1003.2 1579.4,1003.5 1580.4,1004.4 1581.4,1006.0 1582.4,1006.5 1583.4,1005.9 1584.4,1007.3 1585.4,1008.3 1586.4,1008.6 1587.4,1009.8 1588.4,1009.9 1589.4,1010.8 1590.4,1012.4 1591.4,1012.2 1592.4,1014.4 1593.4,1014.7 1594.4,1014.8 1595.4,1015.8 1596.4,1016.7 1597.4,1017.7 1598.4,1018.6 1599.4,1018.9 1600.4,1018.8 1601.4,1021.5 1602.4,1021.4 1603.4,1020.9 1604.4,1022.0 1605.4,1021.5 1606.4,1021.0 1607.4,1021.4 1608.4,1024.0 1609.4,1022.4 1610.4,1022.5 1611.4,1021.1 1612.4,1022.2 1613.4,1023.8 1614.4,1022.1 1615.4,1022.7 1616.4,1022.9 1617.4,1022.3 1618.4,1023.3 1619.4,1022.0 1620.4,1022.3 1621.4,1021.2 1622.4,1024.4 1623.4,1022.1 1624.4,1022.0 1625.4,1023.2 1626.4,1021.4 1627.4,1021.9 1628.4,1021.2 1629.4,1022.0 1630.4,1021.6 1631.4,1022.5 1632.4,1021.9 1633.4,1021.5 1634.4,1021.8 1635.4,1022.0 1636.4,1021.7 1637.4,1023.1 1638.4,1022.9 1639.4,1022.5 1640.4,1021.3 1641.4,1023.0 1642.4,1021.3 1643.4,1022.8 1644.4,1022.7 1645.4,1022.2 1646.4,1022.1 1647.4,1022.3 1648.4,1025.1 1649.4,1023.0 1650.4,1023.1 1651.4,1024.4 1652.4,1024.0 1653.4,1024.8 1654.4,1022.7 1655.4,1023.0 1656.4,1027.4 1657.4,1024.3 1658.4,1024.3 1659.4,1024.9 1660.4,1025.9 1661.4,1024.0 1662.4,1025.6 1663.4,1025.5 1664.4,1026.4 1665.4,1026.2 1666.4,1025.7 1667.4,1025.6 1668.4,1024.4 1669.4,1027.9 1670.4,1025.8 1671.4,1027.1 1672.4,1029.4 1673.4,1027.8 1674.4,1029.3 1675.4,1029.2 1676.4,1030.9 1677.4,1031.1 1678.4,1031.4 1679.4,1034.0 1680.4,1033.1 1681.4,1032.7 1682.4,1034.0 1683.4,1035.0 1684.4,1033.4 1685.4,1035.2 1686.4,1035.0 1687.4,1036.0 1688.4,1033.1 1689.4,1034.0 1690.4,1031.4 1691.4,1032.2 1692.4,1032.3 1693.4,1032.2 1694.4,1031.3 1695.4,1030.9 1696.4,1030.0 1697.4,1029.8 1698.4,1030.2 1699.4,1030.1 1700.4,1029.9 1701.4,1030.1 1702.4,1030.1 1703.4,1027.2 1704.4,1028.5 1705.4,1029.1 1706.4,1029.1 1707.4,1031.2 1708.4,1031.6 1709.4,1031.5 1710.4,1032.5 1711.4,1034.5 1712.4,1033.7 1713.4,1034.5 1714.4,1036.4 1715.4,1036.5 1716.4,1037.9 1717.4,1037.2 1718.4,1037.8 1719.4,1036.9 1720.4,1036.8 1721.4,1037.9 1722.4,1035.6 1723.4,1038.8 1724.4,1039.6 1725.4,1039.0 1726.4,1039.0 1727.4,1040.5 1728.4,1039.6 1729.4,1040.8 1730.4,1042.2 1731.4,1041.0 1732.4,1041.4 1733.4,1041.1 1734.4,1041.1 1735.4,1041.3 1736.4,1041.2 1737.4,1042.4 1738.4,1039.9 1739.4,1041.3 1740.4,1042.4 1741.4,1041.0 1742.4,1041.8 1743.4,1041.4 1744.4,1042.5 1745.4,1043.0 1746.4,1043.6 1747.4,1042.8 1748.4,1041.6 1749.4,1042.6 1750.4,1042.9 1751.4,1043.7 1752.4,1040.2 1753.4,1042.5 1754.4,1040.3 1755.4,1042.6 1756.4,1042.1 1757.4,1042.0 1758.4,1042.1 1759.4,1041.4 1760.4,1040.1 1761.4,1040.8 1762.4,1041.4 1763.4,1039.8 1764.4,1039.7 1765.4,1038.2 1766.4,1040.2 1767.4,1038.3 1768.4,1037.8 1769.4,1037.8 1770.4,1037.2 1771.4,1037.5 1772.4,1038.7 1773.4,1038.1 1774.4,1038.5 1775.4,1038.4 1776.4,1036.0 1777.4,1037.3 1778.4,1038.2 1779.4,1038.9 1780.4,1035.5 1781.4,1035.8 1782.4,1038.2 1783.4,1038.0 1784.4,1038.2 1785.4,1040.4 1786.4,1040.2 1787.4,1039.8 1788.4,1042.9 1789.4,1044.1 1790.4,1045.5 1791.4,1046.7 1792.4,1046.7 1793.4,1047.0 1794.4,1047.1 1795.4,1046.6 1796.4,1048.1 1797.4,1049.8 1798.4,1049.8 1799.4,1051.5 1800.4,1049.7 1801.4,1048.4 1802.4,1051.2 1803.4,1051.7 1804.4,1049.8 1805.4,1049.7 1806.4,1051.6 1807.4,1052.4 1808.4,1050.9 1809.4,1051.9 1810.4,1051.7 1811.4,1051.5 1812.4,1051.6 1813.4,1053.2 1814.4,1052.9 1815.4,1052.8 1816.4,1051.1 1817.4,1055.5 1818.4,1053.1 1819.4,1054.0 1820.4,1053.2 1821.4,1054.9 1822.4,1053.2 1823.4,1054.9 1824.4,1054.8 1825.4,1056.0 1826.4,1054.3 1827.4,1054.9 1828.4,1055.4 1829.4,1057.8 1830.4,1054.6 1831.4,1056.4 1832.4,1055.7 1833.4,1056.7 1834.4,1057.2 1835.4,1056.9 1836.4,1057.1 1837.4,1057.3 1838.4,1056.6 1839.4,1057.1 1840.4,1055.8 1841.4,1057.2 1842.4,1057.0 1843.4,1057.6 1844.4,1058.6 1845.4,1058.4 1846.4,1058.6 1847.4,1059.3 1848.4,1056.1 1849.4,1058.9 1850.4,1058.6 1851.4,1058.6 1852.4,1057.5 1853.4,1059.4 1854.4,1060.1"/>
<polyline fill="none" stroke="#1ECBA6" stroke-width="4.9" stroke-linejoin="round" stroke-linecap="round" points="186.6,1088.2 187.6,1086.6 188.6,1086.0 189.6,1085.2 190.6,1084.8 191.6,1083.8 192.6,1082.8 193.6,1082.3 194.6,1081.9 195.6,1081.7 196.6,1081.1 197.6,1081.6 198.6,1080.9 199.6,1081.1 200.6,1082.0 201.6,1082.3 202.6,1083.3 203.6,1083.4 204.6,1085.6 205.6,1086.1 206.6,1086.8 207.6,1087.6 208.6,1087.8 209.6,1087.5 210.6,1088.7 211.6,1087.6 212.6,1088.2 213.6,1088.6 214.6,1087.5 215.6,1087.8 216.6,1087.5 217.6,1088.3 218.6,1087.7 219.6,1087.3 220.6,1088.4 221.6,1088.2 222.6,1087.4 223.6,1088.3 224.6,1087.9 225.6,1089.0 226.6,1088.5 227.6,1087.6 228.6,1087.7 229.6,1087.4 230.6,1087.9 231.6,1087.8 232.6,1088.1 233.6,1087.8 234.6,1087.2 235.6,1087.5 236.6,1088.4 237.6,1088.3 238.6,1087.7 239.6,1087.7 240.6,1087.7 241.6,1087.8 242.6,1087.1 243.6,1088.2 244.6,1087.5 245.6,1087.9 246.6,1086.7 247.6,1087.9 248.6,1088.4 249.6,1086.8 250.6,1088.5 251.6,1088.0 252.6,1087.5 253.6,1087.1 254.6,1088.3 255.6,1087.9 256.6,1088.1 257.6,1087.7 258.6,1087.5 259.6,1088.2 260.6,1087.4 261.6,1088.2 262.6,1087.1 263.6,1087.4 264.6,1087.2 265.6,1088.4 266.6,1087.0 267.6,1087.3 268.6,1088.1 269.6,1087.9 270.6,1088.7 271.6,1088.6 272.6,1088.1 273.6,1088.1 274.6,1087.0 275.6,1087.4 276.6,1087.7 277.6,1087.7 278.6,1087.2 279.6,1087.4 280.6,1087.4 281.6,1088.3 282.6,1088.0 283.6,1087.7 284.6,1087.7 285.6,1087.9 286.6,1087.5 287.6,1087.7 288.6,1087.1 289.6,1088.1 290.6,1088.2 291.6,1088.0 292.6,1088.0 293.6,1088.0 294.6,1088.7 295.6,1087.9 296.6,1087.2 297.6,1087.3 298.6,1088.1 299.6,1088.3 300.6,1088.1 301.6,1088.2 302.6,1087.9 303.6,1087.1 304.6,1087.5 305.6,1087.0 306.6,1087.6 307.6,1087.2 308.6,1087.8 309.6,1087.7 310.6,1086.9 311.6,1088.1 312.6,1088.1 313.6,1087.2 314.6,1087.8 315.6,1088.1 316.6,1087.6 317.6,1088.1 318.6,1087.8 319.6,1088.2 320.6,1087.8 321.6,1087.7 322.6,1088.0 323.6,1088.1 324.6,1087.8 325.6,1087.5 326.6,1087.4 327.6,1087.5 328.6,1087.5 329.6,1087.8 330.6,1087.8 331.6,1087.7 332.6,1087.7 333.6,1087.8 334.6,1088.3 335.6,1088.2 336.6,1087.4 337.6,1087.8 338.6,1087.5 339.6,1087.6 340.6,1087.5 341.6,1087.4 342.6,1087.0 343.6,1086.5 344.6,1087.7 345.6,1088.1 346.6,1087.2 347.6,1087.8 348.6,1087.4 349.6,1087.7 350.6,1087.2 351.6,1087.4 352.6,1087.5 353.6,1086.5 354.6,1087.6 355.6,1087.5 356.6,1086.4 357.6,1087.8 358.6,1087.5 359.6,1087.6 360.6,1087.6 361.6,1087.3 362.6,1087.0 363.6,1087.2 364.6,1087.2 365.6,1088.4 366.6,1088.2 367.6,1087.2 368.6,1087.2 369.6,1087.5 370.6,1087.6 371.6,1087.0 372.6,1086.9 373.6,1088.2 374.6,1087.8 375.6,1086.6 376.6,1086.5 377.6,1086.9 378.6,1087.3 379.6,1087.5 380.6,1087.1 381.6,1086.5 382.6,1087.3 383.6,1087.4 384.6,1087.2 385.6,1086.9 386.6,1087.4 387.6,1087.1 388.6,1086.6 389.6,1087.1 390.6,1086.5 391.6,1087.5 392.6,1087.2 393.6,1086.6 394.6,1087.1 395.6,1087.5 396.6,1086.0 397.6,1086.9 398.6,1087.6 399.6,1086.2 400.6,1086.8 401.6,1086.2 402.6,1086.8 403.6,1085.8 404.6,1086.1 405.6,1086.5 406.6,1086.8 407.6,1086.9 408.6,1086.9 409.6,1087.2 410.6,1087.0 411.6,1087.0 412.6,1086.2 413.6,1086.5 414.6,1088.0 415.6,1087.5 416.6,1086.9 417.6,1086.8 418.6,1086.9 419.6,1086.2 420.6,1087.1 421.6,1085.9 422.6,1085.8 423.6,1086.5 424.6,1084.4 425.6,1085.1 426.6,1083.9 427.6,1084.0 428.6,1083.8 429.6,1083.4 430.6,1083.2 431.6,1082.5 432.6,1082.4 433.6,1081.6 434.6,1081.7 435.6,1081.0 436.6,1081.7 437.6,1080.7 438.6,1081.5 439.6,1081.0 440.6,1081.1 441.6,1081.8 442.6,1081.5 443.6,1080.7 444.6,1082.0 445.6,1080.7 446.6,1082.3 447.6,1082.3 448.6,1082.1 449.6,1083.1 450.6,1083.2 451.6,1084.5 452.6,1083.7 453.6,1085.0 454.6,1085.0 455.6,1084.3 456.6,1084.4 457.6,1085.5 458.6,1085.0 459.6,1085.2 460.6,1085.1 461.6,1084.7 462.6,1085.0 463.6,1084.8 464.6,1084.5 465.6,1085.1 466.6,1086.0 467.6,1086.0 468.6,1085.2 469.6,1085.3 470.6,1085.5 471.6,1085.9 472.6,1085.4 473.6,1085.1 474.6,1085.1 475.6,1085.8 476.6,1086.5 477.6,1085.1 478.6,1084.4 479.6,1085.7 480.6,1085.3 481.6,1085.4 482.6,1085.9 483.6,1085.4 484.6,1084.8 485.6,1084.5 486.6,1085.4 487.6,1084.9 488.6,1085.6 489.6,1084.9 490.6,1085.3 491.6,1084.8 492.6,1085.3 493.6,1085.3 494.6,1085.7 495.6,1086.1 496.6,1085.4 497.6,1085.1 498.6,1086.4 499.6,1085.7 500.6,1085.8 501.6,1085.8 502.6,1086.2 503.6,1086.0 504.6,1085.8 505.6,1085.9 506.6,1085.2 507.6,1085.3 508.6,1085.5 509.6,1085.6 510.6,1085.6 511.6,1085.7 512.6,1085.6 513.6,1085.4 514.6,1084.8 515.6,1086.0 516.6,1085.8 517.6,1085.2 518.6,1085.8 519.6,1085.8 520.6,1085.6 521.6,1084.8 522.6,1085.1 523.6,1085.3 524.6,1086.3 525.6,1085.2 526.6,1085.5 527.6,1085.1 528.6,1085.4 529.6,1085.8 530.6,1084.7 531.6,1084.4 532.6,1085.9 533.6,1085.7 534.6,1085.4 535.6,1086.1 536.6,1086.1 537.6,1084.7 538.6,1085.6 539.6,1086.2 540.6,1085.4 541.6,1085.5 542.6,1086.1 543.6,1085.5 544.6,1085.1 545.6,1085.4 546.6,1085.1 547.6,1085.9 548.6,1084.9 549.6,1086.1 550.6,1084.9 551.6,1085.7 552.6,1085.0 553.6,1085.5 554.6,1086.1 555.6,1086.2 556.6,1086.3 557.6,1085.6 558.6,1085.7 559.6,1085.8 560.6,1086.0 561.6,1085.5 562.6,1086.2 563.6,1085.8 564.6,1086.2 565.6,1085.9 566.6,1086.0 567.6,1085.4 568.6,1085.5 569.6,1085.1 570.6,1085.6 571.6,1085.6 572.6,1086.1 573.6,1085.1 574.6,1087.1 575.6,1085.6 576.6,1086.3 577.6,1086.2 578.6,1084.6 579.6,1085.6 580.6,1086.4 581.6,1084.6 582.6,1086.0 583.6,1085.3 584.6,1085.5 585.6,1085.8 586.6,1084.8 587.6,1085.8 588.6,1085.4 589.6,1085.4 590.6,1086.0 591.6,1087.3 592.6,1085.8 593.6,1085.9 594.6,1085.7 595.6,1085.4 596.6,1085.8 597.6,1086.4 598.6,1085.8 599.6,1086.1 600.6,1085.6 601.6,1086.8 602.6,1084.9 603.6,1086.0 604.6,1085.9 605.6,1085.8 606.6,1085.2 607.6,1085.2 608.6,1085.6 609.6,1085.7 610.6,1085.1 611.6,1085.2 612.6,1085.9 613.6,1086.1 614.6,1085.4 615.6,1085.4 616.6,1085.4 617.6,1086.8 618.6,1085.9 619.6,1085.7 620.6,1086.1 621.6,1086.7 622.6,1086.2 623.6,1085.0 624.6,1085.6 625.6,1085.5 626.6,1085.5 627.6,1085.1 628.6,1085.5 629.6,1085.2 630.6,1085.8 631.6,1085.7 632.6,1085.0 633.6,1084.9 634.6,1085.5 635.6,1086.0 636.6,1085.9 637.6,1085.7 638.6,1084.2 639.6,1085.5 640.6,1085.3 641.6,1085.5 642.6,1085.1 643.6,1085.5 644.6,1085.4 645.6,1086.9 646.6,1086.0 647.6,1085.6 648.6,1085.7 649.6,1085.6 650.6,1085.8 651.6,1085.5 652.6,1085.7 653.6,1086.1 654.6,1086.1 655.6,1085.8 656.6,1086.3 657.6,1085.8 658.6,1085.2 659.6,1084.9 660.6,1085.4 661.6,1085.7 662.6,1085.9 663.6,1086.2 664.6,1085.4 665.6,1085.3 666.6,1086.0 667.6,1086.2 668.6,1085.5 669.6,1085.8 670.6,1086.3 671.6,1085.8 672.6,1085.7 673.6,1084.7 674.6,1086.3 675.6,1086.0 676.6,1085.7 677.6,1085.5 678.6,1085.1 679.6,1085.6 680.6,1085.6 681.6,1086.2 682.6,1085.1 683.6,1086.3 684.6,1085.7 685.6,1086.2 686.6,1085.2 687.6,1085.8 688.6,1086.2 689.6,1085.7 690.6,1085.0 691.6,1085.5 692.6,1085.9 693.6,1085.0 694.6,1085.0 695.6,1085.8 696.6,1085.2 697.6,1086.0 698.6,1085.1 699.6,1084.8 700.6,1085.3 701.6,1086.3 702.6,1085.2 703.6,1085.6 704.6,1085.7 705.6,1085.2 706.6,1086.1 707.6,1085.7 708.6,1085.8 709.6,1084.8 710.6,1084.8 711.6,1084.3 712.6,1085.5 713.6,1085.5 714.6,1085.9 715.6,1086.2 716.6,1085.4 717.6,1085.4 718.6,1085.7 719.6,1086.2 720.6,1085.2 721.6,1085.8 722.6,1085.4 723.6,1085.4 724.6,1085.9 725.6,1085.1 726.6,1085.0 727.6,1085.8 728.6,1085.5 729.6,1085.3 730.6,1085.4 731.6,1085.7 732.6,1085.3 733.6,1085.8 734.6,1085.6 735.6,1086.1 736.6,1086.0 737.6,1085.8 738.6,1085.3 739.6,1085.4 740.6,1085.1 741.6,1086.6 742.6,1085.2 743.6,1085.6 744.6,1085.9 745.6,1084.7 746.6,1084.9 747.6,1085.1 748.6,1084.8 749.6,1084.7 750.6,1085.0 751.6,1085.8 752.6,1085.6 753.6,1085.2 754.6,1085.2 755.6,1084.5 756.6,1085.5 757.6,1085.4 758.6,1084.7 759.6,1085.2 760.6,1085.1 761.6,1084.9 762.6,1084.7 763.6,1084.8 764.6,1084.7 765.6,1085.3 766.6,1085.2 767.6,1085.2 768.6,1085.0 769.6,1084.9 770.6,1085.9 771.6,1084.2 772.6,1085.5 773.6,1085.1 774.6,1085.0 775.6,1084.7 776.6,1084.9 777.6,1084.4 778.6,1084.3 779.6,1084.9 780.6,1084.2 781.6,1085.3 782.6,1085.4 783.6,1083.3 784.6,1084.2 785.6,1085.0 786.6,1084.9 787.6,1084.9 788.6,1085.0 789.6,1085.1 790.6,1085.2 791.6,1085.6 792.6,1084.8 793.6,1085.1 794.6,1084.0 795.6,1084.7 796.6,1084.2 797.6,1085.3 798.6,1085.7 799.6,1084.9 800.6,1084.1 801.6,1084.6 802.6,1084.6 803.6,1084.7 804.6,1085.1 805.6,1085.0 806.6,1083.4 807.6,1085.2 808.6,1084.3 809.6,1084.3 810.6,1085.2 811.6,1084.4 812.6,1083.9 813.6,1083.9 814.6,1084.5 815.6,1084.9 816.6,1085.1 817.6,1084.4 818.6,1084.2 819.6,1085.1 820.6,1084.2 821.6,1085.0 822.6,1084.5 823.6,1084.5 824.6,1084.2 825.6,1084.5 826.6,1084.1 827.6,1084.0 828.6,1084.2 829.6,1084.0 830.6,1084.4 831.6,1084.3 832.6,1084.1 833.6,1084.1 834.6,1084.1 835.6,1085.0 836.6,1084.2 837.6,1083.9 838.6,1084.0 839.6,1084.4 840.6,1084.0 841.6,1084.0 842.6,1084.0 843.6,1084.2 844.6,1084.2 845.6,1084.3 846.6,1083.3 847.6,1083.5 848.6,1082.8 849.6,1084.4 850.6,1084.5 851.6,1084.5 852.6,1084.0 853.6,1084.4 854.6,1083.9 855.6,1083.8 856.6,1083.2 857.6,1083.5 858.6,1083.6 859.6,1084.2 860.6,1084.5 861.6,1083.6 862.6,1083.9 863.6,1083.9 864.6,1083.4 865.6,1082.9 866.6,1083.4 867.6,1083.0 868.6,1083.5 869.6,1083.6 870.6,1083.5 871.6,1083.5 872.6,1083.8 873.6,1083.1 874.6,1083.9 875.6,1082.8 876.6,1083.5 877.6,1083.7 878.6,1083.1 879.6,1082.7 880.6,1083.7 881.6,1083.1 882.6,1083.7 883.6,1083.7 884.6,1083.3 885.6,1083.3 886.6,1083.7 887.6,1083.5 888.6,1082.8 889.6,1083.3 890.6,1083.5 891.6,1083.3 892.6,1083.3 893.6,1083.1 894.6,1083.1 895.6,1082.7 896.6,1082.5 897.6,1083.6 898.6,1082.8 899.6,1083.1 900.6,1082.3 901.6,1083.1 902.6,1082.6 903.6,1084.3 904.6,1082.5 905.6,1082.5 906.6,1083.3 907.6,1083.4 908.6,1081.9 909.6,1082.9 910.6,1083.2 911.6,1082.2 912.6,1083.1 913.6,1082.5 914.6,1082.3 915.6,1082.6 916.6,1082.5 917.6,1082.1 918.6,1083.7 919.6,1082.4 920.6,1082.3 921.6,1083.0 922.6,1082.5 923.6,1083.2 924.6,1082.4 925.6,1082.7 926.6,1082.5 927.6,1082.6 928.6,1082.4 929.6,1082.4 930.6,1083.2 931.6,1082.1 932.6,1082.1 933.6,1082.2 934.6,1082.6 935.6,1082.5 936.6,1082.7 937.6,1081.7 938.6,1082.4 939.6,1082.2 940.6,1082.1 941.6,1082.3 942.6,1081.3 943.6,1082.3 944.6,1082.2 945.6,1081.5 946.6,1082.1 947.6,1082.8 948.6,1081.9 949.6,1082.4 950.6,1082.0 951.6,1081.7 952.6,1081.6 953.6,1081.9 954.6,1082.6 955.6,1082.4 956.6,1081.7 957.6,1082.4 958.6,1081.9 959.6,1081.6 960.6,1082.1 961.6,1081.5 962.6,1081.2 963.6,1082.5 964.6,1081.1 965.6,1082.1 966.6,1081.2 967.6,1081.8 968.6,1081.7 969.6,1081.6 970.6,1080.8 971.6,1081.7 972.6,1081.8 973.6,1081.4 974.6,1081.7 975.6,1082.2 976.6,1081.4 977.6,1081.8 978.6,1081.2 979.6,1081.9 980.6,1082.0 981.6,1082.8 982.6,1082.1 983.6,1081.9 984.6,1082.3 985.6,1081.2 986.6,1082.1 987.6,1081.4 988.6,1081.4 989.6,1082.1 990.6,1081.7 991.6,1082.2 992.6,1081.0 993.6,1081.7 994.6,1081.4 995.6,1081.5 996.6,1080.8 997.6,1082.0 998.6,1081.7 999.6,1081.2 1000.6,1081.0 1001.6,1081.2 1002.6,1082.2 1003.6,1081.5 1004.6,1081.4 1005.6,1081.8 1006.6,1081.6 1007.6,1081.7 1008.6,1081.9 1009.6,1081.7 1010.6,1081.9 1011.6,1081.0 1012.6,1081.6 1013.6,1081.4 1014.6,1081.6 1015.6,1081.5 1016.6,1081.2 1017.6,1081.4 1018.6,1081.9 1019.6,1081.3 1020.6,1081.0 1021.6,1081.8 1022.6,1081.9 1023.6,1081.4 1024.6,1081.5 1025.6,1081.1 1026.6,1081.4 1027.6,1081.9 1028.6,1081.8 1029.6,1081.5 1030.6,1081.3 1031.6,1080.7 1032.6,1081.5 1033.6,1081.6 1034.6,1081.8 1035.6,1082.3 1036.6,1081.5 1037.6,1081.8 1038.6,1080.8 1039.6,1081.8 1040.6,1081.7 1041.6,1081.9 1042.6,1081.6 1043.6,1081.5 1044.6,1081.9 1045.6,1080.9 1046.6,1081.5 1047.6,1081.7 1048.6,1080.8 1049.6,1080.6 1050.6,1081.3 1051.6,1081.1 1052.6,1081.2 1053.6,1081.0 1054.6,1080.1 1055.6,1080.2 1056.6,1080.1 1057.6,1079.1 1058.6,1078.7 1059.6,1078.0 1060.6,1078.6 1061.6,1078.9 1062.6,1077.4 1063.6,1078.4 1064.6,1078.5 1065.6,1078.0 1066.6,1078.2 1067.6,1078.1 1068.6,1078.4 1069.6,1079.0 1070.6,1079.5 1071.6,1079.5 1072.6,1080.1 1073.6,1080.1 1074.6,1079.7 1075.6,1081.1 1076.6,1081.3 1077.6,1080.7 1078.6,1082.0 1079.6,1081.6 1080.6,1081.6 1081.6,1082.5 1082.6,1080.7 1083.6,1081.1 1084.6,1082.2 1085.6,1081.8 1086.6,1081.6 1087.6,1082.7 1088.6,1082.3 1089.6,1081.6 1090.6,1081.9 1091.6,1082.6 1092.6,1083.1 1093.6,1081.5 1094.6,1082.5 1095.6,1082.3 1096.6,1081.7 1097.6,1082.5 1098.6,1081.9 1099.6,1082.4 1100.6,1083.4 1101.6,1082.9 1102.6,1083.1 1103.6,1083.1 1104.6,1083.0 1105.6,1083.3 1106.6,1082.4 1107.6,1082.8 1108.6,1083.4 1109.6,1082.7 1110.6,1082.9 1111.6,1083.6 1112.6,1083.8 1113.6,1082.9 1114.6,1082.9 1115.6,1083.5 1116.6,1083.4 1117.6,1083.0 1118.6,1083.6 1119.6,1083.6 1120.6,1083.5 1121.6,1084.7 1122.6,1084.1 1123.6,1083.9 1124.6,1084.0 1125.6,1084.9 1126.6,1084.1 1127.6,1083.3 1128.6,1083.8 1129.6,1083.7 1130.6,1083.5 1131.6,1083.9 1132.6,1083.9 1133.6,1083.8 1134.6,1083.6 1135.6,1084.2 1136.6,1083.2 1137.6,1084.2 1138.6,1083.9 1139.6,1084.0 1140.6,1082.9 1141.6,1084.7 1142.6,1083.2 1143.6,1083.6 1144.6,1084.3 1145.6,1083.8 1146.6,1083.9 1147.6,1083.1 1148.6,1083.9 1149.6,1084.2 1150.6,1084.4 1151.6,1084.0 1152.6,1084.2 1153.6,1084.4 1154.6,1083.9 1155.6,1083.9 1156.6,1085.1 1157.6,1083.8 1158.6,1084.8 1159.6,1084.3 1160.6,1084.9 1161.6,1084.0 1162.6,1084.5 1163.6,1084.4 1164.6,1084.2 1165.6,1084.4 1166.6,1083.9 1167.6,1084.3 1168.6,1084.1 1169.6,1084.6 1170.6,1084.3 1171.6,1083.7 1172.6,1084.1 1173.6,1084.3 1174.6,1083.9 1175.6,1084.9 1176.6,1084.5 1177.6,1084.7 1178.6,1084.0 1179.6,1084.1 1180.6,1084.8 1181.6,1083.7 1182.6,1084.5 1183.6,1084.3 1184.6,1084.1 1185.6,1084.3 1186.6,1083.8 1187.6,1084.4 1188.6,1083.7 1189.6,1083.7 1190.6,1084.8 1191.6,1083.9 1192.6,1083.2 1193.6,1084.6 1194.6,1083.8 1195.6,1082.5 1196.6,1084.0 1197.6,1084.4 1198.6,1084.2 1199.6,1084.7 1200.6,1083.9 1201.6,1084.2 1202.6,1083.4 1203.6,1083.9 1204.6,1084.5 1205.6,1084.0 1206.6,1083.8 1207.6,1082.8 1208.6,1083.4 1209.6,1083.0 1210.6,1083.9 1211.6,1083.1 1212.6,1083.6 1213.6,1082.9 1214.6,1084.1 1215.6,1082.7 1216.6,1083.2 1217.6,1084.3 1218.6,1083.2 1219.6,1082.6 1220.6,1083.2 1221.6,1083.3 1222.6,1083.2 1223.6,1081.9 1224.6,1082.7 1225.6,1081.6 1226.6,1083.3 1227.6,1082.5 1228.6,1082.1 1229.6,1082.6 1230.6,1082.4 1231.6,1081.6 1232.6,1082.7 1233.6,1081.8 1234.6,1081.1 1235.6,1082.4 1236.6,1082.3 1237.6,1082.1 1238.6,1081.7 1239.6,1081.0 1240.6,1081.7 1241.6,1082.0 1242.6,1081.4 1243.6,1081.6 1244.6,1080.2 1245.6,1080.7 1246.6,1080.2 1247.6,1078.7 1248.6,1078.1 1249.6,1078.0 1250.6,1077.8 1251.6,1077.4 1252.6,1076.5 1253.6,1076.0 1254.6,1075.4 1255.6,1075.0 1256.6,1074.7 1257.6,1074.3 1258.6,1073.6 1259.6,1073.5 1260.6,1072.9 1261.6,1073.3 1262.6,1072.7 1263.6,1073.8 1264.6,1073.3 1265.6,1073.9 1266.6,1074.0 1267.6,1074.9 1268.6,1075.9 1269.6,1076.6 1270.6,1077.1 1271.6,1077.7 1272.6,1079.0 1273.6,1079.7 1274.6,1080.4 1275.6,1081.1 1276.6,1080.7 1277.6,1080.1 1278.6,1081.2 1279.6,1080.6 1280.6,1081.1 1281.6,1082.3 1282.6,1082.3 1283.6,1081.9 1284.6,1082.1 1285.6,1082.5 1286.6,1081.9 1287.6,1083.0 1288.6,1082.8 1289.6,1083.9 1290.6,1082.7 1291.6,1083.8 1292.6,1083.1 1293.6,1084.0 1294.6,1083.2 1295.6,1084.0 1296.6,1083.6 1297.6,1083.4 1298.6,1083.8 1299.6,1084.1 1300.6,1084.1 1301.6,1084.6 1302.6,1084.3 1303.6,1082.7 1304.6,1083.7 1305.6,1082.9 1306.6,1083.5 1307.6,1083.8 1308.6,1082.8 1309.6,1082.7 1310.6,1083.1 1311.6,1082.7 1312.6,1083.3 1313.6,1082.5 1314.6,1082.3 1315.6,1082.6 1316.6,1081.3 1317.6,1081.3 1318.6,1080.5 1319.6,1080.8 1320.6,1080.8 1321.6,1080.7 1322.6,1079.7 1323.6,1079.1 1324.6,1078.8 1325.6,1078.1 1326.6,1078.4 1327.6,1078.4 1328.6,1076.1 1329.6,1075.5 1330.6,1076.4 1331.6,1074.3 1332.6,1074.4 1333.6,1072.9 1334.6,1073.1 1335.6,1072.4 1336.6,1071.5 1337.6,1071.2 1338.6,1070.4 1339.6,1070.2 1340.6,1070.5 1341.6,1070.0 1342.6,1069.1 1343.6,1069.3 1344.6,1069.9 1345.6,1070.6 1346.6,1071.5 1347.6,1072.1 1348.6,1073.7 1349.6,1074.5 1350.6,1075.7 1351.6,1076.7 1352.6,1078.0 1353.6,1078.1 1354.6,1080.2 1355.6,1080.3 1356.6,1080.8 1357.6,1081.2 1358.6,1081.7 1359.6,1081.8 1360.6,1081.9 1361.6,1082.0 1362.6,1081.6 1363.6,1082.7 1364.6,1082.7 1365.6,1082.9 1366.6,1084.3 1367.6,1082.6 1368.6,1083.7 1369.6,1084.4 1370.6,1084.5 1371.6,1084.8 1372.6,1083.8 1373.6,1084.2 1374.6,1085.0 1375.6,1084.8 1376.6,1085.8 1377.6,1085.3 1378.6,1085.4 1379.6,1085.6 1380.6,1085.4 1381.6,1085.7 1382.6,1085.4 1383.6,1085.8 1384.6,1085.7 1385.6,1086.1 1386.6,1085.4 1387.6,1085.5 1388.6,1086.4 1389.6,1086.4 1390.6,1085.9 1391.6,1086.3 1392.6,1085.9 1393.6,1087.4 1394.6,1085.8 1395.6,1087.3 1396.6,1086.3 1397.6,1086.9 1398.6,1086.6 1399.6,1086.6 1400.6,1087.2 1401.6,1087.2 1402.6,1086.8 1403.6,1086.5 1404.6,1087.9 1405.6,1087.7 1406.6,1087.1 1407.6,1087.0 1408.6,1087.3 1409.6,1087.2 1410.6,1087.8 1411.6,1086.9 1412.6,1087.3 1413.6,1087.0 1414.6,1088.0 1415.6,1088.2 1416.6,1087.4 1417.6,1087.7 1418.6,1088.2 1419.6,1087.4 1420.6,1087.2 1421.6,1088.1 1422.6,1087.9 1423.6,1087.6 1424.6,1088.4 1425.6,1087.9 1426.6,1087.0 1427.6,1088.0 1428.6,1087.8 1429.6,1088.7 1430.6,1087.9 1431.6,1087.8 1432.6,1088.1 1433.6,1088.0 1434.6,1087.3 1435.6,1088.0 1436.6,1087.8 1437.6,1088.6 1438.6,1089.1 1439.6,1087.5 1440.6,1087.6 1441.6,1087.7 1442.6,1087.8 1443.6,1087.8 1444.6,1088.1 1445.6,1088.6 1446.6,1087.5 1447.6,1087.4 1448.6,1087.3 1449.6,1088.6 1450.6,1088.7 1451.6,1087.4 1452.6,1087.4 1453.6,1088.2 1454.6,1088.6 1455.6,1088.6 1456.6,1088.2 1457.6,1088.4 1458.6,1088.3 1459.6,1087.9 1460.6,1089.0 1461.6,1088.1 1462.6,1087.6 1463.6,1087.9 1464.6,1087.4 1465.6,1088.1 1466.6,1088.6 1467.6,1087.6 1468.6,1088.6 1469.6,1089.1 1470.6,1088.3 1471.6,1087.6 1472.6,1087.7 1473.6,1088.0 1474.6,1087.5 1475.6,1087.5 1476.6,1088.0 1477.6,1088.0 1478.6,1088.4 1479.6,1087.5 1480.6,1088.9 1481.6,1088.5 1482.6,1088.5 1483.6,1087.8 1484.6,1088.8 1485.6,1087.9 1486.6,1088.9 1487.6,1088.5 1488.6,1087.6 1489.6,1087.8 1490.6,1088.8 1491.6,1088.4 1492.6,1087.9 1493.6,1088.1 1494.6,1088.1 1495.6,1087.6 1496.6,1087.9 1497.6,1087.6 1498.6,1087.7 1499.6,1088.1 1500.6,1087.5 1501.6,1088.2 1502.6,1087.9 1503.6,1088.2 1504.6,1088.2 1505.6,1088.4 1506.6,1088.1 1507.6,1088.1 1508.6,1087.7 1509.6,1088.0 1510.6,1087.4 1511.6,1087.6 1512.6,1088.1 1513.6,1087.7 1514.6,1087.9 1515.6,1087.2 1516.6,1088.3 1517.6,1087.4 1518.6,1087.8 1519.6,1087.6 1520.6,1088.0 1521.6,1087.4 1522.6,1087.1 1523.6,1086.7 1524.6,1087.4 1525.6,1086.9 1526.6,1087.7 1527.6,1088.1 1528.6,1086.4 1529.6,1086.8 1530.6,1087.5 1531.6,1087.9 1532.6,1087.4 1533.6,1087.4 1534.6,1087.5 1535.6,1087.4 1536.6,1087.8 1537.6,1087.1 1538.6,1085.9 1539.6,1085.9 1540.6,1085.9 1541.6,1085.0 1542.6,1084.7 1543.6,1084.1 1544.6,1083.5 1545.6,1083.6 1546.6,1082.6 1547.6,1081.8 1548.6,1081.4 1549.6,1081.3 1550.6,1081.8 1551.6,1080.5 1552.6,1080.5 1553.6,1079.6 1554.6,1077.8 1555.6,1078.3 1556.6,1077.2 1557.6,1076.3 1558.6,1075.8 1559.6,1076.6 1560.6,1074.5 1561.6,1074.4 1562.6,1074.8 1563.6,1074.2 1564.6,1072.9 1565.6,1073.4 1566.6,1073.1 1567.6,1073.3 1568.6,1073.9 1569.6,1073.6 1570.6,1074.1 1571.6,1075.4 1572.6,1074.5 1573.6,1075.8 1574.6,1076.8 1575.6,1076.8 1576.6,1077.8 1577.6,1078.2 1578.6,1079.6 1579.6,1080.0 1580.6,1081.3 1581.6,1082.0 1582.6,1082.1 1583.6,1082.4 1584.6,1083.2 1585.6,1083.6 1586.6,1083.5 1587.6,1085.1 1588.6,1085.2 1589.6,1086.0 1590.6,1085.5 1591.6,1087.0 1592.6,1088.0 1593.6,1087.7 1594.6,1087.2 1595.6,1088.2 1596.6,1088.4 1597.6,1088.7 1598.6,1088.7 1599.6,1089.1 1600.6,1088.7 1601.6,1089.1 1602.6,1088.8 1603.6,1089.2 1604.6,1089.7 1605.6,1089.0 1606.6,1089.6 1607.6,1089.0 1608.6,1089.3 1609.6,1089.4 1610.6,1090.1 1611.6,1089.3 1612.6,1090.2 1613.6,1089.0 1614.6,1089.7 1615.6,1090.2 1616.6,1090.2 1617.6,1089.4 1618.6,1089.4 1619.6,1090.4 1620.6,1089.4 1621.6,1090.3 1622.6,1089.9 1623.6,1090.1 1624.6,1091.2 1625.6,1090.9 1626.6,1090.6 1627.6,1089.6 1628.6,1090.4 1629.6,1090.3 1630.6,1090.3 1631.6,1091.0 1632.6,1089.6 1633.6,1090.6 1634.6,1090.5 1635.6,1090.1 1636.6,1091.3 1637.6,1090.0 1638.6,1090.6 1639.6,1090.6 1640.6,1089.6 1641.6,1090.0 1642.6,1090.2 1643.6,1091.0 1644.6,1091.1 1645.6,1091.0 1646.6,1090.8 1647.6,1089.7 1648.6,1090.9 1649.6,1090.6 1650.6,1091.3 1651.6,1091.4 1652.6,1091.9 1653.6,1091.2 1654.6,1091.2 1655.6,1090.4 1656.6,1091.0 1657.6,1090.4 1658.6,1091.4 1659.6,1090.4 1660.6,1090.9 1661.6,1090.6 1662.6,1090.8 1663.6,1091.3 1664.6,1090.8 1665.6,1091.2 1666.6,1090.6 1667.6,1091.8 1668.6,1090.9 1669.6,1091.6 1670.6,1092.2 1671.6,1090.1 1672.6,1090.8 1673.6,1091.2 1674.6,1091.8 1675.6,1091.1 1676.6,1091.5 1677.6,1091.0 1678.6,1091.7 1679.6,1090.9 1680.6,1091.8 1681.6,1090.1 1682.6,1090.6 1683.6,1092.4 1684.6,1091.7 1685.6,1091.2 1686.6,1092.6 1687.6,1092.2 1688.6,1092.2 1689.6,1091.5 1690.6,1092.1 1691.6,1092.0 1692.6,1091.1 1693.6,1092.1 1694.6,1091.8 1695.6,1092.5 1696.6,1092.6 1697.6,1091.7 1698.6,1091.8 1699.6,1092.2 1700.6,1092.4 1701.6,1092.0 1702.6,1092.1 1703.6,1092.5 1704.6,1092.5 1705.6,1092.8 1706.6,1092.5 1707.6,1092.0 1708.6,1091.6 1709.6,1092.8 1710.6,1092.3 1711.6,1092.4 1712.6,1092.4 1713.6,1091.9 1714.6,1092.4 1715.6,1091.5 1716.6,1092.5 1717.6,1092.3 1718.6,1093.6 1719.6,1093.0 1720.6,1092.7 1721.6,1092.9 1722.6,1093.2 1723.6,1092.6 1724.6,1092.9 1725.6,1092.8 1726.6,1094.2 1727.6,1093.1 1728.6,1092.2 1729.6,1093.5 1730.6,1094.3 1731.6,1092.7 1732.6,1094.8 1733.6,1093.2 1734.6,1093.7 1735.6,1093.0 1736.6,1093.2 1737.6,1092.8 1738.6,1092.9 1739.6,1092.4 1740.6,1093.9 1741.6,1092.9 1742.6,1093.6 1743.6,1093.6 1744.6,1093.2 1745.6,1093.5 1746.6,1093.5 1747.6,1093.3 1748.6,1093.6 1749.6,1093.6 1750.6,1093.1 1751.6,1093.0 1752.6,1093.2 1753.6,1093.7 1754.6,1094.2 1755.6,1094.3 1756.6,1093.8 1757.6,1094.1 1758.6,1093.7 1759.6,1094.1 1760.6,1093.7 1761.6,1093.8 1762.6,1093.4 1763.6,1093.4 1764.6,1094.2 1765.6,1092.6 1766.6,1093.0 1767.6,1092.5 1768.6,1093.0 1769.6,1093.2 1770.6,1092.0 1771.6,1090.7 1772.6,1092.1 1773.6,1092.0 1774.6,1090.8 1775.6,1091.4 1776.6,1091.4 1777.6,1090.4 1778.6,1091.8 1779.6,1091.8 1780.6,1091.9 1781.6,1091.5 1782.6,1091.9 1783.6,1092.2 1784.6,1093.0 1785.6,1092.6 1786.6,1094.0 1787.6,1093.8 1788.6,1092.8 1789.6,1094.9 1790.6,1094.4 1791.6,1094.2 1792.6,1094.6 1793.6,1093.8 1794.6,1094.8 1795.6,1093.6 1796.6,1094.4 1797.6,1095.6 1798.6,1095.6 1799.6,1094.9 1800.6,1094.7 1801.6,1095.6 1802.6,1095.2 1803.6,1095.4 1804.6,1095.7 1805.6,1094.9 1806.6,1095.8 1807.6,1094.5 1808.6,1096.3 1809.6,1094.9 1810.6,1095.4 1811.6,1095.4 1812.6,1096.1 1813.6,1096.2 1814.6,1096.0 1815.6,1096.2 1816.6,1096.2 1817.6,1096.0 1818.6,1095.2 1819.6,1095.0 1820.6,1095.1 1821.6,1096.2 1822.6,1096.1 1823.6,1096.2 1824.6,1096.4 1825.6,1096.2 1826.6,1095.9 1827.6,1095.7 1828.6,1095.5 1829.6,1097.0 1830.6,1096.9 1831.6,1095.9 1832.6,1096.4 1833.6,1096.8 1834.6,1097.3 1835.6,1096.3 1836.6,1096.7 1837.6,1097.2 1838.6,1095.8 1839.6,1096.3 1840.6,1096.7 1841.6,1096.4 1842.6,1097.7 1843.6,1097.2 1844.6,1096.8 1845.6,1096.3 1846.6,1097.2 1847.6,1097.1 1848.6,1096.6 1849.6,1096.6 1850.6,1096.1 1851.6,1096.8 1852.6,1097.2 1853.6,1097.3"/>
<polyline fill="none" stroke="#FF8C5A" stroke-width="5.0" stroke-linejoin="round" stroke-linecap="round" points="186.6,1208.3 187.6,1206.8 188.6,1204.7 189.6,1204.4 190.6,1204.9 191.6,1204.0 192.6,1202.8 193.6,1203.2 194.6,1205.1 195.6,1204.6 196.6,1203.0 197.6,1202.7 198.6,1204.7 199.6,1205.5 200.6,1204.3 201.6,1202.7 202.6,1201.1 203.6,1202.3 204.6,1201.6 205.6,1204.4 206.6,1204.3 207.6,1206.1 208.6,1207.8 209.6,1207.6 210.6,1205.4 211.6,1203.3 212.6,1203.6 213.6,1205.0 214.6,1203.8 215.6,1204.8 216.6,1204.8 217.6,1203.1 218.6,1202.3 219.6,1202.8 220.6,1207.0 221.6,1206.8 222.6,1205.8 223.6,1206.1 224.6,1206.5 225.6,1208.0 226.6,1207.6 227.6,1209.6 228.6,1209.8 229.6,1208.2 230.6,1208.8 231.6,1208.4 232.6,1209.2 233.6,1210.4 234.6,1212.0 235.6,1211.4 236.6,1208.4 237.6,1207.0 238.6,1207.4 239.6,1205.7 240.6,1206.9 241.6,1208.7 242.6,1211.3 243.6,1209.9 244.6,1209.2 245.6,1209.6 246.6,1208.8 247.6,1208.2 248.6,1206.7 249.6,1208.8 250.6,1209.5 251.6,1208.6 252.6,1207.0 253.6,1208.8 254.6,1209.1 255.6,1210.0 256.6,1207.2 257.6,1209.8 258.6,1209.5 259.6,1209.7 260.6,1206.8 261.6,1206.5 262.6,1208.0 263.6,1210.2 264.6,1208.9 265.6,1209.7 266.6,1208.6 267.6,1208.9 268.6,1207.1 269.6,1206.7 270.6,1207.2 271.6,1206.2 272.6,1206.8 273.6,1206.9 274.6,1205.6 275.6,1206.3 276.6,1206.2 277.6,1209.6 278.6,1209.6 279.6,1210.9 280.6,1209.7 281.6,1210.5 282.6,1209.4 283.6,1207.9 284.6,1206.7 285.6,1203.8 286.6,1204.5 287.6,1204.3 288.6,1206.9 289.6,1208.8 290.6,1209.2 291.6,1209.7 292.6,1207.5 293.6,1207.8 294.6,1206.7 295.6,1206.4 296.6,1205.8 297.6,1207.1 298.6,1209.8 299.6,1208.4 300.6,1205.2 301.6,1203.3 302.6,1204.9 303.6,1206.7 304.6,1207.5 305.6,1207.9 306.6,1207.1 307.6,1204.4 308.6,1200.6 309.6,1201.9 310.6,1203.2 311.6,1205.2 312.6,1203.0 313.6,1201.1 314.6,1198.6 315.6,1198.0 316.6,1197.3 317.6,1197.1 318.6,1198.8 319.6,1201.0 320.6,1203.8 321.6,1204.1 322.6,1203.0 323.6,1202.5 324.6,1203.5 325.6,1204.3 326.6,1204.7 327.6,1204.0 328.6,1204.1 329.6,1204.5 330.6,1203.9 331.6,1206.2 332.6,1204.7 333.6,1207.0 334.6,1204.5 335.6,1208.6 336.6,1209.5 337.6,1210.5 338.6,1208.5 339.6,1206.4 340.6,1207.6 341.6,1208.9 342.6,1213.5 343.6,1212.1 344.6,1213.3 345.6,1209.6 346.6,1211.6 347.6,1211.1 348.6,1212.3 349.6,1212.3 350.6,1210.7 351.6,1209.7 352.6,1208.9 353.6,1210.1 354.6,1207.8 355.6,1206.5 356.6,1203.1 357.6,1203.1 358.6,1202.3 359.6,1204.6 360.6,1207.8 361.6,1210.0 362.6,1207.0 363.6,1204.3 364.6,1201.2 365.6,1203.1 366.6,1204.5 367.6,1206.6 368.6,1207.2 369.6,1205.7 370.6,1202.8 371.6,1199.6 372.6,1199.9 373.6,1203.2 374.6,1207.3 375.6,1207.3 376.6,1207.0 377.6,1206.2 378.6,1208.2 379.6,1208.4 380.6,1207.2 381.6,1207.6 382.6,1208.6 383.6,1210.8 384.6,1208.4 385.6,1208.4 386.6,1206.3 387.6,1205.9 388.6,1206.1 389.6,1208.0 390.6,1211.5 391.6,1213.9 392.6,1214.8 393.6,1216.7 394.6,1214.7 395.6,1216.1 396.6,1212.8 397.6,1214.0 398.6,1213.1 399.6,1214.7 400.6,1215.6 401.6,1214.0 402.6,1214.6 403.6,1213.2 404.6,1215.8 405.6,1216.3 406.6,1217.0 407.6,1216.5 408.6,1214.8 409.6,1215.9 410.6,1215.6 411.6,1217.4 412.6,1214.8 413.6,1216.8 414.6,1214.6 415.6,1217.1 416.6,1214.3 417.6,1215.4 418.6,1213.1 419.6,1213.6 420.6,1212.1 421.6,1213.0 422.6,1212.1 423.6,1212.1 424.6,1211.8 425.6,1209.5 426.6,1209.6 427.6,1207.1 428.6,1205.7 429.6,1204.4 430.6,1203.8 431.6,1207.5 432.6,1206.4 433.6,1206.7 434.6,1205.0 435.6,1203.3 436.6,1203.9 437.6,1202.5 438.6,1206.4 439.6,1207.8 440.6,1209.1 441.6,1205.6 442.6,1203.9 443.6,1204.1 444.6,1206.9 445.6,1206.4 446.6,1204.9 447.6,1204.0 448.6,1203.3 449.6,1206.9 450.6,1206.3 451.6,1206.8 452.6,1204.7 453.6,1204.2 454.6,1204.5 455.6,1204.6 456.6,1205.6 457.6,1205.9 458.6,1207.7 459.6,1208.9 460.6,1207.8 461.6,1205.9 462.6,1206.4 463.6,1207.4 464.6,1208.2 465.6,1207.4 466.6,1209.0 467.6,1208.8 468.6,1208.9 469.6,1207.4 470.6,1208.2 471.6,1207.5 472.6,1210.8 473.6,1210.8 474.6,1212.1 475.6,1211.6 476.6,1212.2 477.6,1213.2 478.6,1212.9 479.6,1212.9 480.6,1212.4 481.6,1212.3 482.6,1215.1 483.6,1215.9 484.6,1216.7 485.6,1215.1 486.6,1216.9 487.6,1219.7 488.6,1219.1 489.6,1218.8 490.6,1216.4 491.6,1217.0 492.6,1216.6 493.6,1214.7 494.6,1215.7 495.6,1215.0 496.6,1214.9 497.6,1215.4 498.6,1215.6 499.6,1217.7 500.6,1213.7 501.6,1211.9 502.6,1209.4 503.6,1211.4 504.6,1212.8 505.6,1210.7 506.6,1209.6 507.6,1207.4 508.6,1210.5 509.6,1210.0 510.6,1208.4 511.6,1206.7 512.6,1205.3 513.6,1205.7 514.6,1205.8 515.6,1206.4 516.6,1207.6 517.6,1205.8 518.6,1209.1 519.6,1210.3 520.6,1212.9 521.6,1208.7 522.6,1204.6 523.6,1202.8 524.6,1204.1 525.6,1209.3 526.6,1211.9 527.6,1211.6 528.6,1210.4 529.6,1210.3 530.6,1211.0 531.6,1211.1 532.6,1210.1 533.6,1209.3 534.6,1206.5 535.6,1206.1 536.6,1208.1 537.6,1207.9 538.6,1206.2 539.6,1205.8 540.6,1204.2 541.6,1208.4 542.6,1207.3 543.6,1211.4 544.6,1211.6 545.6,1210.4 546.6,1208.4 547.6,1209.0 548.6,1210.4 549.6,1211.6 550.6,1209.4 551.6,1211.0 552.6,1212.9 553.6,1212.8 554.6,1211.3 555.6,1209.8 556.6,1210.2 557.6,1212.2 558.6,1212.6 559.6,1214.5 560.6,1212.3 561.6,1213.1 562.6,1213.5 563.6,1216.6 564.6,1217.0 565.6,1214.6 566.6,1212.9 567.6,1213.1 568.6,1215.2 569.6,1216.4 570.6,1215.6 571.6,1214.9 572.6,1216.4 573.6,1219.6 574.6,1219.2 575.6,1218.4 576.6,1215.6 577.6,1216.6 578.6,1221.2 579.6,1223.3 580.6,1223.5 581.6,1218.6 582.6,1217.1 583.6,1215.3 584.6,1215.9 585.6,1217.0 586.6,1220.9 587.6,1218.9 588.6,1219.7 589.6,1219.5 590.6,1219.1 591.6,1219.3 592.6,1215.7 593.6,1218.6 594.6,1219.5 595.6,1221.3 596.6,1221.0 597.6,1218.4 598.6,1218.6 599.6,1219.6 600.6,1220.1 601.6,1219.5 602.6,1218.6 603.6,1219.7 604.6,1217.8 605.6,1217.4 606.6,1215.5 607.6,1218.0 608.6,1219.0 609.6,1220.2 610.6,1221.0 611.6,1218.6 612.6,1217.6 613.6,1214.9 614.6,1216.1 615.6,1216.6 616.6,1217.5 617.6,1215.9 618.6,1215.7 619.6,1215.3 620.6,1217.4 621.6,1217.2 622.6,1219.0 623.6,1218.5 624.6,1216.6 625.6,1215.0 626.6,1213.0 627.6,1216.4 628.6,1218.3 629.6,1219.9 630.6,1219.3 631.6,1215.9 632.6,1213.3 633.6,1212.1 634.6,1213.5 635.6,1214.4 636.6,1215.2 637.6,1215.9 638.6,1218.5 639.6,1220.2 640.6,1220.8 641.6,1219.7 642.6,1218.0 643.6,1217.8 644.6,1217.1 645.6,1218.5 646.6,1219.0 647.6,1220.0 648.6,1217.7 649.6,1221.2 650.6,1222.5 651.6,1224.4 652.6,1222.1 653.6,1222.3 654.6,1221.5 655.6,1220.3 656.6,1218.1 657.6,1218.7 658.6,1216.2 659.6,1217.8 660.6,1217.7 661.6,1217.7 662.6,1219.5 663.6,1217.6 664.6,1220.7 665.6,1217.9 666.6,1219.6 667.6,1217.7 668.6,1221.3 669.6,1222.2 670.6,1225.2 671.6,1223.2 672.6,1222.9 673.6,1220.9 674.6,1219.8 675.6,1219.7 676.6,1219.8 677.6,1220.0 678.6,1217.7 679.6,1217.2 680.6,1218.2 681.6,1219.3 682.6,1220.1 683.6,1219.3 684.6,1218.7 685.6,1217.3 686.6,1216.7 687.6,1217.6 688.6,1218.4 689.6,1220.7 690.6,1219.8 691.6,1217.8 692.6,1217.3 693.6,1218.2 694.6,1220.5 695.6,1222.8 696.6,1225.1 697.6,1226.0 698.6,1224.2 699.6,1222.7 700.6,1223.2 701.6,1221.4 702.6,1220.5 703.6,1218.9 704.6,1221.5 705.6,1224.3 706.6,1224.2 707.6,1223.7 708.6,1221.7 709.6,1223.8 710.6,1222.1 711.6,1223.5 712.6,1222.1 713.6,1222.2 714.6,1221.1 715.6,1221.5 716.6,1221.2 717.6,1219.6 718.6,1221.5 719.6,1221.7 720.6,1221.3 721.6,1216.6 722.6,1213.8 723.6,1215.2 724.6,1219.6 725.6,1221.0 726.6,1221.3 727.6,1217.6 728.6,1220.8 729.6,1221.7 730.6,1224.2 731.6,1224.5 732.6,1226.1 733.6,1226.9 734.6,1224.6 735.6,1221.1 736.6,1218.6 737.6,1217.2 738.6,1220.9 739.6,1221.9 740.6,1224.2 741.6,1222.2 742.6,1224.8 743.6,1224.0 744.6,1225.1 745.6,1223.1 746.6,1223.5 747.6,1219.8 748.6,1220.5 749.6,1219.8 750.6,1221.5 751.6,1220.7 752.6,1221.6 753.6,1223.5 754.6,1222.4 755.6,1222.4 756.6,1221.4 757.6,1222.2 758.6,1222.8 759.6,1222.1 760.6,1223.5 761.6,1221.8 762.6,1220.3 763.6,1218.8 764.6,1221.0 765.6,1222.1 766.6,1221.3 767.6,1219.5 768.6,1220.3 769.6,1220.8 770.6,1221.5 771.6,1219.2 772.6,1221.2 773.6,1221.5 774.6,1222.5 775.6,1222.3 776.6,1222.1 777.6,1224.8 778.6,1221.8 779.6,1223.2 780.6,1221.4 781.6,1220.4 782.6,1219.3 783.6,1218.8 784.6,1220.0 785.6,1218.9 786.6,1216.9 787.6,1218.8 788.6,1218.8 789.6,1220.7 790.6,1221.7 791.6,1222.0 792.6,1221.5 793.6,1218.7 794.6,1218.6 795.6,1220.6 796.6,1221.1 797.6,1219.9 798.6,1219.7 799.6,1220.6 800.6,1221.8 801.6,1223.3 802.6,1221.9 803.6,1222.3 804.6,1217.9 805.6,1219.1 806.6,1219.8 807.6,1223.4 808.6,1222.5 809.6,1223.0 810.6,1222.8 811.6,1224.4 812.6,1226.5 813.6,1225.8 814.6,1225.1 815.6,1222.9 816.6,1220.9 817.6,1224.0 818.6,1224.9 819.6,1226.8 820.6,1225.9 821.6,1225.5 822.6,1228.4 823.6,1227.1 824.6,1225.0 825.6,1220.4 826.6,1220.9 827.6,1220.6 828.6,1222.8 829.6,1223.7 830.6,1225.0 831.6,1224.1 832.6,1225.0 833.6,1225.2 834.6,1226.6 835.6,1226.3 836.6,1224.9 837.6,1223.5 838.6,1225.3 839.6,1226.6 840.6,1226.4 841.6,1223.0 842.6,1222.5 843.6,1222.2 844.6,1221.9 845.6,1222.5 846.6,1223.8 847.6,1224.9 848.6,1222.7 849.6,1220.9 850.6,1221.1 851.6,1222.5 852.6,1225.6 853.6,1224.9 854.6,1223.7 855.6,1222.8 856.6,1221.1 857.6,1223.0 858.6,1223.7 859.6,1227.3 860.6,1226.8 861.6,1226.0 862.6,1223.8 863.6,1224.7 864.6,1220.7 865.6,1219.8 866.6,1219.1 867.6,1222.6 868.6,1222.0 869.6,1222.6 870.6,1223.2 871.6,1224.1 872.6,1222.8 873.6,1220.9 874.6,1220.9 875.6,1222.5 876.6,1224.6 877.6,1223.8 878.6,1221.2 879.6,1218.4 880.6,1220.1 881.6,1221.4 882.6,1222.6 883.6,1222.0 884.6,1222.1 885.6,1221.6 886.6,1219.7 887.6,1218.5 888.6,1218.8 889.6,1220.4 890.6,1220.7 891.6,1220.1 892.6,1221.2 893.6,1221.1 894.6,1221.9 895.6,1219.9 896.6,1219.4 897.6,1217.4 898.6,1217.1 899.6,1217.1 900.6,1219.9 901.6,1219.2 902.6,1219.7 903.6,1219.5 904.6,1220.7 905.6,1221.8 906.6,1222.0 907.6,1220.2 908.6,1219.1 909.6,1217.0 910.6,1220.5 911.6,1220.9 912.6,1222.6 913.6,1223.0 914.6,1222.7 915.6,1222.2 916.6,1220.7 917.6,1220.8 918.6,1222.2 919.6,1222.7 920.6,1224.2 921.6,1222.7 922.6,1221.4 923.6,1219.8 924.6,1219.3 925.6,1217.8 926.6,1218.6 927.6,1220.0 928.6,1221.9 929.6,1220.9 930.6,1220.0 931.6,1220.3 932.6,1221.2 933.6,1223.3 934.6,1222.0 935.6,1222.1 936.6,1220.8 937.6,1221.9 938.6,1221.2 939.6,1219.2 940.6,1218.4 941.6,1219.5 942.6,1222.3 943.6,1222.2 944.6,1221.9 945.6,1220.7 946.6,1222.6 947.6,1222.3 948.6,1222.1 949.6,1221.8 950.6,1220.1 951.6,1219.5 952.6,1216.2 953.6,1215.2 954.6,1214.0 955.6,1214.1 956.6,1216.9 957.6,1218.8 958.6,1220.1 959.6,1219.2 960.6,1217.6 961.6,1217.4 962.6,1217.6 963.6,1218.1 964.6,1217.7 965.6,1216.4 966.6,1215.2 967.6,1216.5 968.6,1216.7 969.6,1218.8 970.6,1217.4 971.6,1219.3 972.6,1216.1 973.6,1215.4 974.6,1214.2 975.6,1216.0 976.6,1216.4 977.6,1218.1 978.6,1217.4 979.6,1217.8 980.6,1214.6 981.6,1216.4 982.6,1216.9 983.6,1217.9 984.6,1214.0 985.6,1213.3 986.6,1212.2 987.6,1214.5 988.6,1215.0 989.6,1214.6 990.6,1214.4 991.6,1214.2 992.6,1215.2 993.6,1214.5 994.6,1212.2 995.6,1211.2 996.6,1210.0 997.6,1212.3 998.6,1213.1 999.6,1213.1 1000.6,1211.9 1001.6,1210.2 1002.6,1207.8 1003.6,1209.1 1004.6,1211.9 1005.6,1214.0 1006.6,1211.7 1007.6,1210.5 1008.6,1211.7 1009.6,1211.5 1010.6,1210.7 1011.6,1210.8 1012.6,1211.1 1013.6,1211.9 1014.6,1211.9 1015.6,1211.6 1016.6,1211.4 1017.6,1209.7 1018.6,1212.3 1019.6,1210.2 1020.6,1212.1 1021.6,1210.8 1022.6,1213.3 1023.6,1213.7 1024.6,1214.7 1025.6,1213.0 1026.6,1212.6 1027.6,1211.3 1028.6,1212.0 1029.6,1211.4 1030.6,1212.7 1031.6,1212.5 1032.6,1212.6 1033.6,1210.8 1034.6,1211.4 1035.6,1212.1 1036.6,1212.2 1037.6,1212.9 1038.6,1212.8 1039.6,1213.6 1040.6,1214.8 1041.6,1213.7 1042.6,1215.0 1043.6,1212.9 1044.6,1214.6 1045.6,1212.9 1046.6,1213.1 1047.6,1210.1 1048.6,1211.7 1049.6,1211.2 1050.6,1212.6 1051.6,1211.9 1052.6,1212.9 1053.6,1216.0 1054.6,1216.7 1055.6,1217.4 1056.6,1215.5 1057.6,1214.5 1058.6,1212.1 1059.6,1212.0 1060.6,1211.3 1061.6,1212.3 1062.6,1212.4 1063.6,1210.5 1064.6,1212.1 1065.6,1213.3 1066.6,1213.5 1067.6,1212.6 1068.6,1212.9 1069.6,1214.9 1070.6,1213.6 1071.6,1210.7 1072.6,1211.2 1073.6,1214.6 1074.6,1214.5 1075.6,1213.6 1076.6,1210.7 1077.6,1211.7 1078.6,1212.1 1079.6,1213.0 1080.6,1212.6 1081.6,1214.8 1082.6,1214.7 1083.6,1215.4 1084.6,1214.3 1085.6,1214.6 1086.6,1214.7 1087.6,1214.6 1088.6,1213.5 1089.6,1214.7 1090.6,1214.9 1091.6,1216.9 1092.6,1216.0 1093.6,1214.9 1094.6,1212.2 1095.6,1212.4 1096.6,1212.8 1097.6,1215.9 1098.6,1216.3 1099.6,1215.6 1100.6,1213.7 1101.6,1213.6 1102.6,1214.3 1103.6,1216.7 1104.6,1216.8 1105.6,1216.2 1106.6,1214.7 1107.6,1214.2 1108.6,1214.6 1109.6,1212.2 1110.6,1211.0 1111.6,1209.9 1112.6,1213.0 1113.6,1214.7 1114.6,1216.3 1115.6,1217.1 1116.6,1216.0 1117.6,1217.1 1118.6,1216.1 1119.6,1216.5 1120.6,1216.8 1121.6,1214.7 1122.6,1214.1 1123.6,1212.1 1124.6,1214.1 1125.6,1215.0 1126.6,1212.7 1127.6,1211.8 1128.6,1211.8 1129.6,1217.0 1130.6,1218.7 1131.6,1218.8 1132.6,1214.5 1133.6,1213.2 1134.6,1211.6 1135.6,1212.9 1136.6,1212.7 1137.6,1213.4 1138.6,1213.3 1139.6,1212.3 1140.6,1212.0 1141.6,1213.2 1142.6,1214.1 1143.6,1214.2 1144.6,1211.4 1145.6,1210.8 1146.6,1211.6 1147.6,1213.3 1148.6,1214.6 1149.6,1214.3 1150.6,1211.9 1151.6,1212.3 1152.6,1213.0 1153.6,1215.0 1154.6,1214.1 1155.6,1210.9 1156.6,1209.4 1157.6,1207.2 1158.6,1210.1 1159.6,1209.1 1160.6,1209.2 1161.6,1209.5 1162.6,1211.4 1163.6,1211.3 1164.6,1211.6 1165.6,1209.3 1166.6,1210.2 1167.6,1207.7 1168.6,1209.7 1169.6,1208.8 1170.6,1208.0 1171.6,1207.6 1172.6,1206.4 1173.6,1207.9 1174.6,1207.2 1175.6,1209.7 1176.6,1208.5 1177.6,1208.1 1178.6,1207.4 1179.6,1209.3 1180.6,1207.6 1181.6,1207.3 1182.6,1206.5 1183.6,1207.2 1184.6,1206.0 1185.6,1206.0 1186.6,1206.6 1187.6,1206.8 1188.6,1208.0 1189.6,1207.8 1190.6,1207.5 1191.6,1202.9 1192.6,1202.6 1193.6,1202.1 1194.6,1206.7 1195.6,1209.2 1196.6,1209.1 1197.6,1209.4 1198.6,1208.8 1199.6,1210.0 1200.6,1208.6 1201.6,1208.0 1202.6,1207.3 1203.6,1204.3 1204.6,1202.8 1205.6,1203.5 1206.6,1205.0 1207.6,1205.1 1208.6,1206.2 1209.6,1205.2 1210.6,1207.0 1211.6,1205.2 1212.6,1206.4 1213.6,1204.0 1214.6,1204.4 1215.6,1203.2 1216.6,1202.3 1217.6,1202.1 1218.6,1202.8 1219.6,1205.5 1220.6,1205.6 1221.6,1204.3 1222.6,1202.5 1223.6,1199.1 1224.6,1198.8 1225.6,1200.7 1226.6,1205.0 1227.6,1206.9 1228.6,1205.6 1229.6,1204.3 1230.6,1203.7 1231.6,1201.2 1232.6,1199.3 1233.6,1199.8 1234.6,1202.9 1235.6,1204.0 1236.6,1202.1 1237.6,1200.1 1238.6,1199.0 1239.6,1198.1 1240.6,1196.1 1241.6,1196.7 1242.6,1197.1 1243.6,1198.9 1244.6,1200.5 1245.6,1201.5 1246.6,1200.8 1247.6,1199.3 1248.6,1196.8 1249.6,1198.6 1250.6,1198.1 1251.6,1199.5 1252.6,1198.8 1253.6,1200.0 1254.6,1199.5 1255.6,1197.6 1256.6,1198.1 1257.6,1198.5 1258.6,1201.2 1259.6,1197.8 1260.6,1198.1 1261.6,1195.5 1262.6,1196.8 1263.6,1195.9 1264.6,1195.6 1265.6,1196.5 1266.6,1197.0 1267.6,1195.3 1268.6,1193.1 1269.6,1191.4 1270.6,1192.2 1271.6,1191.6 1272.6,1191.9 1273.6,1193.1 1274.6,1192.7 1275.6,1190.9 1276.6,1190.1 1277.6,1191.8 1278.6,1192.1 1279.6,1193.3 1280.6,1192.6 1281.6,1193.4 1282.6,1192.9 1283.6,1191.3 1284.6,1191.1 1285.6,1189.4 1286.6,1190.6 1287.6,1192.4 1288.6,1192.5 1289.6,1193.2 1290.6,1188.9 1291.6,1188.5 1292.6,1185.7 1293.6,1189.9 1294.6,1190.0 1295.6,1191.8 1296.6,1187.3 1297.6,1187.8 1298.6,1187.3 1299.6,1189.4 1300.6,1185.9 1301.6,1185.1 1302.6,1185.9 1303.6,1190.2 1304.6,1190.2 1305.6,1187.1 1306.6,1185.0 1307.6,1185.3 1308.6,1186.1 1309.6,1186.7 1310.6,1184.8 1311.6,1185.6 1312.6,1185.6 1313.6,1185.0 1314.6,1188.0 1315.6,1187.0 1316.6,1188.0 1317.6,1183.6 1318.6,1183.2 1319.6,1182.3 1320.6,1181.2 1321.6,1179.2 1322.6,1179.6 1323.6,1181.0 1324.6,1179.5 1325.6,1176.5 1326.6,1176.0 1327.6,1178.8 1328.6,1181.7 1329.6,1180.4 1330.6,1181.0 1331.6,1179.7 1332.6,1180.3 1333.6,1179.3 1334.6,1180.5 1335.6,1181.5 1336.6,1182.5 1337.6,1180.4 1338.6,1179.2 1339.6,1176.6 1340.6,1176.6 1341.6,1176.3 1342.6,1176.9 1343.6,1178.2 1344.6,1179.0 1345.6,1180.3 1346.6,1179.5 1347.6,1180.1 1348.6,1179.3 1349.6,1180.1 1350.6,1179.4 1351.6,1180.1 1352.6,1178.9 1353.6,1176.8 1354.6,1174.5 1355.6,1177.3 1356.6,1179.9 1357.6,1183.0 1358.6,1181.5 1359.6,1181.5 1360.6,1185.2 1361.6,1184.8 1362.6,1185.7 1363.6,1182.5 1364.6,1182.3 1365.6,1180.7 1366.6,1179.5 1367.6,1179.9 1368.6,1180.1 1369.6,1181.2 1370.6,1179.5 1371.6,1179.8 1372.6,1179.8 1373.6,1181.5 1374.6,1179.0 1375.6,1173.3 1376.6,1172.7 1377.6,1174.3 1378.6,1176.7 1379.6,1177.2 1380.6,1176.2 1381.6,1177.0 1382.6,1174.4 1383.6,1175.3 1384.6,1174.8 1385.6,1175.6 1386.6,1176.6 1387.6,1177.5 1388.6,1176.6 1389.6,1176.4 1390.6,1177.4 1391.6,1178.5 1392.6,1177.5 1393.6,1177.0 1394.6,1178.0 1395.6,1179.0 1396.6,1180.5 1397.6,1181.8 1398.6,1186.1 1399.6,1186.6 1400.6,1188.4 1401.6,1189.4 1402.6,1193.2 1403.6,1193.3 1404.6,1189.9 1405.6,1184.6 1406.6,1184.5 1407.6,1183.4 1408.6,1182.2 1409.6,1180.2 1410.6,1180.7 1411.6,1182.0 1412.6,1184.2 1413.6,1184.5 1414.6,1185.2 1415.6,1183.9 1416.6,1184.6 1417.6,1186.9 1418.6,1189.3 1419.6,1191.1 1420.6,1190.8 1421.6,1191.2 1422.6,1191.6 1423.6,1191.3 1424.6,1189.1 1425.6,1189.9 1426.6,1190.9 1427.6,1192.1 1428.6,1190.5 1429.6,1189.7 1430.6,1188.4 1431.6,1188.1 1432.6,1186.8 1433.6,1189.2 1434.6,1189.4 1435.6,1192.4 1436.6,1192.2 1437.6,1192.8 1438.6,1191.3 1439.6,1191.1 1440.6,1189.1 1441.6,1190.7 1442.6,1191.4 1443.6,1192.4 1444.6,1191.5 1445.6,1190.9 1446.6,1190.8 1447.6,1190.9 1448.6,1192.8 1449.6,1193.3 1450.6,1191.4 1451.6,1189.3 1452.6,1191.7 1453.6,1192.4 1454.6,1194.5 1455.6,1192.0 1456.6,1193.5 1457.6,1191.6 1458.6,1189.6 1459.6,1187.7 1460.6,1189.7 1461.6,1190.8 1462.6,1191.3 1463.6,1187.9 1464.6,1187.3 1465.6,1186.5 1466.6,1187.0 1467.6,1189.4 1468.6,1188.7 1469.6,1187.9 1470.6,1184.5 1471.6,1183.0 1472.6,1181.4 1473.6,1183.0 1474.6,1182.5 1475.6,1186.0 1476.6,1186.4 1477.6,1188.3 1478.6,1185.5 1479.6,1184.7 1480.6,1185.2 1481.6,1188.0 1482.6,1187.3 1483.6,1187.1 1484.6,1185.9 1485.6,1186.7 1486.6,1186.6 1487.6,1184.9 1488.6,1183.6 1489.6,1183.8 1490.6,1185.7 1491.6,1189.0 1492.6,1192.7 1493.6,1195.2 1494.6,1194.8 1495.6,1194.5 1496.6,1192.6 1497.6,1191.8 1498.6,1192.6 1499.6,1191.7 1500.6,1192.1 1501.6,1189.3 1502.6,1192.5 1503.6,1192.5 1504.6,1193.9 1505.6,1191.9 1506.6,1191.4 1507.6,1191.0 1508.6,1191.8 1509.6,1192.0 1510.6,1190.9 1511.6,1189.9 1512.6,1192.5 1513.6,1194.1 1514.6,1195.4 1515.6,1194.9 1516.6,1193.9 1517.6,1194.2 1518.6,1192.9 1519.6,1191.9 1520.6,1190.6 1521.6,1191.5 1522.6,1193.1 1523.6,1195.1 1524.6,1192.9 1525.6,1192.5 1526.6,1191.8 1527.6,1192.6 1528.6,1193.1 1529.6,1192.1 1530.6,1191.9 1531.6,1192.9 1532.6,1191.7 1533.6,1194.1 1534.6,1192.3 1535.6,1192.8 1536.6,1190.5 1537.6,1190.1 1538.6,1190.2 1539.6,1191.5 1540.6,1190.1 1541.6,1192.5 1542.6,1193.1 1543.6,1196.8 1544.6,1194.2 1545.6,1190.5 1546.6,1188.1 1547.6,1189.0 1548.6,1192.0 1549.6,1192.1 1550.6,1192.1 1551.6,1191.9 1552.6,1190.7 1553.6,1192.8 1554.6,1191.3 1555.6,1193.3 1556.6,1192.5 1557.6,1192.8 1558.6,1192.5 1559.6,1193.1 1560.6,1193.7 1561.6,1194.9 1562.6,1193.3 1563.6,1193.9 1564.6,1193.5 1565.6,1192.9 1566.6,1192.4 1567.6,1192.6 1568.6,1193.2 1569.6,1194.1 1570.6,1191.7 1571.6,1191.5 1572.6,1192.5 1573.6,1195.0 1574.6,1195.5 1575.6,1193.7 1576.6,1192.1 1577.6,1192.5 1578.6,1194.9 1579.6,1195.9 1580.6,1197.1 1581.6,1195.4 1582.6,1197.0 1583.6,1194.6 1584.6,1195.4 1585.6,1193.1 1586.6,1195.3 1587.6,1196.0 1588.6,1196.5 1589.6,1195.1 1590.6,1194.3 1591.6,1194.0 1592.6,1194.0 1593.6,1193.9 1594.6,1196.8 1595.6,1199.7 1596.6,1200.5 1597.6,1199.5 1598.6,1198.5 1599.6,1198.6 1600.6,1198.9 1601.6,1199.9 1602.6,1201.0 1603.6,1201.4 1604.6,1200.0 1605.6,1201.7 1606.6,1201.2 1607.6,1202.2 1608.6,1199.5 1609.6,1199.6 1610.6,1199.7 1611.6,1200.6 1612.6,1201.9 1613.6,1202.0 1614.6,1200.8 1615.6,1197.6 1616.6,1198.6 1617.6,1199.3 1618.6,1203.4 1619.6,1201.9 1620.6,1201.3 1621.6,1199.7 1622.6,1198.8 1623.6,1199.1 1624.6,1196.7 1625.6,1197.1 1626.6,1197.7 1627.6,1197.4 1628.6,1198.0 1629.6,1195.4 1630.6,1195.7 1631.6,1191.1 1632.6,1188.9 1633.6,1190.5 1634.6,1193.5 1635.6,1196.7 1636.6,1191.9 1637.6,1190.3 1638.6,1189.3 1639.6,1191.3 1640.6,1191.4 1641.6,1190.0 1642.6,1190.0 1643.6,1188.6 1644.6,1189.6 1645.6,1190.6 1646.6,1191.5 1647.6,1192.1 1648.6,1191.7 1649.6,1193.2 1650.6,1195.2 1651.6,1196.6 1652.6,1197.6 1653.6,1195.5 1654.6,1195.3 1655.6,1196.4 1656.6,1197.6 1657.6,1198.0 1658.6,1196.3 1659.6,1199.3 1660.6,1199.5 1661.6,1200.1 1662.6,1199.4 1663.6,1201.3 1664.6,1202.7 1665.6,1203.1 1666.6,1202.0 1667.6,1201.3 1668.6,1199.6 1669.6,1198.6 1670.6,1198.0 1671.6,1198.8 1672.6,1199.2 1673.6,1199.9 1674.6,1200.0 1675.6,1199.9 1676.6,1198.1 1677.6,1196.3 1678.6,1194.9 1679.6,1194.1 1680.6,1195.0 1681.6,1194.7 1682.6,1195.2 1683.6,1193.6 1684.6,1195.8 1685.6,1196.7 1686.6,1198.9 1687.6,1197.6 1688.6,1197.2 1689.6,1196.5 1690.6,1197.1 1691.6,1197.5 1692.6,1195.4 1693.6,1194.0 1694.6,1192.3 1695.6,1192.9 1696.6,1193.4 1697.6,1196.2 1698.6,1197.9 1699.6,1198.4 1700.6,1197.6 1701.6,1196.1 1702.6,1198.3 1703.6,1198.8 1704.6,1201.4 1705.6,1198.4 1706.6,1197.0 1707.6,1195.0 1708.6,1194.7 1709.6,1194.4 1710.6,1191.9 1711.6,1192.7 1712.6,1192.4 1713.6,1194.4 1714.6,1193.0 1715.6,1190.7 1716.6,1190.3 1717.6,1191.9 1718.6,1192.5 1719.6,1190.8 1720.6,1189.1 1721.6,1190.4 1722.6,1189.6 1723.6,1192.1 1724.6,1193.6 1725.6,1195.0 1726.6,1191.1 1727.6,1190.5 1728.6,1193.7 1729.6,1196.9 1730.6,1198.0 1731.6,1194.8 1732.6,1194.3 1733.6,1191.4 1734.6,1195.0 1735.6,1195.5 1736.6,1195.0 1737.6,1190.7 1738.6,1190.8 1739.6,1193.5 1740.6,1195.3 1741.6,1195.6 1742.6,1197.8 1743.6,1198.6 1744.6,1195.9 1745.6,1193.4 1746.6,1191.4 1747.6,1192.6 1748.6,1193.1 1749.6,1194.4 1750.6,1194.1 1751.6,1193.7 1752.6,1192.9 1753.6,1194.7 1754.6,1194.5 1755.6,1195.8 1756.6,1194.9 1757.6,1196.0 1758.6,1195.4 1759.6,1195.7 1760.6,1194.1 1761.6,1194.4 1762.6,1192.3 1763.6,1196.0 1764.6,1195.1 1765.6,1197.2 1766.6,1193.5 1767.6,1193.7 1768.6,1194.0 1769.6,1193.9 1770.6,1194.0 1771.6,1191.9 1772.6,1191.4 1773.6,1190.5 1774.6,1194.1 1775.6,1193.6 1776.6,1193.7 1777.6,1191.8 1778.6,1194.9 1779.6,1194.2 1780.6,1192.1 1781.6,1190.6 1782.6,1192.9 1783.6,1193.0 1784.6,1190.7 1785.6,1189.2 1786.6,1191.7 1787.6,1193.7 1788.6,1195.6 1789.6,1194.6 1790.6,1194.6 1791.6,1194.4 1792.6,1194.3 1793.6,1194.6 1794.6,1192.8 1795.6,1192.2 1796.6,1192.5 1797.6,1193.2 1798.6,1193.1 1799.6,1193.3 1800.6,1194.1 1801.6,1195.0 1802.6,1193.3 1803.6,1193.7 1804.6,1196.6 1805.6,1196.5 1806.6,1193.7 1807.6,1189.9 1808.6,1189.8 1809.6,1190.1 1810.6,1190.4 1811.6,1193.9 1812.6,1198.1 1813.6,1203.0 1814.6,1204.3 1815.6,1203.6 1816.6,1203.4 1817.6,1202.1 1818.6,1202.5 1819.6,1200.2 1820.6,1202.5 1821.6,1204.3 1822.6,1205.4 1823.6,1203.8 1824.6,1202.9 1825.6,1203.8 1826.6,1205.4 1827.6,1205.6 1828.6,1206.0 1829.6,1203.4 1830.6,1203.2 1831.6,1200.8 1832.6,1204.7 1833.6,1206.8 1834.6,1209.8 1835.6,1209.1 1836.6,1210.0 1837.6,1210.3 1838.6,1207.3 1839.6,1204.8 1840.6,1201.1 1841.6,1202.1 1842.6,1200.9 1843.6,1203.7 1844.6,1205.1 1845.6,1205.6 1846.6,1205.3 1847.6,1205.2 1848.6,1206.1 1849.6,1206.3 1850.6,1203.2 1851.6,1202.9 1852.6,1204.0 1853.6,1206.8"/>
<line x1="331.2" y1="1256.0" x2="331.2" y2="1267.5" stroke="#000" stroke-width="9.2"/>
<line x1="483.8" y1="1256.0" x2="483.8" y2="1281.0" stroke="#000" stroke-width="9.2"/>
<line x1="636.4" y1="1256.0" x2="636.4" y2="1267.5" stroke="#000" stroke-width="9.2"/>
<line x1="789.0" y1="1256.0" x2="789.0" y2="1281.0" stroke="#000" stroke-width="9.2"/>
<line x1="941.6" y1="1256.0" x2="941.6" y2="1267.5" stroke="#000" stroke-width="9.2"/>
<line x1="1094.2" y1="1256.0" x2="1094.2" y2="1281.0" stroke="#000" stroke-width="9.2"/>
<line x1="1246.8" y1="1256.0" x2="1246.8" y2="1267.5" stroke="#000" stroke-width="9.2"/>
<line x1="1399.3" y1="1256.0" x2="1399.3" y2="1281.0" stroke="#000" stroke-width="9.2"/>
<line x1="1551.9" y1="1256.0" x2="1551.9" y2="1267.5" stroke="#000" stroke-width="9.2"/>
<line x1="1704.5" y1="1256.0" x2="1704.5" y2="1281.0" stroke="#000" stroke-width="9.2"/>
<line x1="1857.1" y1="1256.0" x2="1857.1" y2="1267.5" stroke="#000" stroke-width="9.2"/>
<rect x="183.5" y="25.5" width="1674.8" height="1230.5" fill="none" stroke="#000" stroke-width="8.8"/>
<text x="483.8" y="1351.5" text-anchor="middle" class="tk">800</text>
<text x="789.0" y="1351.5" text-anchor="middle" class="tk">1000</text>
<text x="1094.2" y="1351.5" text-anchor="middle" class="tk">1200</text>
<text x="1399.3" y="1351.5" text-anchor="middle" class="tk">1400</text>
<text x="1704.5" y="1351.5" text-anchor="middle" class="tk">1600</text>
<text class="lb" transform="translate(506.58,189.20) scale(0.951,1)">AgNO</text>
<text class="lb sb" transform="translate(678.51,205.80) scale(1.130,1)">3</text>
<text class="lb" transform="translate(716.00,189.20) scale(0.975,1)">2.25 mL</text>
<text class="lb" transform="translate(511.28,443.50) scale(0.951,1)">AgNO</text>
<text class="lb sb" transform="translate(683.21,460.10) scale(1.130,1)">3</text>
<text class="lb" transform="translate(720.70,443.50) scale(0.975,1)">2.0 mL</text>
<text class="lb" transform="translate(505.58,571.10) scale(0.951,1)">AgNO</text>
<text class="lb sb" transform="translate(677.51,587.70) scale(1.130,1)">3</text>
<text class="lb" transform="translate(715.00,571.10) scale(0.975,1)">1.75 mL</text>
<text class="lb" transform="translate(503.08,745.20) scale(0.951,1)">AgNO</text>
<text class="lb sb" transform="translate(675.01,761.80) scale(1.130,1)">3</text>
<text class="lb" transform="translate(712.50,745.20) scale(0.975,1)">1.5 mL</text>
<text class="lb" transform="translate(505.58,885.20) scale(0.951,1)">AgNO</text>
<text class="lb sb" transform="translate(677.51,901.80) scale(1.130,1)">3</text>
<text class="lb" transform="translate(715.00,885.20) scale(0.975,1)">1.25 mL</text>
<text class="lb" transform="translate(499.38,1055.20) scale(0.951,1)">AgNO</text>
<text class="lb sb" transform="translate(671.31,1071.80) scale(1.130,1)">3</text>
<text class="lb" transform="translate(708.80,1055.20) scale(0.975,1)">1.0 mL</text>
<text class="lb2" transform="translate(504.10,1196.80) scale(0.972,1)">null AuNRs</text>
<text x="646.5" y="1493.4" class="ax">Raman shift (cm<tspan class="sp" dy="-37">-1</tspan><tspan dy="37" dx="3">)</tspan></text>
<text transform="translate(86,903) rotate(-90)" class="ax">Intensity (a.u.)</text>
</svg>
</body></html>
